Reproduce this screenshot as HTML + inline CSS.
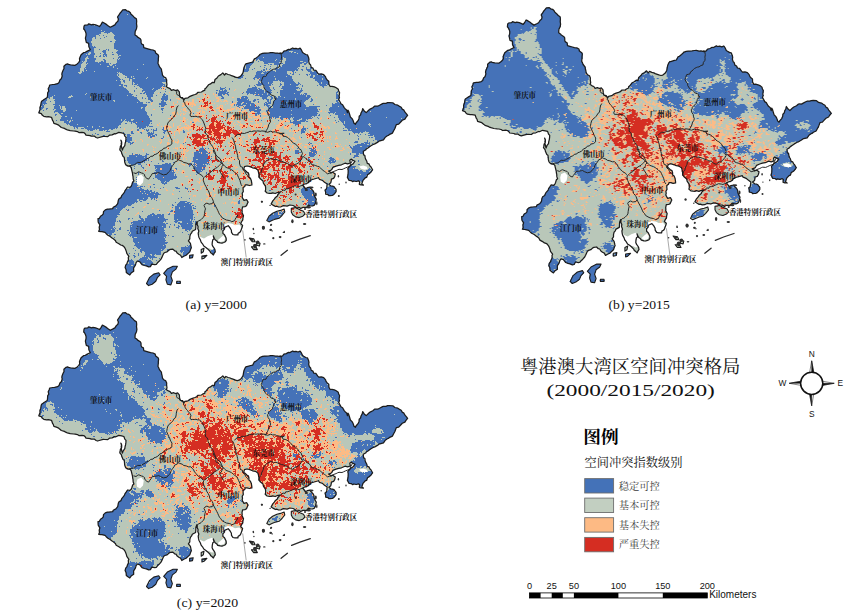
<!DOCTYPE html><html><head><meta charset="utf-8"><style>html,body{margin:0;padding:0;background:#fff}body{width:865px;height:612px;overflow:hidden;font-family:"Liberation Sans",sans-serif}svg{display:block}</style></head><body>
<svg width="865" height="612" viewBox="0 0 865 612">
<defs><filter id="soft" x="-2%" y="-2%" width="104%" height="104%"><feGaussianBlur stdDeviation="0.45"/></filter><path id="ol" d="M38.8,112.8 40.0,109.7 39.9,107.4 40.7,105.4 41.2,102.4 41.6,101.2 43.5,99.9 44.9,99.0 47.2,97.5 47.5,95.8 47.7,92.6 48.8,91.1 48.2,88.8 49.3,86.5 49.7,85.0 52.9,84.5 54.6,84.4 57.6,83.7 59.0,82.6 59.9,80.0 61.3,78.8 62.2,76.0 61.8,74.2 62.2,72.5 63.2,70.0 64.0,68.7 63.9,66.3 66.1,64.3 67.6,63.9 68.5,64.4 71.1,65.0 72.9,65.1 75.1,65.3 77.2,63.9 78.8,62.4 79.7,60.7 79.5,58.6 80.3,56.6 81.1,54.8 83.8,52.5 85.3,52.3 87.3,51.1 90.3,49.7 89.2,47.5 88.8,46.6 88.7,43.3 86.3,42.4 85.8,40.1 85.4,38.1 86.0,35.7 86.1,33.8 85.6,32.0 84.5,29.8 83.7,29.0 84.0,26.2 84.8,25.1 87.8,24.8 88.8,23.8 91.5,24.8 93.0,24.3 95.6,24.8 97.4,25.5 99.5,26.5 101.0,24.6 102.4,22.1 103.3,22.5 106.4,24.4 108.4,26.0 110.3,27.2 113.0,25.9 114.9,24.9 116.3,22.6 117.9,21.2 118.4,19.0 117.5,17.0 118.8,15.2 120.3,12.8 120.9,12.3 122.7,9.9 125.6,9.7 126.9,10.9 128.9,11.4 130.4,12.8 131.0,14.2 132.9,15.8 134.5,17.6 136.4,18.8 136.7,21.3 136.5,23.7 136.9,26.3 136.5,28.7 135.3,31.1 135.1,32.4 135.0,34.9 136.7,36.0 137.6,37.1 140.3,38.8 141.0,40.0 141.1,42.8 141.7,44.0 143.4,44.9 143.8,47.7 146.2,48.4 148.7,49.1 150.7,49.7 153.1,50.0 155.2,51.1 155.7,53.1 158.3,55.1 158.6,56.4 158.3,58.7 158.3,60.1 158.0,63.5 158.7,64.7 159.4,66.6 161.4,69.1 161.7,71.4 162.0,72.0 162.5,75.1 163.8,76.8 165.8,77.9 166.7,80.0 166.6,81.9 167.0,85.0 166.2,86.4 168.4,87.9 170.1,88.6 171.4,90.4 173.7,89.7 175.7,90.6 177.6,89.9 179.3,91.9 179.6,95.0 180.3,97.3 182.5,97.7 183.9,99.9 184.9,98.4 188.0,97.8 190.0,96.3 192.4,95.3 194.9,94.5 196.6,93.8 198.0,92.3 201.5,92.0 202.7,91.1 204.9,90.1 204.9,88.8 206.1,87.9 208.5,84.8 210.5,83.9 212.5,82.3 214.3,82.7 215.0,79.5 217.0,77.9 218.4,76.0 220.9,74.6 222.8,72.9 224.5,75.0 225.9,73.5 228.1,74.5 230.2,75.0 231.5,75.7 235.1,76.9 234.2,76.8 237.3,77.6 239.1,77.2 241.3,75.4 242.5,73.7 243.1,72.3 243.6,69.4 244.0,67.5 245.0,65.2 246.1,63.6 246.9,63.7 250.7,62.5 252.7,62.1 254.4,58.8 255.7,58.4 257.8,56.6 259.9,54.7 259.7,54.5 262.5,53.4 264.4,53.2 265.8,53.2 268.3,53.0 270.7,52.6 272.6,52.5 275.4,53.2 277.2,53.0 280.3,53.7 282.6,52.9 283.9,51.2 286.3,50.6 288.4,49.4 289.7,49.6 292.7,48.0 293.8,48.6 296.0,48.3 298.1,49.0 300.1,48.1 301.4,49.9 302.6,52.5 303.8,53.3 305.7,54.5 307.5,54.9 308.6,57.6 309.0,59.5 308.7,61.2 309.4,63.8 310.5,64.7 311.2,67.2 312.9,68.1 313.7,70.1 315.9,70.4 317.6,72.9 318.8,74.2 321.3,73.9 323.7,74.7 325.6,76.9 325.9,78.2 327.2,79.9 328.8,81.2 328.9,84.2 330.2,86.5 331.9,86.3 334.4,86.9 336.2,87.7 338.3,89.3 338.7,91.1 339.6,92.5 339.1,96.2 339.5,97.6 338.7,99.5 340.4,102.5 340.9,103.7 342.6,104.7 344.2,107.6 345.1,108.7 346.6,109.9 347.5,112.7 348.0,110.2 348.7,111.4 349.6,114.3 350.4,117.0 352.1,118.6 353.1,120.5 354.0,123.2 355.4,124.3 356.0,123.0 358.2,120.4 359.0,118.4 359.2,116.3 360.6,114.9 361.0,113.0 362.2,110.9 362.7,108.6 364.4,111.2 366.2,112.6 367.0,111.9 368.9,110.0 370.1,109.1 372.8,107.8 374.8,106.1 375.9,106.0 377.7,106.2 380.0,105.0 382.1,103.9 383.3,103.3 385.9,103.3 387.6,102.7 389.5,102.5 392.8,102.8 394.9,104.5 397.8,105.2 399.1,106.1 401.2,107.3 402.4,109.4 403.7,109.9 405.0,112.2 406.5,113.9 407.6,115.4 405.8,117.6 404.9,119.1 402.3,120.3 400.7,122.0 398.7,124.2 396.4,124.6 395.8,126.0 394.9,128.5 393.9,130.3 392.4,133.1 389.2,134.6 389.0,135.0 386.5,136.3 385.0,137.6 383.5,139.9 380.0,140.8 379.6,140.8 377.4,142.4 374.8,143.9 373.5,144.3 370.6,146.0 367.6,148.2 366.6,148.7 365.6,150.0 363.3,151.3 363.4,153.0 363.6,154.9 364.8,155.3 365.2,157.7 365.7,159.4 366.7,161.0 367.3,163.3 368.9,163.9 370.0,166.0 370.9,166.8 372.6,169.8 371.8,170.9 370.6,172.5 369.3,173.6 367.5,174.7 366.7,177.3 365.4,177.7 365.1,178.0 363.0,180.3 361.8,183.9 363.4,185.1 361.1,185.0 359.3,184.3 359.7,181.7 358.5,180.8 356.3,181.5 353.9,181.0 352.7,181.7 351.2,180.6 349.1,180.5 347.4,177.4 348.0,174.5 348.1,173.2 348.2,170.5 347.8,168.9 348.0,168.2 350.0,166.1 351.0,165.0 353.1,163.9 355.0,161.2 353.0,160.2 351.1,159.1 349.8,160.3 350.4,163.0 347.6,163.9 345.0,163.2 341.5,164.8 338.7,165.3 336.0,166.1 332.9,167.4 331.7,169.6 330.8,170.3 328.5,171.0 331.2,172.7 332.7,172.2 335.3,173.9 334.7,176.6 333.6,178.4 331.4,179.1 331.3,180.3 330.8,182.7 328.9,184.2 330.9,185.9 332.6,186.1 334.2,186.9 334.9,187.9 336.1,189.4 336.1,191.6 335.1,193.0 333.5,194.7 332.3,195.4 330.4,195.6 328.8,195.7 328.1,194.6 325.7,194.2 325.6,192.1 325.0,190.0 326.2,189.3 326.8,187.4 327.1,184.1 326.1,183.3 324.5,182.2 322.4,180.4 321.3,180.0 319.4,179.3 318.5,177.7 317.7,178.0 314.1,179.0 312.8,179.3 309.7,180.7 308.8,182.2 306.3,183.8 305.2,183.8 302.7,185.0 305.0,188.0 305.2,188.8 307.3,187.7 310.1,187.1 310.8,188.5 312.8,190.4 314.0,192.6 314.1,194.7 315.3,197.7 316.3,199.1 315.5,202.9 315.1,203.9 314.1,205.3 312.3,206.0 310.4,205.9 308.4,205.2 306.4,207.7 304.9,207.4 302.9,207.4 300.7,208.5 298.9,207.3 295.7,207.0 293.1,205.5 289.9,205.0 287.1,206.1 285.5,205.8 283.3,205.6 281.0,206.8 278.6,207.0 276.6,206.2 275.4,206.5 273.5,205.4 271.2,203.9 272.8,200.9 274.3,199.2 275.5,197.4 277.6,195.7 277.7,194.7 279.0,193.5 279.9,192.2 276.9,192.7 275.2,193.5 272.7,192.8 271.2,193.4 269.3,193.3 267.1,193.0 265.2,191.2 265.6,189.8 265.6,187.4 265.4,186.2 263.4,183.2 263.0,181.0 260.3,178.8 259.0,176.9 258.9,174.5 258.4,171.8 257.8,169.9 255.4,168.3 252.5,167.8 250.6,166.9 247.5,166.0 246.7,166.0 244.5,166.6 243.7,169.4 245.0,170.2 247.1,172.3 248.3,172.8 248.9,174.7 248.9,177.1 250.4,178.2 251.3,180.4 251.8,183.3 251.9,185.0 249.4,185.5 247.0,184.8 245.3,184.8 244.8,186.4 243.1,187.6 243.1,189.3 243.3,191.5 242.2,193.4 242.5,195.4 242.1,197.0 242.9,198.7 244.0,200.4 246.7,199.7 248.1,202.1 247.5,203.3 246.5,205.7 244.9,206.6 242.6,206.8 242.0,209.7 242.2,211.6 241.9,212.3 243.5,215.8 242.9,218.2 242.8,219.9 241.4,222.0 240.7,223.7 242.6,225.4 242.2,227.1 241.3,229.4 240.8,230.9 239.8,232.4 238.2,233.2 237.9,234.9 235.0,234.9 232.9,234.5 231.5,232.3 231.4,230.3 230.1,228.0 228.2,225.7 224.6,227.4 224.5,229.1 222.9,230.8 222.9,233.4 224.5,234.8 225.0,235.8 226.1,238.1 226.3,240.2 225.3,241.8 223.8,242.5 222.0,243.1 220.2,242.9 217.7,242.3 216.8,240.9 215.1,239.7 214.3,238.2 213.3,236.0 214.1,238.8 212.8,239.8 212.3,242.1 212.1,244.6 212.7,246.2 214.1,248.1 214.9,249.5 215.3,251.8 214.3,253.0 213.4,255.0 211.6,253.2 210.6,252.6 210.0,251.2 207.7,248.9 205.9,247.4 203.8,246.0 202.5,243.8 201.1,242.1 200.4,240.0 198.9,237.2 198.5,235.4 198.2,233.1 198.8,231.1 197.8,228.6 198.1,226.7 197.0,224.0 197.0,221.6 195.9,224.3 195.8,227.2 195.6,229.5 192.3,231.2 191.6,232.9 190.4,234.3 189.8,236.8 189.8,238.9 188.4,240.9 190.4,243.4 191.1,246.6 191.4,247.8 190.8,248.9 189.8,251.9 187.6,253.9 186.1,255.3 183.8,256.3 181.8,257.5 180.6,255.2 178.8,254.3 177.2,253.1 176.0,251.1 174.6,250.8 172.9,249.1 170.2,249.4 168.8,250.2 167.1,251.8 164.9,252.5 163.8,253.2 162.7,255.5 161.9,257.4 161.0,259.1 159.1,261.3 157.5,262.8 156.3,264.3 154.7,264.7 151.8,264.1 150.4,266.6 148.7,266.9 146.3,265.9 144.3,265.5 142.0,264.6 140.7,263.0 139.9,261.8 137.3,261.0 136.1,262.6 135.5,264.9 134.3,266.8 133.6,267.9 133.7,271.3 131.1,273.1 129.8,275.0 128.3,274.0 126.3,272.4 126.1,269.8 125.1,267.6 125.7,265.2 127.0,263.6 127.3,262.3 128.5,259.9 128.3,257.6 128.9,256.3 126.8,253.4 126.3,251.4 125.4,249.0 125.0,248.2 123.5,246.2 122.2,245.4 120.7,245.0 118.9,243.7 116.2,242.2 115.3,240.4 113.3,238.7 112.4,238.2 110.1,236.4 107.9,235.3 106.2,233.7 105.0,232.4 101.9,231.7 101.0,231.6 98.7,231.3 99.5,229.6 99.2,227.1 99.9,224.8 98.6,222.9 98.2,221.9 98.0,218.7 99.3,218.4 100.5,216.2 102.3,215.0 103.3,213.9 103.5,211.6 105.3,209.9 107.4,209.1 108.7,209.1 112.7,208.7 113.2,207.2 115.9,205.9 117.7,203.7 118.3,200.3 119.0,198.8 121.0,197.6 121.9,195.3 123.6,193.3 124.5,192.2 124.9,190.8 126.3,188.8 127.5,187.0 130.0,187.4 131.2,186.2 131.9,184.5 132.7,181.9 133.9,180.9 133.2,179.0 133.0,176.3 132.7,175.1 132.5,173.1 131.3,168.4 131.3,167.8 130.2,166.4 127.9,166.0 125.9,164.9 125.3,163.9 124.7,162.0 124.4,158.5 124.2,157.3 123.1,156.5 121.6,153.1 121.5,151.9 119.8,149.8 120.1,148.5 120.4,146.3 121.6,144.6 121.7,142.6 120.9,140.2 121.7,141.9 121.2,143.2 121.4,146.0 121.7,147.6 122.4,150.1 123.2,147.8 124.8,145.7 125.1,143.5 125.6,141.7 125.9,139.4 126.0,137.4 124.8,136.1 123.9,133.5 121.6,132.9 118.8,132.4 115.9,133.8 114.8,133.6 112.1,134.9 109.4,135.2 107.8,136.6 104.9,136.5 103.1,136.4 99.2,137.5 97.6,138.0 96.1,137.5 94.2,136.1 91.3,136.2 90.2,135.6 86.0,135.1 85.2,133.8 83.7,132.6 81.9,132.3 78.9,132.6 77.4,131.6 75.1,131.1 73.5,131.0 70.2,130.6 67.3,129.8 65.7,129.2 64.4,128.4 61.3,127.5 60.2,126.5 58.1,124.8 56.4,124.2 53.9,123.4 53.3,121.3 52.6,120.5 51.5,117.3 48.3,116.7 46.6,116.8 43.8,116.3 42.4,115.3 41.3,113.7Z"/><path id="isl" d="M291.3,208.3 295.6,207.6 299.9,209.7 303.5,211.2 305.0,214.0 302.8,216.2 299.2,217.6 295.6,216.9 292.7,214.7 291.3,211.9ZM266.8,220.5 269.0,216.2 272.6,213.3 276.9,211.2 280.5,210.4 284.1,209.0 284.8,211.9 282.0,215.5 279.1,218.3 275.5,219.1 271.9,220.5 269.0,221.9ZM146.5,283.5 149.4,277.7 153.7,274.1 158.7,272.7 160.1,274.8 157.3,277.7 155.8,281.3 152.2,284.2 148.6,285.6ZM163.7,273.4 167.3,269.1 173.1,266.2 177.4,266.2 176.0,269.1 172.4,271.9 170.9,276.3 172.4,280.6 170.9,284.9 167.3,284.2 165.9,279.9 166.6,276.3ZM176.7,281.3 180.3,281.3 180.3,283.5 176.7,283.5ZM189.6,255.4 193.2,254.7 192.5,257.6 189.6,258.3ZM201.2,249.6 204.0,248.2 203.3,251.8 201.2,253.2ZM201.9,256.1 206.9,255.4 204.0,258.3 201.9,259.0ZM249.4,238.1 253.7,238.8 255.1,241.7 252.2,241.7ZM256.5,242.4 260.1,243.2 259.4,246.0 256.8,245.3ZM251.5,246.8 255.8,246.8 257.3,249.6 253.7,249.6Z"/><path id="wat" d="M137.5,176.2 141.2,174.5 143.8,177.5 143.0,182.5 140.0,185.5 137.0,183.8 136.5,179.5ZM198.7,233.8 200.4,237.1 204.0,238.6 207.6,236.3 211.9,234.8 213.7,236.3 214.1,238.8 211.9,242.4 212.7,246.0 214.8,248.9 211.9,249.6 209.1,248.2 206.9,248.6 204.0,246.0 201.2,241.7 199.0,237.4ZM222.7,230.9 224.9,227.3 227.8,225.9 229.9,228.1 232.1,232.4 235.0,235.3 238.6,233.8 240.7,230.9 241.4,227.3 239.3,224.5 235.0,225.2 232.1,223.7 227.8,223.0 224.2,224.5 222.3,227.3ZM217.7,240.3 220.6,242.0 224.2,241.0 225.2,238.1 223.5,235.3 220.6,237.7ZM359.0,166.4 363.3,165.4 366.9,166.8 367.6,169.0 364.7,169.7 361.2,168.7Z"/><path id="inn" d="M279.8,52.1 281.1,53.7 281.3,55.1 281.6,56.8 281.2,59.3 281.4,60.8 281.2,62.5 279.7,64.5 279.3,67.0 277.3,67.6 275.3,69.0 273.8,69.2 273.1,69.4 270.6,70.7 269.9,71.3 268.3,73.1 267.0,73.8 266.0,76.2 264.6,76.4 262.9,76.8 262.0,79.5 261.3,81.6 262.4,83.9 264.0,85.9 264.0,87.6 265.6,90.2 267.0,91.7 268.6,92.0 270.0,93.5 270.8,94.8 274.0,96.0 275.0,96.6 274.5,98.3 276.3,98.9 274.6,100.1 273.6,101.6 273.2,103.8 272.5,105.5 271.3,106.9 269.8,108.2 268.3,109.6 268.5,110.9 267.5,111.7 268.1,114.5 269.5,116.5 269.9,119.0 270.6,120.9 270.0,122.8 268.9,124.2 268.1,127.1 267.4,128.8 266.4,130.4 265.1,132.1 266.5,131.7M183.8,99.6 183.4,101.8 184.7,102.3 185.0,104.2 186.2,106.2 187.6,107.6 187.7,108.0 189.8,110.3 191.0,112.8 190.0,115.0 191.0,116.7 192.2,116.4 194.2,116.5 196.0,116.2 197.3,116.8 199.6,116.9 200.8,118.2 202.2,119.7 203.1,121.1 203.9,123.0 204.7,125.2 205.2,126.8 205.9,128.1 205.2,129.8 205.6,131.4 205.3,133.4 206.9,134.5 207.8,136.2 208.1,138.9 209.3,140.6 210.2,143.3 211.0,144.4 212.6,146.5 213.2,147.6 213.9,149.3 214.4,150.9 215.5,153.3 215.6,155.3 216.1,157.8 216.1,159.0 217.6,159.6 219.6,161.4 220.6,161.9 222.2,163.9 223.4,164.8 221.8,166.7 221.8,167.5 221.2,169.3 219.5,170.6 220.7,172.8 221.5,174.1 223.1,176.8 224.5,178.1M234.6,137.3 235.7,135.8 238.0,134.3 240.3,134.6 241.9,133.2 244.4,133.5 246.7,132.6 249.0,132.0 249.8,131.2 251.6,131.6 254.1,130.9 256.3,131.2 257.7,130.9 260.9,131.3 261.8,130.9 265.1,131.3 266.7,132.0 267.6,132.3 270.7,131.2 272.7,132.0 275.2,131.8 276.6,132.6 279.4,133.1 280.9,133.4 283.2,133.2 284.2,133.3 282.3,133.8 279.7,133.7 282.1,133.7 283.1,136.3 285.1,136.4 287.6,137.4 288.6,138.5 290.3,139.7 292.1,142.0 293.7,143.2 295.1,143.9 296.8,145.2 298.3,147.0 299.2,148.8 301.4,150.1 301.3,150.7 302.5,153.7 301.2,155.9 302.4,157.6 301.2,159.7 300.1,161.0 298.8,162.7 296.6,164.0 295.9,164.1 294.1,165.1 292.5,166.4 290.3,165.6 289.2,164.7 287.6,163.4 285.1,162.9 283.1,161.8 281.3,161.5 279.1,160.5 277.2,159.8 275.2,159.2 273.6,159.7 271.7,158.5 270.0,158.8 267.7,160.1 266.2,161.0 264.9,162.6 263.7,164.2 263.2,166.7 262.7,167.7 261.5,170.1 261.2,172.3 259.8,173.8 259.2,175.8 258.8,177.5M232.0,137.5 232.6,138.2 233.6,140.1 234.5,143.2 235.0,144.8 235.5,146.2 235.8,149.0 236.2,150.0 236.8,151.8 237.2,153.8 237.6,155.3 237.8,157.3 238.2,159.1 239.5,160.5 239.5,163.9 239.6,163.7 240.5,166.6 242.5,167.2 242.8,169.1 243.3,170.2 245.0,171.6 245.7,173.5 247.5,175.4 247.8,176.3M184.0,99.4 181.5,98.2 180.2,97.1 178.9,95.5 177.2,94.8 176.6,93.8 176.7,91.4 176.1,90.0M178.5,105.7 177.1,106.8 176.3,110.2 176.2,111.9 175.5,114.7 174.0,115.7 173.4,117.1 172.0,118.9 171.1,119.8 169.1,121.3 167.9,123.0 167.2,125.5 166.9,127.3 166.6,128.6 167.8,131.3 168.6,133.3 169.6,135.1 170.3,137.1 171.1,138.7 172.0,140.1 171.8,142.0 171.9,143.9 169.9,145.6 167.5,146.1 165.7,148.0 163.6,148.3 162.3,150.0 159.6,151.1 159.2,151.9 157.8,153.2 155.8,154.3 154.0,154.8 153.0,156.1 150.6,156.4 149.0,158.1 146.7,158.7 145.6,159.9 143.0,161.2 141.6,162.1 140.0,162.5 137.5,162.4 136.2,163.4 134.2,164.9 132.0,165.3 131.1,165.3 128.6,165.9 126.6,165.8M133.5,172.8 136.0,173.5 137.8,172.2 138.8,171.8 141.6,173.0 143.2,173.4 144.7,174.9 144.6,176.2 146.0,177.3 146.6,178.4 148.7,179.1 149.6,177.6 151.2,175.5 152.3,173.5 155.1,173.3 157.8,172.8 158.8,172.6 160.6,173.7 163.6,174.9 166.9,174.2 167.7,173.1 168.6,172.0 170.3,170.4 171.1,167.8 172.4,165.8 173.0,165.1 174.4,163.1 174.6,162.2 177.6,160.8 178.4,159.7 179.7,160.4 182.2,161.2 183.8,162.5 186.2,162.9 188.7,163.9 190.9,163.8 192.6,165.7 193.6,166.8 194.5,168.9 195.7,170.2 196.6,171.6 198.5,173.0 199.3,174.0 201.8,175.3 202.9,176.9M204.2,177.5 206.2,175.4 207.7,174.4 208.9,174.0 210.2,172.0 211.8,171.4 212.8,170.1 215.5,168.3 217.3,167.4 219.1,165.6 220.4,164.3 222.0,162.7 221.4,161.2 220.1,158.7 218.0,157.1 216.8,156.0 215.5,154.3 213.8,152.2 213.3,150.0M203.7,177.4 203.2,180.1 204.1,182.8 204.7,184.3 205.9,186.5 207.0,188.8 208.2,190.5 209.3,193.0 209.8,195.5 211.6,197.5 212.3,198.6 213.5,201.7 212.2,203.7 210.1,203.9 209.2,204.2 206.9,203.1 205.0,204.0 204.0,205.5 204.8,207.3 205.5,208.9 205.0,210.2 204.5,213.4 204.2,216.0 202.9,217.8 201.3,219.4 200.0,220.4 198.8,220.5 197.3,222.3 197.2,223.5 196.0,224.8M213.2,201.8 214.3,203.9 215.5,206.1 216.7,208.3 217.7,210.3 218.5,212.2 219.5,214.3 220.9,215.8 221.8,217.5 224.3,219.0 226.4,220.0 229.8,220.6 230.6,220.8 231.6,221.9 234.7,220.6 235.2,219.3 236.0,217.5 236.9,217.0 237.8,214.7M222.2,163.1 222.9,164.3 224.8,166.3 226.1,167.4 228.2,168.2 229.9,168.8 231.5,169.7 233.0,170.8 234.4,171.9 235.3,172.9 236.8,173.7 237.8,175.8 238.5,177.3 239.9,180.3 240.6,182.9 241.1,184.5 242.1,186.0M302.4,156.3 304.4,157.1 306.2,158.9 307.6,160.0 309.3,160.8 310.8,163.0 311.0,164.0 312.6,164.7 314.4,165.2 315.7,165.6 317.4,166.3 319.2,166.8 320.7,168.1 322.3,169.9 324.6,171.5 325.6,172.2 327.4,173.8 329.6,173.3 331.1,173.1 332.8,172.1 333.2,171.6 336.1,170.6 337.6,169.8 339.0,169.3 342.0,169.5 343.6,168.8 345.5,167.9 347.4,167.1 349.9,166.2 350.5,163.8 351.7,161.9 352.5,160.0M280.0,192.1 281.5,191.7 282.9,190.0 285.1,190.4 285.6,188.9 287.9,188.7 290.1,187.8 291.4,187.3 293.1,186.6 294.8,185.8 297.6,186.2 299.2,186.6 300.8,185.8 302.8,185.3"/><g id="spk" fill="#303030"><ellipse cx="306.4" cy="189.9" rx="1.5" ry="1.2"/><ellipse cx="311.5" cy="187.4" rx="2.0" ry="1.0"/><ellipse cx="315.8" cy="194.6" rx="1.0" ry="2.0"/><ellipse cx="316.8" cy="203.2" rx="0.7" ry="2.0"/><ellipse cx="308.6" cy="207.2" rx="2.0" ry="1.2"/><ellipse cx="305.0" cy="209.0" rx="1.0" ry="1.0"/><ellipse cx="338.4" cy="176.3" rx="0.7" ry="1.2"/><ellipse cx="346.0" cy="182.4" rx="0.7" ry="1.0"/><ellipse cx="339.2" cy="184.2" rx="0.7" ry="0.7"/><ellipse cx="338.8" cy="196.0" rx="1.0" ry="1.0"/><ellipse cx="292.4" cy="221.2" rx="1.2" ry="2.0"/><ellipse cx="304.6" cy="224.1" rx="1.7" ry="1.0"/><ellipse cx="261.8" cy="201.4" rx="1.0" ry="0.7"/><ellipse cx="270.1" cy="205.4" rx="0.7" ry="0.7"/><ellipse cx="263.3" cy="227.7" rx="1.5" ry="2.0"/><ellipse cx="271.2" cy="224.8" rx="1.0" ry="1.0"/><ellipse cx="272.2" cy="230.9" rx="0.7" ry="0.7"/><ellipse cx="283.8" cy="232.4" rx="1.2" ry="0.7"/><ellipse cx="253.5" cy="229.5" rx="0.7" ry="0.7"/><ellipse cx="253.9" cy="233.5" rx="0.7" ry="0.7"/><ellipse cx="321.2" cy="187.8" rx="0.7" ry="0.7"/><ellipse cx="295.6" cy="194.6" rx="1.0" ry="1.0"/><ellipse cx="252.0" cy="239.7" rx="1.4" ry="1.4"/><ellipse cx="255.1" cy="245.5" rx="2.1" ry="1.8"/><ellipse cx="257.7" cy="242.3" rx="1.8" ry="1.8"/><ellipse cx="255.1" cy="247.5" rx="1.4" ry="1.1"/><ellipse cx="261.9" cy="201.8" rx="1.1" ry="1.1"/><ellipse cx="263.5" cy="227.8" rx="1.4" ry="1.8"/><ellipse cx="270.7" cy="229.9" rx="1.4" ry="1.1"/><ellipse cx="273.3" cy="238.2" rx="1.1" ry="1.1"/><ellipse cx="280.1" cy="237.1" rx="1.4" ry="1.1"/><ellipse cx="284.3" cy="231.9" rx="0.7" ry="1.1"/><ellipse cx="253.3" cy="228.8" rx="0.8" ry="1.1"/><ellipse cx="270.7" cy="225.2" rx="0.7" ry="0.7"/><ellipse cx="264.3" cy="243.9" rx="1.3" ry="0.7"/><ellipse cx="244.9" cy="239.9" rx="0.8" ry="0.8"/><path d="M291.6,242.4 299.9,239.1 310.3,235.6" fill="none" stroke="#2b2b2b" stroke-width="1.3" stroke-linecap="round"/><path d="M281.1,255.3 287.4,250.3" fill="none" stroke="#2b2b2b" stroke-width="1.3" stroke-linecap="round"/></g></defs>
<g transform="translate(0.0,0.0)">
<use href="#ol" fill="#b9c7b9"/><use href="#isl" fill="#b9c7b9"/><use href="#wat" fill="#fff"/>
<g transform="translate(0,0.5)" fill="none" stroke-width="1.02" filter="url(#soft)">
<path stroke="#4472b8" d="M122 10h5M121 11h8M121 12h9M120 13h11M119 14h8m1 0h3M118 15h15M118 16h16M118 17h16M118 18h18M118 19h19M118 20h19M117 21h20M102 22h1m13 0h21M102 23h3m11 0h21M88 24h3m1 0h2m7 0h6m8 0h22M84 25h10m1 0h3m2 0h8m6 0h23M84 26h25m3 0h25M84 27h53M84 28h53M84 29h52M85 30h16m1 0h34M85 31h19m1 0h30M86 32h15m3 0h6m2 0h23M86 33h15m6 0h1m5 0h22M86 34h13m15 0h21M86 35h10m3 0h1m3 0h1m11 0h21M86 36h10m10 0h1m7 0h23M85 37h8m2 0h1m8 0h1m9 0h24M85 38h7m3 0h1m4 0h1m13 0h26M86 39h6m23 0h26M86 40h6m24 0h25M86 41h5m19 0h2m3 0h26M87 42h4m24 0h26M88 43h4m22 0h28M88 44h4m22 0h29M89 45h3m22 0h30M89 46h4m1 0h1m19 0h30M89 47h7m18 0h30M90 48h4m20 0h33m147 0h3m2 0h2M90 49h4m5 0h1m6 0h1m1 0h1m7 0h34m140 0h11M88 50h6m9 0h3m2 0h1m9 0h36m132 0h16M87 51h7m8 0h4m11 0h38m128 0h6m4 0h9M85 52h4m2 0h3m9 0h3m6 0h1m3 0h40m115 0h2m10 0h8m1 0h2m2 0h7M83 53h5m3 0h4m5 0h1m3 0h2m11 0h39m106 0h35m1 0h6M81 54h5m1 0h1m2 0h5m8 0h4m5 0h2m4 0h40m102 0h46M81 55h13m6 0h1m2 0h1m1 0h2m11 0h1m2 0h38m100 0h49M80 56h7m1 0h6m2 0h1m2 0h2m2 0h2m1 0h1m12 0h40m99 0h50M80 57h6m2 0h6m24 0h41m98 0h6m1 0h19m1 0h25M79 58h6m4 0h7m17 0h1m4 0h1m1 0h39m96 0h28m3 0h23M79 59h6m2 0h9m7 0h2m12 0h1m1 0h40m95 0h1m1 0h2m1 0h17m1 0h6m3 0h23M79 60h6m2 0h8m9 0h2m11 0h42m94 0h1m2 0h1m3 0h15m1 0h4m6 0h23M79 61h3m1 0h1m3 0h8m6 0h2m1 0h2m11 0h41m95 0h1m4 0h1m4 0h18m4 0h15m3 0h5M79 62h4m3 0h12m1 0h7m11 0h41m92 0h4m10 0h15m6 0h19m2 0h2M77 63h5m4 0h1m1 0h21m1 0h1m5 0h42m88 0h7m11 0h4m6 0h6m1 0h2m2 0h17m2 0h3M66 64h3m7 0h5m6 0h13m1 0h8m4 0h30m1 0h15m86 0h7m16 0h1m1 0h2m2 0h6m3 0h17m4 0h2M65 65h16m5 0h24m2 0h3m1 0h43m87 0h5m13 0h2m11 0h1m4 0h18M64 66h17m5 0h21m2 0h4m1 0h46m84 0h1m1 0h4m10 0h1m9 0h1m6 0h1m2 0h1m1 0h18m2 0h2M64 67h17m4 0h28m1 0h46m84 0h1m1 0h4m14 0h1m11 0h1m3 0h18m8 0h1m3 0h2M64 68h16m4 0h1m1 0h31m1 0h43m83 0h1m1 0h3m5 0h1m11 0h1m3 0h1m4 0h3m1 0h18m1 0h1m7 0h1m3 0h2M63 69h17m4 0h53m1 0h24m81 0h6m3 0h1m10 0h2m1 0h1m2 0h1m5 0h23m3 0h2m3 0h5M63 70h17m4 0h2m1 0h75m81 0h6m12 0h1m1 0h2m6 0h2m3 0h19m1 0h2m4 0h1m4 0h4M62 71h18m2 0h1m1 0h10m1 0h67m81 0h5m9 0h6m2 0h1m1 0h8m1 0h11m5 0h2m14 0h4m2 0h2M62 72h16m4 0h35m1 0h1m1 0h42m94 0h6m1 0h24m6 0h1m1 0h1m14 0h7M62 73h17m2 0h37m4 0h40m80 0h1m13 0h5m3 0h23m3 0h1m2 0h1m16 0h8M62 74h55m1 0h1m4 0h40m79 0h1m13 0h32m4 0h2m5 0h1m6 0h2m1 0h1m1 0h6m1 0h5M62 75h55m1 0h1m6 0h38m78 0h3m11 0h10m1 0h24m17 0h1m3 0h2m2 0h7m1 0h2M62 76h56m9 0h4m1 0h1m1 0h29m77 0h3m12 0h19m1 0h11m1 0h5m18 0h3m2 0h10M62 77h57m6 0h1m1 0h4m1 0h15m1 0h17m70 0h8m11 0h38m18 0h3m1 0h12M61 78h59m9 0h4m2 0h11m1 0h17m74 0h3m4 0h1m7 0h2m2 0h2m1 0h15m1 0h16m21 0h9m1 0h3M60 79h61m1 0h1m6 0h1m2 0h34m88 0h1m4 0h16m1 0h17m22 0h7m1 0h4M60 80h56m1 0h3m3 0h2m4 0h1m2 0h34m93 0h19m1 0h14m22 0h13M59 81h62m2 0h2m7 0h34m66 0h1m25 0h1m2 0h12m7 0h1m1 0h12m23 0h12M59 82h62m3 0h1m7 0h1m1 0h28m96 0h2m1 0h7m1 0h4m11 0h11m3 0h1m19 0h3m1 0h7M58 83h63m11 0h1m2 0h28m95 0h10m1 0h3m8 0h1m3 0h12m2 0h2m19 0h2m1 0h7M52 84h71m9 0h1m1 0h3m1 0h27m91 0h15m1 0h1m7 0h2m2 0h6m1 0h8m1 0h1m18 0h7m1 0h2M49 85h70m2 0h2m1 0h3m10 0h26m1 0h1m84 0h1m4 0h1m2 0h4m3 0h7m9 0h1m3 0h14m4 0h1m14 0h1m2 0h7M49 86h74m3 0h1m7 0h1m4 0h23m1 0h2m84 0h1m5 0h1m9 0h4m10 0h1m2 0h14m6 0h1m19 0h2M49 87h75m16 0h21m59 0h1m4 0h1m26 0h5m7 0h6m3 0h1m8 0h17m24 0h1M49 88h77m10 0h1m5 0h11m1 0h6m1 0h1m1 0h1m56 0h5m4 0h1m18 0h9m1 0h2m5 0h5m3 0h1m7 0h17m1 0h1m1 0h1M49 89h78m16 0h9m1 0h5m7 0h1m54 0h3m2 0h1m3 0h1m17 0h11m1 0h3m3 0h6m3 0h1m8 0h13m5 0h1M49 90h79m6 0h1m7 0h14m60 0h2m1 0h1m2 0h1m1 0h3m20 0h17m2 0h6m8 0h17m3 0h3M48 91h81m5 0h1m7 0h1m2 0h10m10 0h1m53 0h8m19 0h18m1 0h6m9 0h22m35 0h1M48 92h81m15 0h10m6 0h1m55 0h1m2 0h7m1 0h2m14 0h1m2 0h9m1 0h8m1 0h7m5 0h1m2 0h21m35 0h2M47 93h39m1 0h44m9 0h2m1 0h2m1 0h8m10 0h1m51 0h1m1 0h10m14 0h1m4 0h2m1 0h17m1 0h3m9 0h14m1 0h5m4 0h3m29 0h1M48 94h37m1 0h47m13 0h7m10 0h3m52 0h4m1 0h2m2 0h2m18 0h1m5 0h1m2 0h2m1 0h3m1 0h4m1 0h2m10 0h20m1 0h1m1 0h1m1 0h2m29 0h2m1 0h1M48 95h6m1 0h16m1 0h55m1 0h4m4 0h1m10 0h6m3 0h1m6 0h2m1 0h2m50 0h4m6 0h1m26 0h15m10 0h26m1 0h3m26 0h3M47 96h5m1 0h16m4 0h17m1 0h43m13 0h6m9 0h6m53 0h2m19 0h5m13 0h8m2 0h2m3 0h1m2 0h2m1 0h25m1 0h4m25 0h3M47 97h3m3 0h15m3 0h19m1 0h46m5 0h1m5 0h3m11 0h6m54 0h2m17 0h3m1 0h3m14 0h5m4 0h2m2 0h2m1 0h6m1 0h25m26 0h4M45 98h2m2 0h1m3 0h84m5 0h1m2 0h1m2 0h3m10 0h7m53 0h3m13 0h3m1 0h7m14 0h5m4 0h2m2 0h20m1 0h13m2 0h1m24 0h3M44 99h3m8 0h83m10 0h4m9 0h7m2 0h1m66 0h10m1 0h1m5 0h2m1 0h2m4 0h1m2 0h3m1 0h2m3 0h20m1 0h12m3 0h2m25 0h1M42 100h5m7 0h59m2 0h24m11 0h3m9 0h2m1 0h2m3 0h1m66 0h12m4 0h3m11 0h2m1 0h1m3 0h32m5 0h2m23 0h3M41 101h5m4 0h1m4 0h59m1 0h25m11 0h2m8 0h3m68 0h1m5 0h13m2 0h2m3 0h1m8 0h2m1 0h1m2 0h9m1 0h22m5 0h2m24 0h2M41 102h5m9 0h82m1 0h5m3 0h1m1 0h2m11 0h5m66 0h1m4 0h5m2 0h7m7 0h1m6 0h2m1 0h3m2 0h13m1 0h17m33 0h2m49 0h1M41 103h6m8 0h88m16 0h7m71 0h4m2 0h3m1 0h7m10 0h1m1 0h5m2 0h31m28 0h1m2 0h6m42 0h11M41 104h2m1 0h1m8 0h94m12 0h8m67 0h1m1 0h5m1 0h8m1 0h4m9 0h4m5 0h32m8 0h1m18 0h10m39 0h14M40 105h4m11 0h4m1 0h87m14 0h4m69 0h1m1 0h1m1 0h5m3 0h4m1 0h4m9 0h1m1 0h4m2 0h34m20 0h1m5 0h11m36 0h19M40 106h1m1 0h2m10 0h6m1 0h1m3 0h81m13 0h1m1 0h3m73 0h2m4 0h1m1 0h10m1 0h1m1 0h1m8 0h2m1 0h1m2 0h33m3 0h11m12 0h6m1 0h5m30 0h26M40 107h4m10 0h6m1 0h1m3 0h76m2 0h2m94 0h1m4 0h16m8 0h3m2 0h44m13 0h14m29 0h28M40 108h3m3 0h2m6 0h6m1 0h1m4 0h75m1 0h3m16 0h3m78 0h1m1 0h15m9 0h49m12 0h16m26 0h31M40 109h2m4 0h1m6 0h1m2 0h5m5 0h79m16 0h2m86 0h6m2 0h4m8 0h36m1 0h12m1 0h1m9 0h17m16 0h1m6 0h34M39 110h1m3 0h1m11 0h8m3 0h10m1 0h68m17 0h1m78 0h1m7 0h12m5 0h25m1 0h26m11 0h18m15 0h2m4 0h36M39 111h1m14 0h9m2 0h81m104 0h1m3 0h6m6 0h1m2 0h50m11 0h19m13 0h3m2 0h3m1 0h34M39 112h1m14 0h1m3 0h89m15 0h1m94 0h3m10 0h47m11 0h7m1 0h13m12 0h44M59 113h2m2 0h84m46 0h1m61 0h6m9 0h48m11 0h1m3 0h1m1 0h14m12 0h45M55 114h2m3 0h87m4 0h1m90 0h1m12 0h2m1 0h1m10 0h22m1 0h25m2 0h1m15 0h9m1 0h5m11 0h46M55 115h1m5 0h87m3 0h1m18 0h1m71 0h1m12 0h2m3 0h1m9 0h47m1 0h2m10 0h1m7 0h12m10 0h48M62 116h3m2 0h82m111 0h1m9 0h9m2 0h31m2 0h1m23 0h12m9 0h48M61 117h10m1 0h77m74 0h1m46 0h2m1 0h1m1 0h4m1 0h11m1 0h1m1 0h17m1 0h1m4 0h1m16 0h1m3 0h13m8 0h27m1 0h19M61 118h10m1 0h78m121 0h1m3 0h1m4 0h3m5 0h2m3 0h8m1 0h10m6 0h1m20 0h13m7 0h42m1 0h3M60 119h61m1 0h3m1 0h5m3 0h16m131 0h2m6 0h1m3 0h6m3 0h4m1 0h1m31 0h14m5 0h46M56 120h1m3 0h7m1 0h2m1 0h1m1 0h48m1 0h2m1 0h6m2 0h19m109 0h1m16 0h1m11 0h1m3 0h3m3 0h6m29 0h1m4 0h13m5 0h44M64 121h5m2 0h52m4 0h1m1 0h13m1 0h9m138 0h1m2 0h12m1 0h2m30 0h1m2 0h3m1 0h9m3 0h44M64 122h5m1 0h52m9 0h1m1 0h3m1 0h13m42 0h2m96 0h11m35 0h1m5 0h2m1 0h9m2 0h44M66 123h55m4 0h2m4 0h1m3 0h15m1 0h1m141 0h8m42 0h1m1 0h9m2 0h13m1 0h29M67 124h1m1 0h8m1 0h43m15 0h13m146 0h3m45 0h25m3 0h26M70 125h49m18 0h12m136 0h1m9 0h1m48 0h25m1 0h26M73 126h14m1 0h4m1 0h6m1 0h18m19 0h9m1 0h1m1 0h4m150 0h1m41 0h25m1 0h25M74 127h1m1 0h2m6 0h8m1 0h9m2 0h14m2 0h1m16 0h1m1 0h7m17 0h1m139 0h1m41 0h50M74 128h1m2 0h1m3 0h3m1 0h30m1 0h1m22 0h2m1 0h2m12 0h1m6 0h1m127 0h1m10 0h4m1 0h1m35 0h1m3 0h9m1 0h38M87 129h8m1 0h1m2 0h10m2 0h2m24 0h2m5 0h1m1 0h1m1 0h1m2 0h1m1 0h1m2 0h1m5 0h2m137 0h5m42 0h2m1 0h44M88 130h1m1 0h3m6 0h4m1 0h1m2 0h1m29 0h2m7 0h3m4 0h4m6 0h4m16 0h1m117 0h3m1 0h1m37 0h4m1 0h46M106 131h4m21 0h2m14 0h1m5 0h1m10 0h2m17 0h2m116 0h4m47 0h13m1 0h27M79 132h1m43 0h1m7 0h2m7 0h2m6 0h2m1 0h1m1 0h1m9 0h2m18 0h2m110 0h1m5 0h4m48 0h7m1 0h2m6 0h24M95 133h1m35 0h3m7 0h1m5 0h7m10 0h1m136 0h1m47 0h1m4 0h1m3 0h1m9 0h24M92 134h1m4 0h2m25 0h2m1 0h3m18 0h5m2 0h2m192 0h1m10 0h1m4 0h1m4 0h20M103 135h2m22 0h4m17 0h3m1 0h3m1 0h1m200 0h1m10 0h5m1 0h15M103 136h2m22 0h3m18 0h1m1 0h5m8 0h1m194 0h1m15 0h13M126 137h6m18 0h2m11 0h1m137 0h1m67 0h1m1 0h2m2 0h10M127 138h5m29 0h2m195 0h1m16 0h10M126 139h6m226 0h1m16 0h9M126 140h6m235 0h1m5 0h1m3 0h4M125 141h5m225 0h3m9 0h1m9 0h2M121 142h1m6 0h3m1 0h2m51 0h1m123 0h1m44 0h4m6 0h4m1 0h1M121 143h1m8 0h3m50 0h1m124 0h1m1 0h2m49 0h3m1 0h5m2 0h1M130 144h1m226 0h10m2 0h1M312 145h1m36 0h1m5 0h15M202 146h1m109 0h1m37 0h1m2 0h7m2 0h8M202 147h1m47 0h1m99 0h2m1 0h14m1 0h1M200 148h4m1 0h1m2 0h1m88 0h1m11 0h3m2 0h1m36 0h15M199 149h5m107 0h3m1 0h1m36 0h14M199 150h7m89 0h4m11 0h6m36 0h13M196 151h11m88 0h4m12 0h6m35 0h12M194 152h5m1 0h1m1 0h6m87 0h6m8 0h3m1 0h4m35 0h12M132 153h1m13 0h1m47 0h7m1 0h4m2 0h2m85 0h3m11 0h6m1 0h1m33 0h1m5 0h3m1 0h4M132 154h1m2 0h3m1 0h1m6 0h3m45 0h14m101 0h7m34 0h1m5 0h3M129 155h13m3 0h2m47 0h14m1 0h1m99 0h6m39 0h4M129 156h7m1 0h10m47 0h14m3 0h1m98 0h4m40 0h5M127 157h17m1 0h2m46 0h15m60 0h1m61 0h2m21 0h2M127 158h21m45 0h14m4 0h1m96 0h1m20 0h5M124 159h1m2 0h20m1 0h1m44 0h3m2 0h11m1 0h1m97 0h2m8 0h1m11 0h5M124 160h2m1 0h20m1 0h1m13 0h1m30 0h16m2 0h1m97 0h1m19 0h5m1 0h1m22 0h1M128 161h17m6 0h1m10 0h2m28 0h17m90 0h2m27 0h3m1 0h4m22 0h1M128 162h15m1 0h1m28 0h1m20 0h13m13 0h1m84 0h1m23 0h6M129 163h12m17 0h1m6 0h3m1 0h2m20 0h1m2 0h1m1 0h13m121 0h1M131 164h5m2 0h3m5 0h1m15 0h9m18 0h2m2 0h3m1 0h6m1 0h1m2 0h1m1 0h1m148 0h2M130 165h2m9 0h1m12 0h18m17 0h2m3 0h1m1 0h10m144 0h2M134 166h1m6 0h1m13 0h17m17 0h1m4 0h2m1 0h9m103 0h1m17 0h1m5 0h2m14 0h7M131 167h1m10 0h2m11 0h17m22 0h8m1 0h1m144 0h7M131 168h1m2 0h1m8 0h1m11 0h1m1 0h3m2 0h10m3 0h2m16 0h9m1 0h2m143 0h5m1 0h1m14 0h1M156 169h4m2 0h10m4 0h1m17 0h1m1 0h9m143 0h10m10 0h3M155 170h19m21 0h6m1 0h1m145 0h11m1 0h2m4 0h4m1 0h1M156 171h16m1 0h1m22 0h6m146 0h15m3 0h3m1 0h2M138 172h1m15 0h21m21 0h4m6 0h1m141 0h23M135 173h1m2 0h1m15 0h3m1 0h16m23 0h2m7 0h1m20 0h1m120 0h22M138 174h1m16 0h1m1 0h17m1 0h1m20 0h1m151 0h12m1 0h7M155 175h19m1 0h1m172 0h18M155 176h22m51 0h1m118 0h20M136 177h1m18 0h8m1 0h13m50 0h1m119 0h19M153 178h1m3 0h19m172 0h17M136 179h1m21 0h15m175 0h16M160 180h10m179 0h2m1 0h11M136 181h1m24 0h4m1 0h3m183 0h1m2 0h2m4 0h2M132 182h2m27 0h3m1 0h2m192 0h1M132 183h5m25 0h5m160 0h1m31 0h1M132 184h5m16 0h2m9 0h1m162 0h1M131 185h7M131 186h6m3 0h3m1 0h1m5 0h1m178 0h5M129 187h12m9 0h1m3 0h1m8 0h1m11 0h3m7 0h1m117 0h2m3 0h3m16 0h8M129 188h10m1 0h2m18 0h1m15 0h4m5 0h3m111 0h1m2 0h3m1 0h5m15 0h9M126 189h18m3 0h1m39 0h1m113 0h9m16 0h8M125 190h24m1 0h2m117 0h2m30 0h12m12 0h11M125 191h15m1 0h3m1 0h7m2 0h1m24 0h1m8 0h1m112 0h13m12 0h10M124 192h26m1 0h4m1 0h2m143 0h13m11 0h11M123 193h19m1 0h2m1 0h13m143 0h12m11 0h1m1 0h8M123 194h24m1 0h6m1 0h6m141 0h10m1 0h1m13 0h7M122 195h36m145 0h9m1 0h2m14 0h3M121 196h37m146 0h11M121 197h27m2 0h8m23 0h1m108 0h1m9 0h1m3 0h12M119 198h24m1 0h4m3 0h2m1 0h1m1 0h1m21 0h1m10 0h1m115 0h11M119 199h18m2 0h8m4 0h1m2 0h1m151 0h1m1 0h8M118 200h19m2 0h1m3 0h3m10 0h1m82 0h1m68 0h8M118 201h20m2 0h2m38 0h7m51 0h2m62 0h2m4 0h4m2 0h2M118 202h17m1 0h1m38 0h1m3 0h6m2 0h3m48 0h2m67 0h9M117 203h17m13 0h2m29 0h11m1 0h2m46 0h2m66 0h1m1 0h7M117 204h15m40 0h1m4 0h14m23 0h1m91 0h1m1 0h7M116 205h11m1 0h3m41 0h2m3 0h14m1 0h2m20 0h2m93 0h1m1 0h2M114 206h12m49 0h9m1 0h7m3 0h1m18 0h1M113 207h12m7 0h2m38 0h1m2 0h4m1 0h12m1 0h1M112 208h4m1 0h6m52 0h4m1 0h12m1 0h3M106 209h16m4 0h1m1 0h1m46 0h17M105 210h16m6 0h2m30 0h1m11 0h2m2 0h18M103 211h17m22 0h1m27 0h3m2 0h18m83 0h1m4 0h1m1 0h1M103 212h17m54 0h19m81 0h4m1 0h2m1 0h1M103 213h16m33 0h2m15 0h1m5 0h18m81 0h4m1 0h4M103 214h17m30 0h5m2 0h4m1 0h2m4 0h2m4 0h20m77 0h2m1 0h4m3 0h2M101 215h16m22 0h1m8 0h4m1 0h11m10 0h19m77 0h11M100 216h18m21 0h2m6 0h17m10 0h19m77 0h9M100 217h17m22 0h2m6 0h11m1 0h5m10 0h19m1 0h1m73 0h12M98 218h18m12 0h2m2 0h1m7 0h3m2 0h20m9 0h19m75 0h11M98 219h18m12 0h1m12 0h3m1 0h23m6 0h3m1 0h12m1 0h2m1 0h1m73 0h5M98 220h18m3 0h1m18 0h6m1 0h21m9 0h15m1 0h1m76 0h4M98 221h18m1 0h1m1 0h2m12 0h31m1 0h1m8 0h4m4 0h10m1 0h1m1 0h1m73 0h1M98 222h17m5 0h1m10 0h11m1 0h20m12 0h2m1 0h2m2 0h10m3 0h1M99 223h16m16 0h1m1 0h32m1 0h2m10 0h9m1 0h5m2 0h1M99 224h16m17 0h34m4 0h1m3 0h1m5 0h12m3 0h1M100 225h15m15 0h36m8 0h1m3 0h1m2 0h12M99 226h14m17 0h1m1 0h30m1 0h3m3 0h1m8 0h2m1 0h12m18 0h1M99 227h14m1 0h1m5 0h1m9 0h36m3 0h1m6 0h3m3 0h10M99 228h15m1 0h1m3 0h2m9 0h34m14 0h1m3 0h10M99 229h12m1 0h3m4 0h2m9 0h34m21 0h6M99 230h16m2 0h1m9 0h2m1 0h35m20 0h2m2 0h1M99 231h16m15 0h34m23 0h1M105 232h9m15 0h1m1 0h15m1 0h18m17 0h1M106 233h6m17 0h1m1 0h34M109 234h3m2 0h2m12 0h1m1 0h36m22 0h1M109 235h2m18 0h38m1 0h1M130 236h1m1 0h34m6 0h2M114 237h1m17 0h2m3 0h27m1 0h1M133 238h32M133 239h32M133 240h33M133 241h32M134 242h4m1 0h29M135 243h32M135 244h30m25 0h1M134 245h29m1 0h2m21 0h1m1 0h2M136 246h30m19 0h1m2 0h3M137 247h29m15 0h10M133 248h1m4 0h2m1 0h24m16 0h10M140 249h21m1 0h2m3 0h2m12 0h9m23 0h2M135 250h1m4 0h23m4 0h2m11 0h10m21 0h4M140 251h2m2 0h17m19 0h3m1 0h6m11 0h1m9 0h4M141 252h1m3 0h16m20 0h1m1 0h6m12 0h1m10 0h3M129 253h1m4 0h1m3 0h1m6 0h16m22 0h5m24 0h2M138 254h1m6 0h5m2 0h3m1 0h5m22 0h4m26 0h1M133 255h2m3 0h1m5 0h7m1 0h2m29 0h3m4 0h3m12 0h1M134 256h2m8 0h1m1 0h9m27 0h2m5 0h4m9 0h4M134 257h1m7 0h6m1 0h8m32 0h4m11 0h1M140 258h8m2 0h1m1 0h1m6 0h1m43 0h1M131 259h1m7 0h8m1 0h1m3 0h1M128 260h5m5 0h13m5 0h1M128 261h6m5 0h13M129 262h5m6 0h13M129 263h5m7 0h2m2 0h8M126 264h10m6 0h10M125 265h6m2 0h2m9 0h7M125 266h10m13 0h3m21 0h5M125 267h9m37 0h6M125 268h9m34 0h8M126 269h8m33 0h9M126 270h8m32 0h8M126 271h8m31 0h8M126 272h6m32 0h8M128 273h3m25 0h3m5 0h8M129 274h1m23 0h7m5 0h7M152 275h8m6 0h5M151 276h8m7 0h5M149 277h9m8 0h5M149 278h8m9 0h6M148 279h9m9 0h6M148 280h8m10 0h6M147 281h9m10 0h6m5 0h1m1 0h1M147 282h8m12 0h5m4 0h5M146 283h7m14 0h4m6 0h1M147 284h4m18 0h2M148 285h1"/>
<path stroke="#fcbb86" d="M254 60h1M267 70h1M291 72h1M259 78h1M258 79h1M270 86h1M162 87h3m97 0h1M162 88h1m1 0h1M162 89h3m70 0h1M234 90h1M169 92h1m72 0h1M158 93h1m44 0h1m9 0h1M195 94h1m2 0h1m4 0h2m8 0h1m1 0h2m8 0h1m29 0h1m2 0h1M174 95h1m21 0h1m7 0h2m1 0h2m6 0h1M204 96h1m2 0h2m6 0h1M201 97h1m1 0h2m1 0h1m1 0h2m6 0h3m13 0h2m6 0h1m75 0h1M176 98h4m17 0h3m3 0h1m3 0h2m7 0h3m21 0h1M160 99h1m17 0h2m12 0h2m5 0h1m5 0h2m11 0h2M192 100h2m5 0h4m2 0h1m4 0h1m2 0h1m3 0h2m1 0h1m3 0h3M169 101h1m7 0h1m5 0h1m2 0h2m1 0h1m2 0h2m6 0h1m1 0h1m1 0h1m1 0h1m3 0h1m5 0h3m2 0h1m1 0h2m1 0h2M152 102h1m20 0h1m3 0h1m6 0h10m2 0h1m2 0h1m2 0h2m5 0h1m20 0h1m4 0h1m7 0h1M151 103h1m21 0h1m8 0h6m1 0h6m13 0h1m2 0h2m1 0h1m12 0h1m4 0h4m21 0h2m56 0h1M151 104h1m21 0h1m1 0h2m6 0h5m1 0h7m8 0h1m1 0h1m1 0h1m1 0h1m14 0h1m4 0h4m21 0h1M174 105h1m7 0h3m3 0h1m1 0h1m1 0h1m1 0h2m4 0h1m1 0h2m7 0h1m5 0h1m2 0h3m8 0h2M147 106h1m22 0h1m3 0h1m7 0h2m7 0h2m6 0h2m1 0h1m3 0h2m1 0h1m2 0h1m6 0h2m1 0h1m8 0h1m10 0h1m1 0h1m10 0h1M164 107h1m5 0h1m1 0h2m26 0h1m2 0h6m8 0h6m7 0h1m5 0h2m3 0h2m21 0h1M172 108h1m10 0h3m4 0h1m7 0h5m1 0h3m2 0h1m2 0h1m3 0h4m1 0h2m8 0h4m1 0h1m1 0h3m20 0h1M153 109h2m26 0h1m1 0h3m5 0h1m10 0h1m2 0h2m2 0h3m1 0h2m4 0h1m2 0h2m3 0h7m2 0h1m2 0h2m6 0h2m13 0h2m54 0h1M183 110h3m4 0h2m8 0h1m1 0h1m3 0h1m7 0h1m3 0h4m1 0h9m8 0h1m3 0h2m75 0h1M174 111h1m5 0h1m4 0h2m3 0h2m1 0h1m5 0h2m1 0h3m9 0h2m3 0h2m1 0h1m1 0h1m1 0h1m1 0h1m9 0h3m1 0h4m5 0h3m13 0h2m51 0h2m3 0h1M172 112h3m2 0h1m11 0h3m4 0h4m2 0h3m4 0h1m5 0h1m4 0h1m7 0h1m2 0h2m6 0h2m1 0h4m1 0h1m2 0h5m8 0h2m3 0h2M172 113h4m1 0h1m3 0h1m1 0h1m1 0h1m5 0h1m5 0h2m1 0h1m1 0h1m1 0h1m15 0h3m14 0h1m1 0h1m4 0h2m1 0h1m1 0h3m9 0h5m3 0h1M173 114h3m2 0h1m1 0h1m2 0h2m6 0h1m3 0h5m12 0h1m1 0h2m3 0h2m5 0h1m11 0h1m1 0h1m3 0h5m3 0h3m7 0h5m77 0h1M172 115h4m4 0h1m14 0h3m1 0h5m8 0h1m1 0h1m1 0h1m2 0h4m9 0h1m1 0h2m3 0h3m1 0h3m1 0h2m1 0h3m1 0h1m3 0h2m8 0h1M171 116h1m1 0h1m1 0h1m14 0h1m1 0h2m8 0h2m2 0h1m5 0h1m2 0h1m2 0h1m1 0h1m2 0h2m6 0h2m1 0h2m3 0h2m7 0h2m3 0h7m67 0h1M171 117h2m10 0h2m14 0h3m3 0h1m11 0h2m3 0h1m3 0h2m2 0h5m1 0h1m1 0h3m5 0h1m1 0h4m1 0h8m2 0h3m1 0h1m4 0h1m48 0h1m5 0h1M168 118h3m1 0h1m10 0h3m8 0h4m1 0h2m6 0h1m2 0h1m17 0h3m1 0h3m2 0h1m3 0h1m4 0h2m3 0h1m5 0h1m1 0h2m2 0h1m8 0h1m5 0h2m4 0h2m1 0h1m32 0h2m5 0h1m1 0h1M171 119h2m10 0h2m2 0h1m5 0h6m11 0h1m5 0h1m3 0h1m2 0h2m3 0h1m2 0h3m11 0h1m1 0h1m6 0h4m22 0h1m3 0h2m23 0h2m1 0h1m7 0h1M169 120h1m2 0h1m7 0h1m1 0h4m7 0h6m18 0h1m6 0h1m2 0h2m15 0h1m2 0h1m8 0h1m11 0h1m1 0h1m2 0h1m6 0h1m2 0h1m1 0h3m9 0h1m13 0h1M169 121h1m12 0h1m1 0h2m4 0h2m2 0h3m1 0h2m8 0h1m1 0h1m7 0h1m8 0h1m2 0h3m4 0h2m1 0h1m4 0h2m3 0h3m2 0h2m1 0h1m4 0h1m4 0h2m11 0h4m1 0h4m21 0h2M136 122h1m46 0h2m5 0h2m2 0h2m4 0h1m13 0h2m4 0h1m5 0h1m4 0h1m2 0h1m3 0h2m7 0h1m8 0h1m13 0h1m8 0h5m49 0h2M159 123h1m13 0h1m6 0h1m4 0h1m4 0h1m1 0h3m14 0h2m3 0h3m16 0h1m6 0h1m3 0h2m2 0h1m7 0h1m2 0h3m12 0h1m4 0h2m1 0h1m9 0h1m19 0h1m8 0h1m12 0h1M157 124h1m9 0h1m5 0h1m11 0h2m5 0h1m2 0h1m13 0h1m4 0h2m5 0h2m5 0h1m1 0h1m2 0h1m1 0h1m1 0h1m2 0h3m3 0h1m3 0h1m3 0h5m2 0h1m5 0h1m10 0h4m1 0h1m5 0h4m6 0h1m12 0h2m1 0h1m3 0h1m2 0h1M157 125h2m6 0h4m4 0h1m5 0h2m6 0h2m1 0h3m2 0h1m5 0h1m3 0h1m8 0h2m5 0h1m12 0h1m4 0h4m2 0h3m1 0h1m1 0h3m1 0h4m1 0h2m2 0h3m9 0h4m2 0h2m3 0h1m1 0h2m8 0h1m1 0h1m4 0h1m6 0h1m7 0h2M161 126h1m2 0h2m2 0h3m2 0h1m3 0h2m5 0h1m1 0h1m1 0h3m3 0h3m2 0h2m6 0h2m6 0h1m7 0h1m2 0h1m3 0h1m1 0h1m1 0h1m6 0h2m2 0h3m1 0h2m2 0h1m1 0h6m3 0h4m9 0h5m2 0h3m1 0h3m8 0h4m2 0h2m6 0h1m5 0h1m2 0h3m2 0h2M164 127h2m1 0h5m5 0h2m2 0h12m2 0h1m1 0h2m1 0h2m1 0h1m1 0h4m16 0h1m6 0h1m7 0h2m1 0h3m5 0h3m1 0h1m1 0h1m3 0h1m1 0h2m1 0h1m9 0h5m3 0h5m12 0h2m7 0h1m9 0h2m1 0h4m1 0h2M124 128h1m39 0h4m1 0h1m7 0h6m1 0h8m2 0h2m1 0h2m1 0h1m1 0h1m12 0h2m6 0h1m1 0h2m5 0h1m8 0h2m8 0h4m3 0h1m2 0h2m4 0h1m8 0h3m5 0h5m9 0h1m2 0h1m7 0h2m5 0h1m2 0h1m2 0h1m1 0h2m2 0h2m26 0h1M124 129h1m7 0h1m31 0h2m1 0h1m1 0h1m6 0h1m1 0h3m1 0h1m2 0h1m1 0h2m3 0h1m1 0h1m1 0h1m11 0h1m2 0h1m9 0h3m2 0h1m7 0h1m17 0h4m6 0h1m10 0h2m1 0h3m8 0h1m10 0h3m6 0h1m10 0h1m1 0h1m1 0h1M131 130h1m10 0h2m32 0h6m6 0h1m3 0h1m13 0h3m2 0h1m8 0h3m15 0h1m2 0h1m9 0h1m20 0h2m5 0h1m9 0h2m2 0h1m1 0h3m2 0h1m8 0h1m8 0h1m1 0h1m1 0h1m2 0h1M137 131h2m3 0h1m24 0h2m2 0h1m2 0h2m2 0h2m10 0h1m1 0h1m1 0h1m10 0h1m1 0h1m4 0h1m6 0h4m2 0h1m5 0h1m8 0h2m13 0h1m13 0h1m2 0h2m1 0h1m1 0h1m1 0h1m9 0h2m1 0h6m11 0h5m11 0h2M138 132h1m32 0h2m1 0h1m4 0h1m7 0h4m5 0h1m6 0h1m2 0h1m5 0h2m6 0h1m1 0h3m14 0h2m5 0h1m20 0h2m4 0h1m2 0h2m2 0h2m12 0h1m11 0h1m3 0h4m9 0h1m1 0h1m9 0h1M174 133h1m4 0h1m7 0h2m22 0h2m19 0h1m23 0h1m2 0h1m6 0h1m6 0h1m1 0h4m1 0h2m12 0h2m9 0h2m1 0h2m1 0h2m5 0h1m2 0h1m1 0h1m11 0h2m16 0h1M174 134h1m12 0h1m1 0h1m14 0h1m2 0h2m3 0h2m7 0h2m14 0h1m10 0h1m2 0h1m8 0h1m12 0h7m2 0h3m1 0h1m6 0h1m11 0h1m1 0h1m3 0h3m9 0h2M167 135h3m2 0h1m1 0h1m12 0h2m12 0h1m4 0h1m4 0h3m16 0h1m3 0h1m2 0h2m9 0h5m1 0h1m5 0h1m11 0h2m2 0h7m1 0h1m1 0h1m6 0h1m12 0h1m1 0h1m7 0h1m2 0h1m1 0h1m1 0h2M130 136h1m16 0h1m1 0h1m17 0h2m22 0h1m13 0h1m3 0h2m2 0h1m1 0h2m9 0h1m1 0h1m1 0h1m3 0h1m5 0h1m2 0h1m4 0h2m17 0h1m1 0h1m3 0h1m1 0h1m2 0h2m1 0h3m3 0h2m10 0h1m7 0h2m1 0h1m7 0h2m1 0h1m2 0h2m1 0h1m1 0h2m5 0h1M148 137h2m2 0h2m20 0h1m10 0h1m18 0h4m6 0h1m9 0h1m3 0h2m4 0h2m2 0h2m2 0h1m1 0h1m4 0h1m15 0h2m6 0h2m3 0h1m2 0h1m6 0h1m1 0h1m1 0h2m5 0h1m6 0h1m1 0h2m4 0h1m5 0h3m1 0h1m2 0h1m1 0h2m5 0h1M153 138h1m10 0h1m6 0h1m13 0h1m5 0h1m1 0h1m4 0h2m2 0h1m5 0h1m8 0h1m4 0h2m2 0h1m2 0h1m4 0h2m2 0h1m1 0h2m6 0h1m1 0h1m14 0h1m3 0h1m2 0h1m1 0h1m3 0h3m10 0h4m4 0h2m6 0h2m11 0h2m1 0h3m1 0h1m1 0h1m5 0h3M140 139h2m18 0h2m6 0h1m2 0h1m5 0h1m6 0h3m3 0h1m1 0h1m4 0h3m1 0h2m6 0h1m10 0h7m5 0h2m1 0h2m2 0h3m17 0h1m11 0h3m1 0h1m2 0h1m6 0h1m4 0h2m1 0h3m4 0h1m12 0h1m7 0h2m7 0h1m4 0h1m10 0h1m13 0h1M135 140h1m6 0h1m18 0h1m6 0h1m2 0h3m4 0h1m5 0h2m5 0h1m9 0h3m6 0h2m1 0h1m2 0h1m8 0h1m4 0h2m3 0h2m2 0h3m3 0h3m5 0h1m6 0h1m6 0h1m8 0h4m5 0h2m2 0h1m3 0h1m2 0h1m16 0h1m6 0h1m2 0h1m3 0h1M135 141h1m6 0h1m16 0h1m1 0h1m10 0h2m1 0h1m1 0h2m5 0h2m15 0h2m2 0h2m5 0h1m1 0h1m8 0h2m5 0h3m3 0h1m1 0h1m1 0h1m1 0h1m2 0h1m5 0h1m18 0h2m6 0h1m8 0h1m1 0h2m1 0h4m22 0h3m1 0h1m2 0h1m1 0h2M160 142h2m5 0h2m6 0h4m4 0h2m16 0h1m6 0h1m1 0h1m1 0h1m2 0h1m12 0h1m3 0h1m1 0h2m4 0h1m1 0h1m3 0h4m15 0h4m5 0h3m2 0h1m5 0h1m1 0h3m1 0h2m24 0h1m5 0h1m25 0h1M133 143h1m26 0h1m6 0h3m7 0h1m14 0h1m13 0h1m4 0h2m9 0h2m4 0h4m1 0h2m5 0h2m5 0h1m11 0h1m4 0h1m3 0h1m3 0h1m2 0h3m1 0h1m6 0h1m4 0h1m6 0h4m7 0h1m13 0h1m7 0h1m3 0h3M147 144h2m18 0h2m11 0h2m2 0h1m9 0h1m9 0h1m1 0h1m7 0h1m6 0h1m8 0h3m1 0h1m1 0h3m1 0h2m3 0h1m2 0h1m7 0h1m1 0h1m9 0h1m6 0h1m9 0h2m10 0h1m1 0h2m4 0h4m1 0h1m3 0h3m2 0h1m1 0h1m9 0h1m5 0h1m2 0h1M147 145h1m19 0h1m12 0h3m5 0h1m17 0h1m6 0h3m2 0h1m10 0h1m2 0h2m5 0h2m1 0h2m1 0h2m2 0h1m1 0h2m1 0h1m9 0h1m8 0h2m5 0h3m1 0h4m2 0h1m1 0h2m3 0h3m2 0h1m5 0h1m7 0h2m17 0h4m6 0h1M121 146h1m30 0h1m27 0h4m1 0h1m8 0h2m4 0h2m1 0h2m8 0h4m2 0h1m9 0h1m1 0h1m2 0h1m4 0h1m2 0h1m3 0h4m2 0h1m2 0h1m1 0h1m6 0h1m2 0h1m2 0h1m1 0h4m5 0h4m7 0h2m1 0h1m3 0h2m3 0h3m3 0h1m2 0h2m1 0h1m19 0h4m1 0h1M153 147h1m1 0h1m11 0h2m6 0h1m1 0h1m1 0h5m1 0h1m2 0h1m1 0h2m3 0h2m12 0h7m3 0h1m1 0h3m10 0h1m9 0h2m13 0h1m4 0h2m1 0h1m2 0h1m5 0h2m9 0h1m3 0h3m5 0h1m1 0h1m2 0h3m3 0h1m1 0h1m1 0h1m1 0h1m10 0h3m2 0h1m1 0h1m2 0h1m5 0h1m3 0h2M167 148h1m5 0h1m1 0h3m3 0h2m1 0h1m3 0h1m4 0h1m10 0h1m6 0h4m1 0h1m15 0h1m1 0h1m11 0h2m4 0h1m3 0h1m2 0h2m2 0h1m1 0h2m1 0h2m7 0h1m2 0h2m7 0h1m2 0h1m1 0h1m11 0h1m5 0h1m3 0h1m12 0h1m12 0h2m5 0h2M142 149h2m9 0h1m14 0h1m8 0h1m5 0h4m3 0h1m5 0h3m22 0h1m2 0h1m2 0h1m5 0h1m12 0h1m2 0h2m5 0h1m1 0h3m1 0h1m4 0h1m13 0h5m1 0h2m1 0h1m2 0h1m4 0h1m15 0h1m1 0h1m1 0h1m10 0h2m12 0h2M143 150h1m39 0h3m1 0h2m9 0h1m9 0h1m1 0h3m18 0h2m13 0h1m5 0h1m1 0h3m1 0h2m2 0h1m7 0h2m4 0h1m7 0h1m5 0h1m2 0h1m12 0h1m9 0h3m21 0h3M143 151h1m9 0h2m3 0h1m15 0h1m6 0h1m1 0h2m1 0h2m20 0h1m2 0h1m11 0h1m14 0h2m6 0h1m1 0h1m3 0h1m7 0h1m2 0h1m12 0h1m2 0h1m2 0h2m3 0h1m22 0h1m13 0h1m25 0h1M125 152h1m28 0h1m4 0h1m15 0h2m4 0h1m1 0h2m7 0h1m8 0h1m6 0h1m2 0h2m15 0h2m3 0h1m1 0h1m2 0h1m1 0h1m9 0h3m1 0h1m4 0h1m8 0h1m1 0h1m41 0h1m4 0h1m6 0h1m23 0h1M136 153h1m22 0h1m16 0h1m3 0h2m1 0h3m15 0h1m8 0h2m17 0h1m5 0h2m1 0h3m19 0h1m10 0h1m1 0h1m29 0h1m11 0h1M133 154h1m41 0h3m4 0h1m1 0h1m23 0h1m19 0h1m1 0h1m5 0h2m1 0h1m15 0h1m12 0h1m8 0h1m7 0h1m1 0h1m16 0h1m2 0h1m16 0h1m5 0h1M175 155h1m1 0h5m1 0h2m23 0h1m1 0h1m26 0h1m12 0h1m2 0h1m1 0h1m10 0h1m1 0h1m16 0h1m3 0h1m28 0h1m1 0h1M176 156h1m1 0h2m1 0h1m1 0h2m29 0h1m10 0h1m14 0h1m4 0h1m1 0h1m11 0h1m12 0h1m15 0h1m2 0h1m26 0h1m3 0h1M173 157h1m3 0h4m2 0h1m1 0h2m23 0h1m1 0h1m1 0h1m9 0h2m3 0h1m2 0h3m1 0h1m1 0h3m14 0h1m5 0h1m4 0h2m4 0h1m9 0h1m16 0h1m18 0h1m17 0h2m19 0h1M124 158h1m48 0h1m3 0h2m4 0h1m40 0h1m1 0h3m1 0h4m5 0h2m3 0h3m2 0h2m3 0h1m10 0h1m8 0h1m7 0h1m3 0h1m6 0h1m28 0h1m1 0h1m11 0h3M154 159h1m5 0h1m16 0h1m1 0h2m2 0h1m2 0h1m24 0h1m5 0h1m2 0h3m1 0h7m1 0h2m3 0h1m2 0h1m3 0h4m3 0h2m11 0h2m4 0h1m5 0h1m7 0h1m8 0h1m13 0h1m4 0h1m11 0h1m11 0h3m4 0h1m8 0h1M151 160h1m27 0h2m9 0h1m19 0h1m11 0h5m1 0h4m4 0h1m6 0h1m28 0h1m3 0h1m7 0h1m1 0h1m2 0h1m18 0h1m2 0h2m30 0h1M177 161h1m3 0h1m8 0h1m28 0h1m4 0h1m3 0h1m2 0h1m33 0h3m1 0h3m4 0h1m4 0h1m11 0h1m3 0h1m4 0h1m1 0h2m19 0h2M185 162h1m21 0h1m5 0h1m27 0h1m1 0h1m5 0h2m8 0h1m1 0h2m14 0h1m8 0h1m11 0h2m1 0h1m14 0h2M181 163h1m13 0h1m31 0h2m10 0h1m10 0h1m3 0h1m5 0h1m7 0h1m3 0h1m3 0h2m6 0h1m2 0h1m6 0h1m8 0h1m3 0h1m2 0h1m12 0h1m20 0h1M147 164h2m30 0h1m2 0h3m6 0h1m4 0h1m15 0h2m9 0h1m6 0h1m8 0h1m8 0h4m8 0h2m4 0h1m19 0h1m8 0h1m1 0h1m9 0h2m8 0h1m5 0h1M148 165h1m35 0h1m10 0h1m19 0h1m8 0h1m4 0h1m4 0h1m8 0h1m2 0h1m10 0h2m1 0h2m2 0h3m3 0h1m4 0h1m11 0h1m5 0h1m3 0h1m1 0h2m9 0h2m5 0h1m15 0h2m1 0h1M149 166h1m58 0h1m1 0h2m7 0h2m6 0h1m5 0h2m1 0h1m12 0h1m11 0h2m8 0h1m2 0h1m6 0h1m3 0h1m12 0h2m1 0h1m3 0h1m15 0h1M146 167h1m27 0h1m27 0h1m20 0h1m3 0h1m3 0h1m3 0h3m14 0h1m8 0h3m2 0h2m2 0h2m3 0h1m1 0h2m2 0h1m1 0h1m12 0h1m1 0h1m1 0h1m14 0h2m1 0h2m7 0h1m4 0h1M160 168h2m40 0h1m3 0h1m2 0h1m4 0h1m7 0h1m4 0h2m6 0h1m21 0h2m12 0h2m2 0h1m3 0h2m16 0h1m2 0h1m4 0h1m5 0h1m5 0h1m1 0h1m7 0h2m24 0h1M145 169h1m14 0h2m12 0h2m16 0h1m16 0h1m10 0h1m21 0h1m14 0h1m10 0h1m8 0h1m4 0h1m5 0h1m5 0h1m6 0h3m1 0h1m12 0h1M146 170h1m27 0h2m2 0h1m3 0h2m38 0h1m4 0h1m5 0h3m1 0h1m5 0h1m15 0h1m4 0h3m5 0h1m15 0h1m13 0h1m4 0h1m4 0h1m12 0h3M145 171h1m28 0h1m7 0h3m8 0h2m19 0h2m3 0h1m6 0h1m1 0h1m4 0h2m1 0h2m2 0h1m2 0h1m15 0h1m7 0h1m23 0h2m15 0h1m16 0h3M177 172h1m3 0h2m26 0h1m5 0h1m3 0h1m1 0h1m12 0h3m4 0h1m1 0h1m22 0h1m4 0h2m2 0h1m9 0h1m11 0h2m3 0h2m13 0h2m6 0h3M157 173h1m24 0h1m1 0h1m49 0h1m1 0h2m3 0h2m15 0h1m1 0h1m5 0h2m2 0h2m5 0h1m5 0h4m5 0h1m4 0h1m5 0h1m3 0h1m8 0h1m1 0h1m14 0h1M156 174h1m61 0h1m6 0h8m1 0h1m1 0h1m4 0h3m2 0h1m16 0h1m7 0h1m1 0h1m3 0h1m3 0h1m2 0h2m9 0h1m3 0h1m2 0h1m7 0h1m7 0h1m14 0h1M190 175h1m4 0h1m11 0h1m7 0h1m5 0h1m7 0h4m3 0h1m3 0h2m3 0h4m15 0h2m21 0h1m1 0h1m3 0h1m19 0h2m2 0h2M185 176h3m24 0h1m1 0h1m14 0h3m2 0h1m1 0h1m3 0h3m2 0h1m14 0h1m6 0h1m1 0h1m9 0h1m2 0h1m25 0h2m7 0h3M163 177h1m43 0h1m6 0h1m11 0h1m2 0h2m8 0h1m2 0h1m4 0h1m16 0h1m1 0h1m7 0h1m5 0h2m30 0h2m4 0h3m1 0h2M191 178h1m7 0h1m4 0h1m28 0h1m1 0h1m12 0h1m16 0h1m3 0h1m15 0h1m8 0h1m17 0h1m6 0h2M188 179h1m10 0h1m2 0h3m10 0h1m4 0h1m10 0h1m1 0h1m6 0h2m2 0h1m3 0h2m14 0h1m1 0h1m14 0h1m1 0h5m6 0h1m35 0h1M189 180h3m8 0h1m1 0h1m7 0h1m1 0h1m14 0h1m3 0h1m1 0h1m14 0h1m32 0h1m6 0h1m12 0h2m5 0h1m15 0h1m5 0h1M188 181h1m1 0h1m6 0h1m1 0h2m12 0h1m12 0h1m7 0h1m36 0h1m3 0h1m4 0h2m5 0h1m9 0h1m4 0h1m21 0h1m4 0h1M188 182h2m8 0h2m18 0h1m60 0h1m7 0h1M181 183h2m5 0h1m10 0h1m26 0h1m17 0h1m5 0h1m13 0h1m10 0h1m2 0h1m4 0h1m3 0h1m16 0h1M148 184h3m30 0h1m1 0h1m33 0h1m8 0h1m5 0h1m11 0h1m1 0h1m2 0h1m14 0h2m2 0h2m8 0h1m4 0h4M203 185h1m8 0h1m13 0h1m1 0h2m12 0h2m5 0h1m32 0h1M137 186h1m10 0h1m40 0h2m9 0h4m11 0h2m2 0h1m4 0h1m10 0h1m6 0h2m35 0h2m4 0h1m8 0h1m1 0h1m1 0h1M201 187h1m3 0h1m7 0h1m6 0h2m14 0h1m5 0h2m27 0h1m8 0h2m10 0h1m1 0h1M165 188h1m26 0h3m5 0h2m12 0h2m5 0h1m4 0h1m1 0h1m3 0h1m41 0h2m6 0h1M157 189h1m2 0h1m5 0h1m21 0h1m11 0h1m6 0h2m15 0h1m4 0h1m2 0h1m3 0h1m5 0h1m36 0h1m4 0h1m7 0h1m17 0h1M166 190h2m5 0h1m22 0h1m9 0h1m6 0h2m14 0h1m1 0h2m2 0h2M140 191h1m46 0h1m26 0h1m4 0h1m1 0h1m7 0h1m1 0h1m45 0h1m1 0h1m1 0h2m5 0h1m5 0h1M210 192h2m6 0h1m8 0h1m2 0h2m6 0h1m38 0h1M172 193h1m33 0h1m2 0h2m73 0h1m3 0h1m10 0h1M147 194h1m24 0h2m15 0h2m15 0h4m1 0h1m2 0h2m12 0h1m7 0h1m3 0h1m49 0h1m4 0h3m14 0h1M193 195h3m11 0h3m1 0h1m2 0h1m24 0h3m37 0h1m6 0h1m12 0h2m11 0h1M193 196h1m1 0h1m12 0h1m2 0h1m1 0h2m6 0h1m19 0h1m34 0h2m12 0h1m5 0h1m1 0h1m1 0h1M208 197h1m30 0h2m43 0h1m1 0h1m4 0h1m5 0h2M155 198h1m34 0h1m15 0h3m3 0h2m19 0h2m3 0h1m1 0h1m37 0h2m1 0h1m1 0h1m6 0h1m6 0h2m5 0h1M157 199h1m43 0h1m4 0h2m4 0h1m16 0h1m3 0h2m43 0h1m2 0h1m6 0h2m11 0h5m1 0h1M160 200h1m40 0h1m71 0h4m1 0h2m1 0h1m2 0h2m1 0h3m1 0h1m4 0h1m8 0h2M160 201h1m31 0h2m10 0h1m27 0h1m42 0h3m4 0h1m2 0h2m9 0h2m7 0h3M195 202h1m10 0h1m18 0h1m5 0h6m5 0h1m33 0h2m4 0h4m18 0h3M211 203h3m9 0h1m1 0h1m5 0h1m2 0h3m6 0h1m27 0h1m4 0h3m3 0h2m1 0h1m17 0h1M146 204h1m2 0h1m18 0h1m23 0h1m19 0h2m20 0h1m2 0h1m34 0h2m2 0h2m2 0h1m23 0h1M274 205h4m2 0h3m1 0h2M144 206h2m133 0h2m14 0h1m1 0h1m1 0h1m2 0h1m1 0h1M143 207h2m25 0h1m42 0h1m19 0h1m69 0h1M152 208h2m16 0h1m2 0h1m121 0h1m1 0h1M157 209h2m124 0h1m14 0h1M126 210h1m69 0h1m33 0h1m1 0h1m2 0h1m46 0h2m8 0h1m1 0h1m2 0h1M128 211h1m44 0h1m21 0h2m20 0h1m13 0h1m1 0h1m1 0h1m3 0h1m42 0h1m17 0h1m2 0h1M138 212h1m20 0h1m7 0h2m3 0h1m33 0h1m11 0h1m1 0h1m11 0h1m8 0h1m36 0h1m16 0h1m5 0h1M137 213h2m32 0h1m1 0h2m22 0h1m6 0h1m1 0h1m13 0h1m4 0h2m7 0h1m43 0h1m16 0h1m2 0h1M136 214h1m60 0h1m7 0h2m15 0h1m3 0h1m51 0h1M135 215h1m61 0h1m5 0h1m2 0h1m15 0h1m3 0h1m3 0h1m2 0h2m61 0h1M205 216h4m2 0h1m9 0h1m10 0h1M231 217h1m10 0h1M220 218h1m10 0h1m6 0h2M220 219h1m10 0h1m4 0h1M221 220h1m2 0h1m1 0h1m1 0h2m6 0h1m4 0h1M131 221h1m72 0h1m1 0h1m18 0h1m1 0h1M201 222h5m17 0h2m1 0h1m5 0h1m1 0h1m1 0h1M202 223h1m21 0h1m9 0h1m1 0h1M234 224h3M217 225h1M172 226h1m44 0h2M184 229h1M202 230h1M167 235h1m32 0h1M225 241h1M177 246h1"/>
<path stroke="#d52d22" d="M205 94h1M207 97h1M204 98h1M202 99h3M203 100h2M199 101h1m3 0h1m3 0h1m74 0h1M204 102h4m2 0h1M188 103h1m15 0h4m1 0h2M188 104h1m16 0h1m1 0h1M201 105h1m2 0h4m47 0h1M171 106h3m27 0h1m1 0h3m4 0h2M171 107h1m37 0h4M210 108h2m8 0h1M212 109h1m7 0h2M211 110h3M209 111h1m13 0h1M246 112h1m20 0h1M199 113h1m46 0h1m5 0h3m13 0h1M239 114h1m28 0h1M206 115h1m6 0h1m4 0h1m14 0h1M174 116h1m24 0h3m12 0h1m1 0h1m4 0h2m10 0h1M206 117h1m5 0h5M171 118h1m34 0h1m4 0h5m15 0h1m54 0h1m41 0h1M209 119h1m1 0h5m30 0h1m11 0h1M208 120h1m2 0h4m1 0h1m3 0h1m4 0h1m19 0h2m8 0h1m1 0h2m8 0h1m1 0h1M142 121h1m40 0h1m22 0h2m3 0h7m1 0h2m1 0h1m5 0h1m38 0h1m2 0h1m14 0h1M212 122h2m2 0h4m7 0h4m82 0h1M211 123h3m3 0h5m1 0h1m3 0h4m15 0h2m33 0h1m31 0h2m5 0h1M193 124h2m15 0h4m2 0h5m2 0h1m5 0h1m17 0h1m34 0h1m15 0h1m15 0h1M193 125h2m14 0h5m2 0h5m1 0h3m18 0h2m5 0h1m29 0h2m6 0h1m9 0h1m15 0h3M166 126h2m23 0h3m3 0h1m11 0h6m1 0h7m2 0h1m1 0h2m14 0h2m6 0h2m34 0h1m10 0h1m15 0h5M166 127h1m26 0h2m4 0h1m2 0h1m6 0h16m2 0h4m2 0h1m8 0h1m3 0h1m9 0h1m1 0h3m1 0h1m51 0h5M193 128h1m5 0h1m1 0h1m4 0h9m2 0h6m1 0h1m2 0h3m1 0h1m85 0h2m2 0h1M177 129h1m15 0h1m3 0h6m6 0h2m1 0h9m3 0h2m1 0h2m1 0h2m1 0h1m41 0h1m41 0h1m3 0h1M196 130h2m1 0h1m2 0h1m2 0h1m3 0h2m1 0h8m5 0h12m2 0h1m35 0h4m15 0h1m3 0h1M169 131h2m33 0h1m1 0h1m1 0h4m1 0h6m7 0h5m1 0h6m38 0h1m43 0h4M204 132h1m2 0h5m2 0h6m1 0h1m4 0h13m2 0h1m13 0h2m15 0h1m43 0h2m2 0h3M171 133h1m24 0h2m10 0h3m2 0h9m1 0h8m2 0h8m13 0h2m23 0h1m27 0h1m2 0h1m2 0h5m4 0h1M188 134h1m3 0h8m2 0h2m5 0h3m2 0h7m2 0h7m4 0h3m1 0h3m12 0h2m4 0h1m46 0h1m1 0h3m3 0h3m2 0h4M192 135h9m1 0h4m1 0h2m5 0h16m5 0h2m3 0h1m12 0h1m8 0h2m10 0h2m7 0h1m23 0h1m1 0h4m7 0h1m1 0h1M187 136h1m4 0h13m2 0h2m2 0h1m2 0h1m2 0h4m2 0h3m3 0h1m5 0h1m73 0h1m2 0h2m6 0h1M187 137h1m1 0h2m2 0h1m1 0h9m4 0h4m1 0h1m2 0h5m2 0h1m1 0h1m31 0h1m9 0h3m37 0h1m4 0h2m3 0h1m1 0h1m3 0h1M190 138h1m3 0h4m2 0h2m1 0h4m3 0h5m1 0h1m1 0h3m3 0h2m13 0h1m17 0h2m4 0h2m1 0h3m4 0h1m38 0h4m6 0h1M191 139h1m1 0h4m3 0h1m9 0h6m1 0h1m1 0h1m30 0h1m3 0h5m3 0h8m9 0h1m34 0h4M193 140h8m3 0h4m1 0h1m2 0h1m1 0h1m2 0h8m29 0h6m1 0h4m1 0h1m1 0h8m38 0h3m4 0h2M192 141h9m2 0h2m3 0h3m4 0h8m11 0h2m10 0h2m6 0h6m4 0h6m2 0h6m7 0h2m34 0h1m1 0h1M192 142h9m2 0h3m1 0h1m1 0h1m6 0h7m7 0h2m21 0h7m9 0h5M193 143h13m1 0h1m2 0h1m3 0h1m2 0h1m1 0h3m10 0h1m21 0h3m8 0h1m3 0h3m1 0h2M187 144h3m2 0h2m2 0h8m3 0h1m12 0h1m12 0h1m5 0h1m6 0h2m3 0h2m1 0h2m9 0h1m3 0h3m1 0h2m23 0h1m10 0h1M189 145h2m4 0h10m15 0h2m9 0h1m9 0h1m5 0h2m6 0h2m2 0h2m8 0h2M197 146h2m19 0h1m1 0h2m3 0h1m4 0h1m2 0h1m9 0h3m7 0h1m2 0h1m2 0h2m4 0h2m1 0h2m1 0h1m15 0h2m26 0h1m19 0h1M194 147h1m25 0h1m12 0h1m17 0h8m9 0h2m18 0h1m24 0h1m1 0h1M168 148h1m11 0h1m2 0h1m1 0h1m8 0h2m19 0h1m1 0h1m15 0h1m17 0h1m1 0h3m1 0h2m2 0h1m2 0h1m2 0h1m14 0h1m30 0h1M204 149h1m12 0h1m5 0h1m23 0h1m3 0h5m1 0h1m5 0h2m6 0h1m17 0h1M196 150h2m19 0h1m4 0h2m5 0h1m17 0h3m1 0h1m5 0h1m8 0h2m15 0h1m3 0h1M228 151h1m5 0h2m13 0h2m2 0h1m3 0h1m3 0h2m1 0h3m4 0h4M158 152h1m50 0h1m17 0h1m6 0h1m4 0h1m13 0h1m1 0h4m1 0h5m6 0h6m3 0h3M175 153h1m50 0h3m5 0h1m20 0h5m1 0h4m2 0h4m1 0h1m1 0h3m3 0h1m17 0h1M181 154h1m1 0h1m43 0h1m28 0h3m1 0h5m1 0h2m1 0h8m3 0h1m24 0h1M256 155h3m1 0h6m3 0h8m2 0h2m5 0h1m17 0h1m14 0h1M177 156h1m2 0h1m27 0h2m5 0h1m40 0h3m1 0h6m8 0h7m4 0h3m1 0h2m9 0h2M208 157h2m5 0h1m15 0h1m13 0h2m9 0h4m2 0h3m8 0h8m2 0h6m11 0h2m6 0h2M207 158h3m5 0h1m9 0h1m3 0h1m25 0h1m3 0h2m1 0h3m1 0h3m2 0h3m1 0h1m2 0h3m2 0h3m1 0h2m8 0h5m4 0h1M178 159h1m36 0h2m6 0h1m10 0h1m13 0h3m2 0h4m1 0h6m4 0h1m2 0h5m3 0h3m3 0h5m8 0h4m4 0h1m6 0h2M209 160h1m2 0h7m1 0h2m27 0h2m1 0h10m1 0h2m1 0h3m4 0h3m3 0h3m3 0h1m1 0h1m10 0h2m10 0h1M212 161h3m2 0h2m4 0h1m25 0h2m7 0h3m2 0h2m7 0h4m1 0h4m1 0h1m3 0h2m4 0h1m3 0h1m11 0h5M208 162h1m3 0h1m47 0h1m2 0h2m3 0h3m2 0h4m1 0h8m2 0h1m2 0h2m7 0h1m1 0h1m4 0h1m3 0h2M249 163h1m11 0h3m5 0h2m2 0h3m2 0h2m5 0h2m3 0h4m5 0h2m1 0h1m6 0h1M149 164h1m38 0h1m42 0h1m20 0h1m9 0h2m3 0h13m2 0h4m2 0h7m4 0h7m3 0h1M149 165h1m80 0h2m19 0h4m7 0h2m3 0h3m1 0h4m1 0h3m3 0h3m3 0h5m1 0h3m4 0h5m6 0h2M215 166h1m12 0h5m17 0h2m3 0h1m1 0h4m2 0h6m1 0h1m1 0h2m2 0h3m3 0h3m1 0h6m2 0h4m4 0h3m5 0h2m1 0h1M204 167h1m4 0h1m18 0h3m23 0h6m4 0h2m2 0h2m2 0h3m7 0h1m3 0h7m2 0h1m1 0h1m1 0h1m3 0h2M255 168h2m2 0h10m4 0h2m3 0h1m2 0h4m1 0h5m5 0h1m1 0h2m10 0h1m7 0h1M213 169h2m6 0h1m36 0h10m5 0h2m3 0h1m4 0h2m1 0h2m1 0h2m7 0h3m9 0h1m1 0h1M145 170h1m46 0h3m14 0h2m2 0h5m1 0h3m8 0h1m27 0h1m1 0h4m9 0h7m7 0h1m1 0h2m7 0h4m2 0h1M209 171h2m2 0h1m3 0h1m2 0h3m1 0h2m1 0h1m30 0h1m1 0h7m10 0h1m6 0h1m4 0h2m8 0h4m4 0h1M183 172h1m26 0h1m6 0h1m4 0h5m10 0h1m20 0h8m8 0h1m2 0h2m3 0h1m1 0h1m4 0h4m6 0h3m2 0h1m2 0h1M208 173h1m13 0h2m1 0h2m8 0h1m7 0h1m15 0h1m1 0h1m2 0h2m2 0h2m4 0h1m1 0h1m1 0h1m3 0h1m6 0h1m3 0h1m4 0h1m5 0h1m12 0h1M208 174h2m12 0h3m10 0h1m12 0h1m10 0h4m1 0h2m1 0h4m3 0h3m1 0h1m3 0h2m2 0h1m1 0h2m1 0h1m11 0h1m13 0h1M206 175h1m1 0h3m2 0h2m7 0h6m31 0h1m1 0h3m4 0h11m3 0h2m4 0h1m2 0h2m4 0h2M205 176h7m1 0h1m7 0h7m15 0h2m2 0h2m10 0h1m1 0h6m1 0h1m1 0h4m1 0h4m9 0h6m2 0h3m14 0h1M206 177h1m1 0h6m7 0h5m5 0h1m11 0h3m2 0h2m13 0h1m1 0h1m2 0h6m1 0h5m8 0h5m2 0h5M208 178h6m6 0h6m5 0h2m7 0h6m3 0h2m12 0h2m3 0h1m1 0h3m2 0h1m1 0h2m1 0h5m3 0h6m1 0h5m5 0h1M191 179h2m15 0h5m8 0h5m6 0h1m10 0h1m23 0h2m1 0h2m2 0h2m1 0h4m1 0h1m5 0h6m1 0h5m3 0h1m1 0h1M192 180h1m26 0h8m37 0h2m1 0h1m2 0h1m6 0h4m1 0h6m1 0h11M189 181h1m27 0h9m38 0h1m4 0h2m6 0h3m2 0h5m1 0h9m1 0h4m6 0h1M217 182h1m2 0h6m42 0h4m4 0h3m2 0h6m1 0h13m7 0h1M220 183h5m2 0h1m40 0h4m4 0h1m7 0h3m1 0h13m2 0h1M182 184h1m8 0h2m30 0h2m2 0h1m39 0h1m2 0h2m3 0h1m1 0h1m4 0h1m4 0h12m4 0h1M182 185h1m8 0h1m15 0h1m14 0h3m2 0h1m4 0h1m32 0h1m9 0h2m6 0h13m1 0h2m3 0h1M222 186h2m3 0h4m42 0h4m5 0h2m2 0h8m3 0h1m5 0h1M219 187h1m2 0h1m6 0h3m40 0h5m5 0h1m3 0h6m1 0h1m2 0h3M213 188h1m8 0h3m2 0h1m1 0h3m39 0h1m12 0h1m1 0h6M192 189h2m12 0h1m6 0h1m6 0h4m6 0h2m39 0h2m8 0h2m6 0h3m1 0h1M197 190h1m22 0h3m7 0h1m51 0h1m6 0h5M190 191h1m29 0h1m9 0h1m47 0h1m1 0h1m5 0h1m2 0h3m1 0h1M282 192h1m3 0h1m2 0h4M290 193h1M286 194h1m1 0h1M210 195h1m69 0h5M209 196h2m29 0h1m42 0h4m4 0h1m5 0h1M279 197h1m3 0h1m1 0h1M239 198h1m40 0h1m8 0h1M283 199h2m5 0h2M283 200h1m23 0h1M283 201h2M304 203h2M296 204h1m6 0h1m1 0h1M296 205h2M281 206h1M232 207h1m66 0h1M238 208h2m51 0h3m2 0h1M238 209h3m50 0h3m5 0h1M238 210h4m58 0h1M174 211h1m57 0h1m7 0h1m52 0h1M197 212h1m36 0h2m1 0h4m55 0h2m1 0h2M205 213h1m29 0h8m53 0h2M235 214h8m53 0h1M204 215h2m31 0h3m1 0h2M236 216h7M237 217h5M240 218h1M221 219h1M205 221h1m29 0h2M235 222h1m3 0h1M235 223h1"/>
</g>
<use href="#inn" fill="none" stroke="#262626" stroke-width="1.0" stroke-linejoin="round"/><use href="#ol" fill="none" stroke="#1c1c1c" stroke-width="1.25" stroke-linejoin="round"/><use href="#isl" fill="none" stroke="#1c1c1c" stroke-width="1.1" stroke-linejoin="round"/>
<use href="#spk"/>
<path d="M242.7 230.4L246.2 257.4" stroke="#555" stroke-width="0.5" fill="none"/><g font-family="'Liberation Serif','Noto Serif CJK SC',serif" font-size="7.45" font-weight="bold" fill="#111"><text x="90" y="100.2">肇庆市</text><text x="280" y="106.8">惠州市</text><text x="226" y="118.8">广州市</text><text x="252.5" y="152.8">东莞市</text><text x="159" y="159.3">佛山市</text><text x="290" y="181.5">深圳市</text><text x="217.5" y="195.3">中山市</text><text x="136" y="232.8">江门市</text><text x="202.8" y="228.8">珠海市</text><text x="305.2" y="217">香港特别行政区</text><text x="220.8" y="264.6">澳门特别行政区</text></g>
</g>
<g transform="translate(423.7,-2.1)">
<use href="#ol" fill="#b9c7b9"/><use href="#isl" fill="#b9c7b9"/><use href="#wat" fill="#fff"/>
<g transform="translate(0,0.5)" fill="none" stroke-width="1.02" filter="url(#soft)">
<path stroke="#4472b8" d="M122 10h5M121 11h8M121 12h9M120 13h11M119 14h12M118 15h15M118 16h16M118 17h17M118 18h18M118 19h19M118 20h19M117 21h20M102 22h1m13 0h21M102 23h3m11 0h21M88 24h3m1 0h2m7 0h6m8 0h22M84 25h14m2 0h8m6 0h23M84 26h25m3 0h25M84 27h53M84 28h53M84 29h23m1 0h2m3 0h23M85 30h22m1 0h2m2 0h24M85 31h12m1 0h10m4 0h23M86 32h21m6 0h22M86 33h16m2 0h1m8 0h22M86 34h15m11 0h23M86 35h12m1 0h1m7 0h1m5 0h23M86 36h8m17 0h1m1 0h24M85 37h9m19 0h25M85 38h8m20 0h27M86 39h5m22 0h28M86 40h5m4 0h2m16 0h28M87 41h5m3 0h3m14 0h29M87 42h5m4 0h1m2 0h2m11 0h29M88 43h3m20 0h2m1 0h28M89 44h2m4 0h1m19 0h28M89 45h2m24 0h29M89 46h3m24 0h28M89 47h3m24 0h28M90 48h2m24 0h31m145 0h5m2 0h2M90 49h3m19 0h1m3 0h34m138 0h13M90 50h3m25 0h36m132 0h16M87 51h6m1 0h1m20 0h1m2 0h37m128 0h19M84 52h4m1 0h4m1 0h1m23 0h38m115 0h2m10 0h20M83 53h2m2 0h1m2 0h1m2 0h4m21 0h38m106 0h42M81 54h6m2 0h8m5 0h1m15 0h40m102 0h46M81 55h6m2 0h8m5 0h1m11 0h1m3 0h41m100 0h48M80 56h7m2 0h11m15 0h44m99 0h48m1 0h1M80 57h7m2 0h12m15 0h43m98 0h52M79 58h8m2 0h12m11 0h1m5 0h41m96 0h54M79 59h3m1 0h2m2 0h14m3 0h1m4 0h2m1 0h1m5 0h41m95 0h47m1 0h7M79 60h26m9 0h1m4 0h20m1 0h19m94 0h56M79 61h6m1 0h18m3 0h1m11 0h39m95 0h43m1 0h8m1 0h3M79 62h6m1 0h23m4 0h3m4 0h38m92 0h46m2 0h2m1 0h8M77 63h37m7 0h37m88 0h50m1 0h1m3 0h8M66 64h3m7 0h42m3 0h11m1 0h6m1 0h19m86 0h51m5 0h9M65 65h52m1 0h1m3 0h17m1 0h19m86 0h52m5 0h9M64 66h53m7 0h14m2 0h20m84 0h54m3 0h10M64 67h17m1 0h20m1 0h10m1 0h3m7 0h8m1 0h27m84 0h49m1 0h5m2 0h11M64 68h17m1 0h30m2 0h2m9 0h17m2 0h5m1 0h11m83 0h52m4 0h1m1 0h11M63 69h50m2 0h3m8 0h16m2 0h18m81 0h54m4 0h13M63 70h51m1 0h3m8 0h2m1 0h33m81 0h54m5 0h2m1 0h11M62 71h58m8 0h11m2 0h4m3 0h14m81 0h53m1 0h2m2 0h16M62 72h58m8 0h13m3 0h2m1 0h15m81 0h53m1 0h2m2 0h17M62 73h59m7 0h4m1 0h6m4 0h19m80 0h54m1 0h2m2 0h17M62 74h61m5 0h4m1 0h7m3 0h2m1 0h17m58 0h2m20 0h55m4 0h21M62 75h61m5 0h5m1 0h7m2 0h19m57 0h2m2 0h3m17 0h52m4 0h1m2 0h23M62 76h60m2 0h1m4 0h13m1 0h19m1 0h1m55 0h1m1 0h5m17 0h50m1 0h1m7 0h23M62 77h59m1 0h1m3 0h1m3 0h9m1 0h25m52 0h10m1 0h1m14 0h49m3 0h1m2 0h1m5 0h22M61 78h62m3 0h1m4 0h10m1 0h23m52 0h13m13 0h48m14 0h21M60 79h64m9 0h21m1 0h10m50 0h4m1 0h10m14 0h3m1 0h14m2 0h20m1 0h4m18 0h20M60 80h65m9 0h31m50 0h4m1 0h2m1 0h8m2 0h2m9 0h18m1 0h15m2 0h2m3 0h1m2 0h1m7 0h1m10 0h21M59 81h67m3 0h1m4 0h31m49 0h1m1 0h6m1 0h8m7 0h1m3 0h8m1 0h6m1 0h16m14 0h2m9 0h2m6 0h9m1 0h12M59 82h67m10 0h28m48 0h1m1 0h7m1 0h9m7 0h1m1 0h9m2 0h3m1 0h7m1 0h10m14 0h3m8 0h3m5 0h23M58 83h69m9 0h24m2 0h2m47 0h20m8 0h8m2 0h1m1 0h12m1 0h10m3 0h1m14 0h1m3 0h2m2 0h1m5 0h1m1 0h13m1 0h7M52 84h70m2 0h3m9 0h22m1 0h2m1 0h2m45 0h1m2 0h19m4 0h1m3 0h6m1 0h1m1 0h3m2 0h10m2 0h8m11 0h1m8 0h1m1 0h3m1 0h3m4 0h6m1 0h5m4 0h7M49 85h74m1 0h3m8 0h20m1 0h5m1 0h3m43 0h22m3 0h1m1 0h1m3 0h10m2 0h22m7 0h2m9 0h9m2 0h10m1 0h1m8 0h6m1 0h1M49 86h79m10 0h25m44 0h5m1 0h18m1 0h1m6 0h1m1 0h1m2 0h3m1 0h1m3 0h20m16 0h26m7 0h1m1 0h10M49 87h16m1 0h63m1 0h1m8 0h20m2 0h2m44 0h21m1 0h2m7 0h11m5 0h18m16 0h26m7 0h1m2 0h12M48 88h17m1 0h65m7 0h15m1 0h3m48 0h1m1 0h21m1 0h5m5 0h4m1 0h3m8 0h13m1 0h3m13 0h17m2 0h9m11 0h13M48 89h1m1 0h15m1 0h40m2 0h24m8 0h14m2 0h1m6 0h1m42 0h1m1 0h19m1 0h3m6 0h1m1 0h5m2 0h1m7 0h17m1 0h1m5 0h4m3 0h16m1 0h11m12 0h1m1 0h11M49 90h83m4 0h1m3 0h14m52 0h24m11 0h3m7 0h1m2 0h2m1 0h11m1 0h4m6 0h3m2 0h3m2 0h25m10 0h15M48 91h82m1 0h1m4 0h1m4 0h12m8 0h1m45 0h3m4 0h16m26 0h1m2 0h4m1 0h4m1 0h4m10 0h32m9 0h1m1 0h3m2 0h8M48 92h80m1 0h5m5 0h1m1 0h12m56 0h1m3 0h5m1 0h3m1 0h6m26 0h2m3 0h8m2 0h2m10 0h28m1 0h3m13 0h13M47 93h21m2 0h64m10 0h5m2 0h4m8 0h2m49 0h16m8 0h1m4 0h1m4 0h2m11 0h6m4 0h3m5 0h6m1 0h28m12 0h14M47 94h78m1 0h7m10 0h6m1 0h4m52 0h1m10 0h1m1 0h9m2 0h1m10 0h9m3 0h1m4 0h1m2 0h1m1 0h3m6 0h1m1 0h3m4 0h33m15 0h11M47 95h2m1 0h77m1 0h6m1 0h2m7 0h4m2 0h4m65 0h8m13 0h15m1 0h1m6 0h1m10 0h40m18 0h7M47 96h3m5 0h71m2 0h6m1 0h2m1 0h1m6 0h3m1 0h3m10 0h3m56 0h4m9 0h1m3 0h19m1 0h1m9 0h2m5 0h32m5 0h2m9 0h1m10 0h5M47 97h4m5 0h1m2 0h67m2 0h6m2 0h1m8 0h6m71 0h1m1 0h1m13 0h3m3 0h14m11 0h1m5 0h32m1 0h1m2 0h4m9 0h1m9 0h6M45 98h4m8 0h69m1 0h11m8 0h5m84 0h1m2 0h4m1 0h16m17 0h38m20 0h5M44 99h4m9 0h82m8 0h2m86 0h1m2 0h18m1 0h2m7 0h1m7 0h1m1 0h20m1 0h16m17 0h1m3 0h1m1 0h3M43 100h5m10 0h82m7 0h3m85 0h4m1 0h19m11 0h1m3 0h35m1 0h2m6 0h1m11 0h2m2 0h1m1 0h3M41 101h5m9 0h1m2 0h83m94 0h25m15 0h1m3 0h10m1 0h18m9 0h3m11 0h1m2 0h1M41 102h7m6 0h1m2 0h86m91 0h10m1 0h13m2 0h1m1 0h2m10 0h33m1 0h1m9 0h1m15 0h7m47 0h1M41 103h1m2 0h3m7 0h1m3 0h80m2 0h3m91 0h1m1 0h22m1 0h3m10 0h1m3 0h35m16 0h1m6 0h7m42 0h11M41 104h6m9 0h53m1 0h29m1 0h3m91 0h1m2 0h8m2 0h14m10 0h2m2 0h30m1 0h5m21 0h10m39 0h14M40 105h5m13 0h88m15 0h2m76 0h6m1 0h1m2 0h13m6 0h1m4 0h1m1 0h37m18 0h13m36 0h19M40 106h4m13 0h89m2 0h1m92 0h6m3 0h6m2 0h3m1 0h2m9 0h40m3 0h5m8 0h15m30 0h26M40 107h3m3 0h1m9 0h87m1 0h1m93 0h2m3 0h8m1 0h5m1 0h4m10 0h4m1 0h45m7 0h15m29 0h28M40 108h3m3 0h2m7 0h89m100 0h1m1 0h2m1 0h8m1 0h2m10 0h11m1 0h21m1 0h7m1 0h11m7 0h15m26 0h31M40 109h3m12 0h7m2 0h80m106 0h9m12 0h31m2 0h8m1 0h11m3 0h2m1 0h16m16 0h1m6 0h34M39 110h2m4 0h1m10 0h77m1 0h10m109 0h6m11 0h53m8 0h2m1 0h13m15 0h2m4 0h36M39 111h2m14 0h1m1 0h88m105 0h2m2 0h1m1 0h4m9 0h55m9 0h16m13 0h3m2 0h38M39 112h1m15 0h3m1 0h87m105 0h1m1 0h3m14 0h24m1 0h26m1 0h2m4 0h1m5 0h1m1 0h13m12 0h44M60 113h87m17 0h1m89 0h2m13 0h1m1 0h17m2 0h4m1 0h6m1 0h1m1 0h17m15 0h13m12 0h45M61 114h86m2 0h2m118 0h14m1 0h4m1 0h9m2 0h6m1 0h14m3 0h1m12 0h13m11 0h46M59 115h75m1 0h7m1 0h5m122 0h4m1 0h16m1 0h6m3 0h17m20 0h12m10 0h48M59 116h75m1 0h5m2 0h7m104 0h1m21 0h15m1 0h2m2 0h1m5 0h16m16 0h2m5 0h10m9 0h48M60 117h69m1 0h5m1 0h5m1 0h10m5 0h1m120 0h1m3 0h5m6 0h2m10 0h12m23 0h11m8 0h47M58 118h2m2 0h1m2 0h2m3 0h1m6 0h58m1 0h18m138 0h3m10 0h11m24 0h12m7 0h46M65 119h1m10 0h1m2 0h46m1 0h8m1 0h7m1 0h10m1 0h1m1 0h1m136 0h2m12 0h6m1 0h1m1 0h2m20 0h15m5 0h46M73 120h1m2 0h1m4 0h42m2 0h1m1 0h1m1 0h25m1 0h2m116 0h2m18 0h1m6 0h1m5 0h1m1 0h4m29 0h12m5 0h44M83 121h6m1 0h33m4 0h1m1 0h5m1 0h23m153 0h2m4 0h1m23 0h13m3 0h44M87 122h34m9 0h1m4 0h5m2 0h13m1 0h2m180 0h16m2 0h16m2 0h8m3 0h15M87 123h34m13 0h5m1 0h15m2 0h3m105 0h1m70 0h18m2 0h23m1 0h4m1 0h14M80 124h2m5 0h33m3 0h1m8 0h1m2 0h3m1 0h2m1 0h1m2 0h9m1 0h7m103 0h1m71 0h39m4 0h17M86 125h35m10 0h1m8 0h17m1 0h5m173 0h6m2 0h29m1 0h2m8 0h12M82 126h2m2 0h6m2 0h26m10 0h2m9 0h1m1 0h20m173 0h7m1 0h28m4 0h1m3 0h1m5 0h10M86 127h2m1 0h30m22 0h1m1 0h21m171 0h2m1 0h17m1 0h15m5 0h2m9 0h8M87 128h1m4 0h21m1 0h4m23 0h20m1 0h3m170 0h1m2 0h7m1 0h8m1 0h18m13 0h9M87 129h7m1 0h1m3 0h15m27 0h23m4 0h1m166 0h10m1 0h5m1 0h21m12 0h10M89 130h4m7 0h5m2 0h6m29 0h23m3 0h1m166 0h1m8 0h7m1 0h24m2 0h1m2 0h1m3 0h9M97 131h1m11 0h4m25 0h1m3 0h2m1 0h21m1 0h1m176 0h4m1 0h27m1 0h4m1 0h1m1 0h3m1 0h5M84 132h2m25 0h1m23 0h1m7 0h2m1 0h21m176 0h1m3 0h4m2 0h19m1 0h12m1 0h7M96 133h2m45 0h21m167 0h1m17 0h1m1 0h4m4 0h2m1 0h22m2 0h6M93 134h1m2 0h2m29 0h1m17 0h19m167 0h2m20 0h1m7 0h29M102 135h1m5 0h1m37 0h2m1 0h16m165 0h1m30 0h28M149 136h13m1 0h1m199 0h24M144 137h2m3 0h2m1 0h13m160 0h2m28 0h1m4 0h25M149 138h4m3 0h6m1 0h1m191 0h2m2 0h26M156 139h3m197 0h5m1 0h22M354 140h1m2 0h24M354 141h1m1 0h23M330 142h1m23 0h23M132 143h1m35 0h2m182 0h9m3 0h7m1 0h4M330 144h1m20 0h11m2 0h3M167 145h1m69 0h1m81 0h1m32 0h10M354 146h4M297 147h1m22 0h3m1 0h3m27 0h1m12 0h1M298 148h7m8 0h3m1 0h1m1 0h2m1 0h1m1 0h3m32 0h1M296 149h8m10 0h3m1 0h8m33 0h1m2 0h1M297 150h7m10 0h9m1 0h2M294 151h3m1 0h7m9 0h11M134 152h2m9 0h1m39 0h1m105 0h2m1 0h10m8 0h8m1 0h4m30 0h1m7 0h1M131 153h2m1 0h4m1 0h2m3 0h1m149 0h8m11 0h9m1 0h3m14 0h2m19 0h3M131 154h7m1 0h3m153 0h3m1 0h5m9 0h10m1 0h4m7 0h1m23 0h1m1 0h3M130 155h16m38 0h1m110 0h2m3 0h1m1 0h1m10 0h1m1 0h1m1 0h1m2 0h1m4 0h1m2 0h1m2 0h3m1 0h5m19 0h6M130 156h10m1 0h5m166 0h2m2 0h1m8 0h1m5 0h12m13 0h4m1 0h4M129 157h1m1 0h9m1 0h5m182 0h1m1 0h13m9 0h2m2 0h9M128 158h17m156 0h1m25 0h12m2 0h2m10 0h1m1 0h11M124 159h1m3 0h13m1 0h5m181 0h11m1 0h1m1 0h1m10 0h13M127 160h20m181 0h2m1 0h8m2 0h2m10 0h12M128 161h18m23 0h1m160 0h2m1 0h5m16 0h12M128 162h17m184 0h8m17 0h13M127 163h18m13 0h2m4 0h1m4 0h1m1 0h2m157 0h1m22 0h15M128 164h1m2 0h9m18 0h1m8 0h4m131 0h1m49 0h1m1 0h8m1 0h1m2 0h2M127 165h1m4 0h3m17 0h1m10 0h2m1 0h7m157 0h1m19 0h9m7 0h1M134 166h1m21 0h1m5 0h2m1 0h1m1 0h6m178 0h6m1 0h1m11 0h1M156 167h2m2 0h6m1 0h6m175 0h10m11 0h2M149 168h5m1 0h11m1 0h6m175 0h12m8 0h4M151 169h13m1 0h4m1 0h5m128 0h1m44 0h7m1 0h8m1 0h8M151 170h5m1 0h7m1 0h10m43 0h1m83 0h2m4 0h1m39 0h7m1 0h16M151 171h4m1 0h17m1 0h1m133 0h1m39 0h24M151 172h4m1 0h17m1 0h1m2 0h1m126 0h1m43 0h23M150 173h1m1 0h20m1 0h1m134 0h1m39 0h22M152 174h22m174 0h20M151 175h1m1 0h15m1 0h5m3 0h1m170 0h19M151 176h2m1 0h20m3 0h1m122 0h1m46 0h20M154 177h19m125 0h1m48 0h3m1 0h15M156 178h16m158 0h1m17 0h17M156 179h16m158 0h1m17 0h16M157 180h12m180 0h14M157 181h12m183 0h1m2 0h2m2 0h4M157 182h12m190 0h3M161 183h5m5 0h2m187 0h1M161 184h4M162 185h2m137 0h1M328 186h6M128 187h3m35 0h1m104 0h1m36 0h1m19 0h7M127 188h7m30 0h2m132 0h1m1 0h1m6 0h3m16 0h1m1 0h8M126 189h9m40 0h1m122 0h1m1 0h2m1 0h6m1 0h2m14 0h10M125 190h4m1 0h5m165 0h2m1 0h10m12 0h11M125 191h11m35 0h2m128 0h1m1 0h11m11 0h11M124 192h9m40 0h1m127 0h13m11 0h11M123 193h10m168 0h13m11 0h10M123 194h10m168 0h13m13 0h7M122 195h12m167 0h1m2 0h11m14 0h3M121 196h13m88 0h1m82 0h10M121 197h9m94 0h2m2 0h1m76 0h11M119 198h12m12 0h1m21 0h1m138 0h1m1 0h4m1 0h5M119 199h13m92 0h1m3 0h2m77 0h9M118 200h14m96 0h1m76 0h1m2 0h5m1 0h2M118 201h13m94 0h1m2 0h1m2 0h1m74 0h6m1 0h1m1 0h1M118 202h13m2 0h1m1 0h1m4 0h1m36 0h1m8 0h1m37 0h4m3 0h1m72 0h2m4 0h2m1 0h1m1 0h1M117 203h11m5 0h2m50 0h2m37 0h3m84 0h4M117 204h11m54 0h3m1 0h2m36 0h1m21 0h1m36 0h1m25 0h3M116 205h10m51 0h1m2 0h5m3 0h1m31 0h2m87 0h4M114 206h11m51 0h13m1 0h1M113 207h9m1 0h1m4 0h1m45 0h1m1 0h14M112 208h10m53 0h17m100 0h1M106 209h14m56 0h16m2 0h1M105 210h16m54 0h17M103 211h11m1 0h5m55 0h16M103 212h16m56 0h16m85 0h5M103 213h15m58 0h14m85 0h5M103 214h13m59 0h16m81 0h8M101 215h15m1 0h2m33 0h2m20 0h1m1 0h13m81 0h1m1 0h8M100 216h17m35 0h1m21 0h19m77 0h1m1 0h9M100 217h16m42 0h2m16 0h16m76 0h11M98 218h18m30 0h1m5 0h3m4 0h1m15 0h6m1 0h5m1 0h3m77 0h5m2 0h1M98 219h18m28 0h4m3 0h7m2 0h2m13 0h11m1 0h1m1 0h2m77 0h4M98 220h18m27 0h5m1 0h10m1 0h2m1 0h1m13 0h14m79 0h1M98 221h17m27 0h20m1 0h1m1 0h1m12 0h4m2 0h4m1 0h2M98 222h18m25 0h21m2 0h1m13 0h9m1 0h1M99 223h7m1 0h9m20 0h3m1 0h22m2 0h1m14 0h10m11 0h1M99 224h7m1 0h10m18 0h5m2 0h19m16 0h12M100 225h16m16 0h7m4 0h18m16 0h2m1 0h8M99 226h17m14 0h33m13 0h3m2 0h7m2 0h1M99 227h17m14 0h1m3 0h28m20 0h9M99 228h19m12 0h33m18 0h6M99 229h17m12 0h7m1 0h27m1 0h2m12 0h1m3 0h1m2 0h2m3 0h1M99 230h16m11 0h1m1 0h5m1 0h24m2 0h3m2 0h1m23 0h1M99 231h16m14 0h29m1 0h4m2 0h2M105 232h4m1 0h5m13 0h3m1 0h31M107 233h6m15 0h34m22 0h1M107 234h5m14 0h1m2 0h1m1 0h25m1 0h3m5 0h1M114 235h1m14 0h27m1 0h4m4 0h1M114 236h2m15 0h26m1 0h3M114 237h1m16 0h26m2 0h1M133 238h25M130 239h1m2 0h25M134 240h2m2 0h19m6 0h1M134 241h2m1 0h20m1 0h5M138 242h25m24 0h2M138 243h17m2 0h8m20 0h1m1 0h2M135 244h1m3 0h17m1 0h7m17 0h1M135 245h1m3 0h24m16 0h1m1 0h6M140 246h22m1 0h1m17 0h1m1 0h4M140 247h21m19 0h10M141 248h20m16 0h1m1 0h9m1 0h2M137 249h1m3 0h21m18 0h11M141 250h20m17 0h1m1 0h10M143 251h16m24 0h7M145 252h10m1 0h1m2 0h1m2 0h1m19 0h7M151 253h1m2 0h1m2 0h2m23 0h6M150 254h1m6 0h3m24 0h3M150 255h1m4 0h1m28 0h2m5 0h2M142 256h2m45 0h1m1 0h2m9 0h4M137 257h1m4 0h2m3 0h3m39 0h2m1 0h1m9 0h3M137 258h1m1 0h2m2 0h3m2 0h4m50 0h2M128 259h1m11 0h12m2 0h2M128 260h2m3 0h1m6 0h14M128 261h5m1 0h1m6 0h12M127 262h6m7 0h2m1 0h9m5 0h1M127 263h7m7 0h12M126 264h9m7 0h10M125 265h10m9 0h7M125 266h5m1 0h4m13 0h3m21 0h5M125 267h9m36 0h7M125 268h9m34 0h8M126 269h8m33 0h9M126 270h8m32 0h8M126 271h4m2 0h2m31 0h8M126 272h1m1 0h4m32 0h8M128 273h3m25 0h3m5 0h8M129 274h1m23 0h7m5 0h7M152 275h8m6 0h5M151 276h8m7 0h5M149 277h9m8 0h5M149 278h8m9 0h6M148 279h9m9 0h6M148 280h8m10 0h6M147 281h9m10 0h6m5 0h3M147 282h8m12 0h5m4 0h5M146 283h7m14 0h4m6 0h3M147 284h4m18 0h2M148 285h1"/>
<path stroke="#fcbb86" d="M162 75h1M162 76h1M287 83h1M286 84h1M165 85h1m162 0h1M242 86h2m3 0h1m32 0h1m4 0h2M236 87h2m42 0h1M243 88h1M157 89h1m12 0h1m36 0h1m19 0h1m6 0h1m9 0h1m73 0h1m7 0h1M165 90h1m3 0h1m64 0h2m3 0h1m4 0h2m32 0h1m39 0h1M169 91h1m5 0h3m35 0h1m20 0h5m34 0h1m2 0h1m1 0h1m40 0h1M161 92h1m4 0h1m1 0h2m5 0h1m1 0h1m24 0h1m15 0h1m3 0h1m9 0h3m1 0h1m1 0h2m36 0h1m33 0h1m11 0h1M159 93h1m16 0h1m1 0h1m18 0h1m3 0h2m3 0h1m1 0h1m2 0h1m19 0h1m1 0h2m1 0h2m1 0h1M159 94h1m45 0h1m2 0h3m3 0h3m1 0h1m16 0h1m1 0h1m29 0h1m2 0h1m46 0h1M161 95h1m9 0h2m19 0h1m6 0h3m4 0h1m3 0h1m4 0h3m15 0h1m2 0h3m28 0h1M161 96h1m10 0h2m2 0h1m14 0h2m5 0h2m2 0h2m2 0h6m2 0h7m4 0h1m5 0h1m3 0h3M170 97h1m20 0h4m3 0h1m2 0h3m4 0h2m2 0h1m1 0h1m1 0h4m1 0h1m3 0h2m9 0h2m78 0h1M141 98h1m28 0h1m8 0h1m1 0h2m6 0h4m5 0h2m3 0h1m1 0h1m3 0h1m2 0h3m1 0h6m4 0h2m4 0h1m3 0h1m36 0h1m42 0h1m9 0h1m1 0h2M141 99h2m27 0h1m6 0h7m4 0h5m1 0h1m4 0h1m3 0h5m1 0h9m1 0h3m7 0h5m2 0h2m58 0h1m17 0h1m12 0h1m1 0h1M142 100h1m19 0h1m2 0h1m6 0h1m3 0h3m1 0h1m1 0h2m4 0h1m1 0h1m1 0h3m3 0h1m1 0h1m1 0h2m1 0h2m1 0h2m7 0h3m1 0h2m4 0h1m1 0h3m1 0h2m24 0h1m6 0h2m59 0h2M165 101h1m3 0h1m6 0h1m3 0h3m2 0h1m6 0h2m4 0h1m2 0h1m2 0h1m2 0h2m3 0h1m6 0h2m1 0h1m7 0h4m33 0h1M172 102h1m2 0h2m3 0h3m1 0h3m3 0h2m2 0h1m1 0h1m2 0h1m1 0h1m1 0h1m1 0h2m2 0h1m10 0h3m3 0h1m17 0h1m13 0h1m48 0h1m20 0h1M162 103h1m9 0h2m2 0h1m2 0h1m2 0h1m2 0h1m2 0h7m3 0h1m2 0h2m2 0h3m1 0h1m1 0h1m5 0h1m3 0h3m1 0h2m2 0h1m5 0h1m22 0h1m6 0h4M109 104h1m42 0h1m24 0h3m1 0h2m1 0h2m2 0h4m1 0h2m1 0h1m3 0h1m5 0h6m5 0h1m4 0h4m3 0h2m4 0h2m8 0h2m17 0h2m1 0h1m43 0h1m12 0h1M154 105h1m20 0h1m1 0h2m2 0h8m2 0h2m2 0h2m6 0h2m1 0h2m2 0h1m1 0h3m1 0h1m2 0h2m2 0h1m1 0h2m1 0h3m1 0h7m6 0h1m16 0h4m58 0h2M171 106h1m2 0h3m5 0h6m3 0h4m4 0h2m2 0h6m2 0h4m4 0h2m1 0h2m2 0h1m1 0h5m2 0h3m18 0h2m3 0h1m2 0h2m1 0h1m1 0h1M157 107h1m3 0h1m9 0h2m8 0h1m1 0h1m1 0h3m1 0h4m1 0h1m4 0h1m2 0h1m1 0h3m2 0h1m4 0h1m4 0h2m1 0h3m5 0h2m2 0h4m19 0h1m6 0h2m2 0h1M155 108h1m1 0h2m12 0h2m5 0h2m1 0h9m2 0h1m2 0h1m3 0h3m4 0h1m12 0h5m1 0h2m7 0h5m9 0h1m8 0h1m9 0h2m34 0h1M164 109h2m4 0h1m6 0h1m3 0h8m1 0h2m2 0h1m4 0h3m7 0h1m11 0h1m3 0h4m2 0h1m4 0h4m3 0h1m1 0h1m3 0h1m9 0h1m2 0h1m5 0h1m33 0h2M161 110h1m2 0h2m4 0h1m6 0h3m3 0h2m1 0h5m3 0h1m3 0h2m1 0h1m3 0h3m1 0h2m3 0h1m3 0h8m1 0h2m7 0h3m1 0h1m5 0h2m2 0h1m10 0h2m65 0h1M161 111h6m17 0h2m1 0h7m6 0h3m4 0h1m2 0h3m5 0h7m2 0h2m9 0h3m4 0h1m2 0h2m11 0h2m2 0h2M162 112h4m1 0h2m8 0h1m4 0h2m1 0h8m2 0h1m2 0h1m3 0h1m1 0h1m7 0h2m2 0h2m2 0h3m2 0h5m11 0h1m6 0h1m1 0h1m5 0h3M153 113h1m7 0h1m3 0h1m2 0h3m7 0h1m3 0h1m1 0h1m1 0h2m3 0h4m2 0h2m3 0h3m2 0h1m5 0h1m1 0h3m4 0h2m3 0h1m4 0h3m1 0h5m1 0h2m3 0h2m1 0h1m1 0h1m4 0h1m30 0h2M161 114h1m6 0h2m10 0h8m4 0h1m1 0h4m1 0h1m2 0h1m1 0h1m7 0h1m2 0h1m4 0h6m1 0h1m4 0h3m3 0h1m1 0h4m2 0h4m1 0h1m5 0h1m1 0h1m28 0h1M142 115h1m20 0h1m5 0h1m10 0h8m5 0h1m10 0h1m9 0h3m2 0h7m1 0h1m4 0h3m5 0h5m1 0h5m3 0h2m1 0h2m15 0h1M140 116h2m19 0h4m13 0h3m3 0h3m6 0h2m4 0h2m3 0h2m8 0h2m1 0h1m2 0h1m1 0h4m1 0h2m2 0h5m2 0h5m1 0h2m1 0h5m2 0h4m4 0h2m10 0h1m19 0h1M141 117h1m20 0h4m1 0h1m5 0h1m4 0h4m4 0h3m1 0h1m2 0h1m2 0h1m2 0h2m10 0h1m3 0h1m2 0h1m2 0h1m1 0h6m1 0h1m1 0h2m1 0h1m1 0h4m1 0h1m1 0h3m1 0h3m3 0h3m5 0h2m2 0h1m7 0h1m13 0h2m14 0h1m21 0h1m4 0h2M158 118h2m2 0h3m1 0h1m1 0h1m2 0h1m1 0h2m3 0h1m1 0h1m4 0h6m2 0h1m1 0h3m3 0h2m10 0h1m1 0h1m1 0h1m6 0h2m3 0h4m2 0h1m2 0h1m1 0h10m1 0h1m1 0h4m6 0h2m1 0h2m6 0h1m13 0h2m14 0h1m20 0h3M142 119h1m18 0h4m1 0h1m1 0h1m6 0h1m3 0h4m2 0h1m1 0h4m3 0h1m2 0h1m1 0h1m2 0h1m6 0h1m3 0h1m3 0h1m5 0h4m2 0h4m3 0h12m1 0h3m1 0h2m2 0h3m1 0h3m1 0h3m20 0h2m7 0h2m1 0h3m10 0h1m4 0h1m1 0h1m4 0h2m4 0h2M160 120h6m1 0h4m3 0h11m2 0h1m3 0h6m21 0h2m3 0h1m2 0h1m3 0h1m6 0h4m1 0h7m1 0h1m1 0h10m1 0h7m24 0h2m1 0h3m1 0h1m5 0h1m6 0h1m1 0h5m5 0h3m2 0h2m1 0h1M158 121h5m4 0h2m1 0h1m4 0h2m2 0h7m1 0h2m1 0h1m1 0h7m1 0h2m25 0h4m1 0h3m1 0h1m3 0h1m2 0h2m1 0h2m4 0h3m3 0h2m1 0h1m1 0h5m1 0h2m3 0h1m3 0h3m2 0h2m9 0h6m7 0h1m6 0h2m11 0h4M158 122h2m15 0h7m1 0h6m1 0h2m3 0h1m14 0h1m17 0h2m1 0h3m4 0h1m5 0h4m1 0h1m2 0h1m1 0h1m4 0h3m2 0h4m1 0h7m3 0h7m2 0h2m5 0h2m1 0h2m15 0h1M169 123h1m6 0h4m1 0h3m2 0h1m2 0h2m3 0h3m4 0h1m27 0h1m1 0h4m1 0h1m2 0h1m4 0h1m2 0h4m3 0h3m1 0h2m1 0h1m2 0h1m5 0h1m4 0h2m3 0h1m1 0h2m2 0h1m1 0h4m4 0h3m6 0h1m5 0h1m4 0h1M172 124h2m1 0h3m1 0h4m1 0h1m4 0h4m4 0h1m3 0h1m1 0h4m16 0h1m6 0h1m3 0h2m1 0h1m5 0h1m2 0h1m2 0h2m1 0h3m3 0h1m2 0h1m8 0h1m4 0h2m3 0h1m1 0h2m2 0h1m1 0h4m4 0h2m10 0h2m4 0h1m3 0h2m8 0h2M164 125h3m2 0h1m1 0h1m5 0h5m10 0h3m1 0h1m4 0h2m6 0h1m17 0h1m7 0h2m2 0h2m2 0h1m4 0h4m1 0h1m3 0h3m8 0h4m3 0h1m3 0h2m1 0h2m2 0h1m1 0h4m2 0h5m6 0h5m5 0h1m1 0h2m4 0h2m2 0h3m1 0h1M163 126h3m3 0h2m1 0h2m6 0h2m7 0h1m2 0h1m2 0h1m1 0h1m6 0h1m2 0h1m19 0h1m1 0h1m4 0h5m6 0h5m8 0h3m10 0h2m6 0h1m2 0h9m4 0h2m5 0h1m3 0h1m1 0h5m1 0h1m9 0h2m1 0h2m2 0h2M167 127h1m1 0h1m2 0h1m3 0h1m4 0h1m1 0h1m8 0h1m2 0h3m1 0h2m2 0h1m2 0h3m13 0h1m2 0h3m10 0h1m2 0h1m2 0h2m4 0h2m2 0h2m2 0h3m5 0h3m2 0h3m10 0h1m1 0h5m1 0h1m1 0h3m5 0h3m4 0h4m10 0h4m2 0h4m4 0h1m17 0h1M161 128h1m4 0h3m3 0h2m2 0h1m2 0h6m4 0h1m2 0h1m6 0h2m1 0h2m17 0h5m6 0h1m5 0h3m2 0h2m8 0h3m2 0h1m1 0h1m4 0h1m5 0h1m1 0h3m1 0h4m2 0h1m2 0h1m1 0h4m10 0h5m3 0h2m2 0h1m1 0h1m6 0h1m1 0h3m1 0h3m4 0h2m16 0h1M164 129h1m1 0h2m4 0h5m2 0h2m3 0h1m5 0h3m12 0h2m14 0h3m8 0h1m3 0h1m6 0h2m1 0h3m4 0h3m1 0h4m4 0h6m4 0h2m3 0h1m5 0h1m1 0h4m2 0h1m2 0h2m3 0h3m4 0h1m3 0h4m6 0h1m1 0h1m3 0h1m1 0h2M167 130h1m5 0h1m2 0h1m2 0h3m3 0h2m3 0h1m5 0h2m1 0h1m22 0h2m3 0h1m15 0h1m2 0h1m3 0h2m5 0h1m1 0h2m3 0h1m7 0h1m1 0h4m5 0h1m5 0h2m3 0h2m4 0h2m1 0h3m3 0h2m1 0h1m9 0h3m6 0h3m3 0h1m1 0h2M132 131h1m33 0h1m2 0h1m3 0h9m4 0h1m10 0h2m1 0h1m19 0h4m2 0h3m3 0h1m12 0h2m1 0h2m12 0h1m2 0h1m2 0h3m4 0h1m1 0h2m4 0h1m14 0h1m3 0h4m3 0h1m1 0h3m2 0h1m3 0h3m9 0h1m1 0h3m2 0h1m3 0h1M167 132h3m5 0h3m15 0h1m26 0h3m1 0h1m1 0h1m6 0h1m13 0h1m11 0h1m2 0h2m3 0h1m2 0h1m1 0h2m1 0h4m4 0h1m11 0h4m11 0h2m2 0h2m3 0h1m4 0h1m9 0h3m2 0h2M109 133h1m54 0h1m2 0h3m5 0h2m11 0h1m3 0h2m7 0h1m19 0h1m2 0h2m1 0h2m2 0h2m7 0h2m5 0h1m9 0h4m4 0h1m10 0h9m9 0h5m3 0h1m7 0h1m1 0h2m4 0h1m2 0h1m7 0h2m3 0h3m2 0h2M164 134h1m3 0h2m5 0h2m10 0h2m6 0h1m5 0h1m22 0h5m2 0h1m12 0h1m6 0h1m6 0h2m2 0h1m1 0h3m1 0h1m4 0h2m1 0h2m1 0h3m1 0h1m3 0h1m8 0h1m1 0h1m3 0h1m2 0h1m4 0h1m1 0h2m3 0h2m2 0h2m12 0h1m6 0h1M138 135h1m9 0h1m19 0h2m4 0h1m1 0h2m1 0h2m6 0h1m3 0h2m15 0h2m14 0h1m6 0h1m9 0h2m6 0h1m1 0h1m7 0h1m3 0h1m3 0h4m2 0h5m1 0h4m1 0h1m2 0h3m1 0h1m2 0h6m2 0h1m2 0h2m4 0h2m5 0h3m8 0h1m7 0h2m3 0h2M138 136h2m1 0h1m4 0h1m1 0h1m13 0h1m2 0h3m2 0h2m1 0h2m1 0h1m4 0h2m8 0h3m6 0h1m1 0h2m1 0h1m2 0h2m14 0h1m5 0h1m7 0h1m1 0h1m7 0h1m2 0h1m9 0h1m2 0h1m4 0h1m1 0h1m2 0h5m1 0h1m1 0h6m3 0h3m1 0h7m3 0h1m1 0h1m2 0h2m4 0h2m1 0h1m5 0h1m7 0h5m4 0h4M140 137h2m4 0h1m4 0h1m13 0h6m3 0h2m11 0h1m4 0h4m3 0h3m6 0h2m5 0h4m6 0h1m1 0h2m2 0h1m7 0h1m8 0h2m11 0h2m1 0h1m5 0h1m3 0h2m2 0h4m5 0h5m3 0h6m1 0h2m1 0h4m2 0h2m21 0h3M137 138h1m1 0h3m22 0h5m6 0h2m11 0h2m1 0h4m3 0h4m6 0h2m6 0h2m6 0h2m2 0h1m1 0h2m1 0h1m4 0h1m7 0h1m17 0h1m2 0h1m2 0h3m3 0h1m1 0h3m2 0h1m2 0h1m2 0h3m3 0h3m4 0h10m4 0h1m3 0h3m3 0h1m6 0h4M137 139h1m1 0h2m6 0h1m12 0h3m2 0h3m6 0h2m1 0h2m10 0h3m4 0h5m9 0h2m11 0h1m2 0h1m1 0h1m2 0h2m5 0h3m3 0h2m3 0h1m10 0h2m3 0h1m4 0h2m5 0h6m4 0h3m1 0h7m3 0h6m1 0h1m3 0h1m3 0h2m1 0h2m2 0h1m3 0h2m2 0h3m1 0h3M138 140h1m21 0h2m1 0h2m1 0h1m8 0h1m1 0h3m9 0h1m8 0h2m1 0h1m16 0h1m10 0h2m1 0h1m2 0h5m2 0h2m1 0h1m4 0h1m10 0h1m9 0h1m7 0h2m6 0h4m3 0h4m2 0h2m1 0h1m2 0h1m5 0h1m4 0h1m2 0h1m2 0h1m6 0h1m4 0h1m11 0h1M161 141h1m13 0h2m1 0h1m2 0h1m2 0h2m12 0h1m10 0h1m9 0h2m6 0h1m3 0h1m4 0h2m1 0h1m2 0h2m2 0h2m2 0h2m2 0h1m6 0h1m2 0h2m9 0h1m2 0h1m2 0h1m1 0h2m3 0h2m3 0h1m1 0h2m3 0h6m1 0h1m2 0h4m3 0h2m1 0h3m5 0h4M139 142h1m9 0h1m11 0h1m11 0h1m1 0h4m20 0h1m1 0h1m7 0h1m3 0h1m2 0h1m5 0h1m4 0h1m2 0h8m1 0h1m2 0h1m8 0h2m7 0h1m1 0h2m7 0h2m2 0h1m1 0h2m2 0h7m3 0h4m5 0h9m6 0h4m7 0h1m1 0h2m1 0h1m9 0h1m2 0h2M144 143h1m10 0h1m4 0h2m5 0h1m8 0h2m6 0h1m1 0h1m8 0h2m2 0h4m18 0h1m5 0h1m5 0h1m1 0h2m6 0h1m8 0h1m10 0h2m7 0h2m6 0h1m1 0h8m1 0h4m6 0h2m1 0h1m11 0h2m4 0h8m3 0h3m3 0h1m4 0h1M135 144h1m4 0h2m19 0h1m5 0h2m5 0h1m5 0h1m2 0h1m1 0h1m3 0h1m4 0h1m4 0h2m8 0h3m10 0h6m2 0h2m6 0h1m6 0h1m7 0h2m1 0h2m5 0h1m7 0h1m6 0h1m8 0h9m1 0h3m2 0h6m1 0h1m3 0h3m1 0h2m5 0h3m2 0h1m3 0h5m1 0h2m7 0h1m1 0h1M140 145h1m4 0h1m17 0h2m3 0h1m6 0h2m3 0h1m2 0h1m16 0h1m1 0h1m24 0h2m1 0h1m2 0h2m1 0h1m1 0h1m3 0h1m13 0h3m4 0h1m2 0h1m2 0h1m2 0h2m6 0h1m7 0h8m1 0h2m1 0h4m5 0h1m2 0h1m1 0h2m8 0h4m1 0h2m8 0h2m5 0h1m1 0h4M161 146h1m15 0h1m2 0h1m19 0h2m10 0h1m10 0h1m1 0h1m3 0h1m3 0h6m4 0h5m8 0h1m2 0h1m2 0h1m6 0h1m12 0h2m4 0h8m1 0h9m3 0h1m1 0h1m7 0h1m5 0h7m8 0h1m4 0h2m3 0h1M143 147h1m4 0h1m11 0h1m19 0h2m29 0h1m16 0h1m2 0h1m1 0h1m1 0h2m3 0h1m3 0h1m1 0h1m14 0h1m7 0h1m6 0h3m1 0h1m1 0h2m3 0h2m3 0h2m1 0h2m2 0h1m2 0h3m2 0h2m3 0h2m15 0h4m8 0h1m3 0h1m4 0h2M137 148h1m16 0h1m18 0h3m5 0h4m3 0h2m3 0h2m1 0h1m7 0h1m1 0h1m8 0h1m13 0h1m4 0h3m1 0h1m1 0h3m4 0h1m1 0h1m7 0h1m3 0h3m6 0h1m8 0h2m1 0h1m1 0h1m1 0h1m1 0h1m3 0h1m12 0h1m1 0h3m1 0h2m8 0h1m6 0h4m4 0h1m3 0h3m2 0h1m16 0h1M138 149h1m9 0h1m5 0h1m18 0h4m13 0h1m3 0h1m11 0h1m1 0h1m1 0h1m15 0h1m1 0h1m6 0h1m1 0h1m2 0h5m3 0h1m6 0h2m2 0h1m1 0h1m13 0h1m2 0h1m1 0h1m1 0h1m3 0h3m2 0h2m1 0h1m9 0h2m1 0h2m19 0h2m6 0h2m2 0h3m1 0h1m5 0h1M138 150h1m7 0h3m24 0h1m1 0h2m13 0h1m3 0h1m4 0h2m2 0h2m3 0h1m4 0h1m2 0h1m7 0h1m4 0h3m8 0h6m1 0h2m3 0h1m7 0h4m12 0h2m13 0h1m2 0h1m9 0h1m2 0h1m2 0h2m11 0h1m5 0h3m3 0h3m2 0h5m1 0h1m3 0h3m1 0h1M167 151h1m3 0h3m2 0h1m13 0h1m5 0h3m4 0h1m3 0h1m8 0h1m10 0h1m6 0h3m2 0h3m2 0h1m1 0h1m4 0h1m2 0h1m7 0h3m13 0h1m10 0h1m2 0h1m12 0h3m1 0h4m12 0h2m1 0h3m3 0h6m1 0h1m3 0h2m3 0h1m1 0h3M167 152h5m1 0h1m13 0h2m7 0h2m2 0h3m10 0h2m3 0h1m1 0h1m6 0h1m4 0h2m1 0h1m2 0h1m6 0h2m4 0h1m2 0h1m5 0h3m2 0h1m14 0h1m1 0h2m3 0h1m16 0h2m1 0h1m12 0h1m15 0h5m1 0h3m6 0h3M130 153h1m18 0h2m15 0h1m1 0h4m1 0h2m1 0h1m10 0h5m3 0h1m2 0h1m2 0h1m5 0h2m1 0h1m3 0h1m3 0h1m1 0h1m1 0h1m2 0h4m1 0h4m1 0h2m1 0h1m3 0h1m1 0h2m5 0h4m6 0h1m4 0h2m8 0h1m8 0h2m15 0h2m2 0h1m3 0h1m11 0h1m3 0h1m2 0h1m1 0h1m2 0h4m13 0h2m2 0h1M147 154h1m2 0h1m12 0h1m4 0h1m3 0h1m1 0h4m11 0h2m1 0h1m3 0h2m4 0h2m1 0h3m5 0h2m2 0h1m4 0h2m5 0h3m2 0h2m3 0h2m2 0h1m1 0h1m1 0h1m4 0h1m1 0h1m3 0h1m1 0h2m5 0h1m2 0h1m11 0h1m4 0h1m2 0h2m1 0h2m9 0h1m2 0h2m1 0h1m19 0h1m2 0h2m4 0h4m1 0h3m5 0h1M147 155h1m2 0h1m12 0h1m8 0h3m14 0h2m4 0h1m2 0h1m3 0h1m1 0h2m6 0h1m1 0h2m1 0h1m7 0h1m3 0h2m1 0h1m2 0h2m3 0h2m10 0h1m6 0h1m1 0h1m7 0h2m3 0h2m2 0h6m6 0h1m13 0h2m3 0h1m24 0h1m5 0h3m4 0h2M147 156h2m17 0h1m6 0h3m1 0h1m12 0h1m2 0h1m8 0h1m2 0h2m6 0h1m3 0h1m2 0h2m1 0h1m1 0h2m2 0h1m1 0h6m2 0h3m8 0h1m1 0h1m9 0h1m4 0h2m1 0h1m7 0h1m4 0h2m1 0h2m1 0h1m9 0h1m8 0h2m11 0h1m21 0h1m3 0h2M148 157h1m23 0h1m1 0h4m4 0h2m4 0h1m1 0h4m7 0h1m5 0h1m8 0h1m3 0h2m6 0h1m1 0h7m4 0h4m1 0h1m1 0h1m1 0h1m17 0h3m8 0h1m5 0h1m4 0h1m3 0h1m6 0h1m5 0h1m1 0h1m1 0h1m10 0h1m20 0h7M169 158h1m2 0h4m1 0h1m10 0h4m9 0h1m3 0h1m4 0h1m10 0h2m3 0h4m1 0h1m2 0h7m1 0h1m2 0h3m1 0h2m3 0h2m6 0h3m1 0h1m9 0h4m4 0h3m2 0h1m9 0h1m8 0h2m2 0h2m2 0h1m3 0h2m1 0h1m21 0h2m1 0h1m5 0h1M152 159h1m4 0h1m17 0h4m6 0h1m3 0h4m8 0h1m2 0h1m4 0h2m1 0h1m5 0h2m5 0h2m2 0h3m3 0h5m1 0h1m2 0h4m1 0h3m1 0h1m2 0h1m8 0h1m3 0h1m4 0h1m2 0h3m8 0h1m9 0h2m2 0h1m4 0h1m5 0h1m5 0h2m2 0h1m15 0h1m5 0h4M152 160h1m1 0h1m2 0h2m4 0h1m9 0h1m2 0h2m11 0h3m6 0h1m17 0h1m3 0h3m2 0h6m4 0h1m1 0h1m3 0h2m1 0h9m2 0h2m4 0h1m3 0h1m1 0h1m1 0h1m10 0h1m2 0h2m2 0h1m11 0h1m9 0h1m1 0h1m5 0h1m3 0h1m1 0h1m3 0h1m2 0h1m8 0h1m3 0h6M154 161h3m1 0h1m18 0h2m10 0h4m1 0h4m11 0h1m3 0h1m1 0h3m3 0h7m2 0h5m1 0h2m1 0h2m1 0h5m1 0h4m2 0h3m1 0h1m1 0h1m5 0h2m10 0h1m3 0h6m5 0h3m4 0h1m1 0h1m1 0h1m1 0h2m1 0h1m4 0h2m1 0h2m7 0h1m2 0h1m2 0h1m8 0h1m1 0h3m1 0h1M150 162h1m5 0h1m2 0h2m16 0h1m1 0h2m4 0h3m2 0h1m3 0h1m1 0h3m4 0h2m11 0h2m3 0h3m2 0h2m1 0h2m1 0h4m2 0h8m1 0h1m2 0h2m8 0h1m9 0h1m7 0h1m4 0h1m2 0h1m1 0h1m4 0h1m6 0h1m10 0h1m3 0h1m8 0h4m12 0h1m1 0h3m1 0h2M145 163h1m11 0h1m21 0h2m9 0h2m3 0h1m1 0h2m2 0h2m2 0h1m8 0h2m4 0h1m1 0h3m1 0h1m1 0h2m1 0h5m1 0h1m2 0h3m3 0h1m1 0h3m2 0h3m8 0h1m1 0h1m12 0h1m6 0h1m13 0h1m3 0h1m2 0h1m2 0h1m11 0h2m1 0h1m14 0h5m1 0h1M148 164h1m2 0h1m14 0h1m13 0h1m9 0h2m3 0h1m6 0h1m1 0h2m4 0h1m3 0h1m3 0h1m2 0h1m1 0h1m3 0h10m1 0h9m2 0h2m1 0h1m13 0h1m20 0h1m7 0h1m3 0h1m1 0h1m13 0h1m1 0h2m3 0h1m2 0h2m14 0h2M165 165h1m13 0h1m2 0h1m2 0h2m3 0h1m1 0h1m1 0h2m16 0h1m8 0h4m1 0h5m1 0h1m2 0h2m1 0h5m1 0h2m1 0h1m1 0h2m1 0h3m21 0h1m8 0h1m10 0h2m5 0h1m13 0h1m1 0h1m3 0h2m1 0h1M164 166h1m1 0h1m12 0h1m1 0h3m7 0h1m1 0h1m5 0h2m5 0h2m10 0h2m2 0h6m2 0h4m1 0h2m1 0h3m2 0h1m8 0h2m32 0h1m11 0h2m1 0h1m9 0h1m2 0h2m1 0h3m1 0h1m3 0h2m6 0h1M166 167h1m13 0h1m1 0h2m2 0h4m1 0h3m1 0h1m1 0h1m2 0h1m3 0h1m11 0h1m4 0h2m2 0h2m4 0h6m2 0h5m8 0h2m12 0h1m2 0h1m10 0h1m2 0h1m17 0h1m2 0h1m5 0h1m1 0h1m1 0h2m1 0h2m4 0h1M140 168h1m37 0h4m2 0h2m1 0h2m2 0h3m2 0h1m5 0h1m1 0h1m5 0h1m6 0h1m2 0h6m6 0h2m1 0h3m1 0h5m12 0h1m12 0h1m7 0h1m4 0h2m7 0h1m2 0h1m8 0h1m3 0h1m6 0h1m3 0h9m1 0h1M169 169h1m8 0h1m1 0h2m2 0h1m1 0h4m10 0h2m11 0h1m5 0h1m2 0h1m1 0h4m3 0h6m2 0h1m2 0h2m17 0h1m8 0h1m5 0h1m1 0h1m5 0h1m5 0h2m2 0h1m10 0h1m2 0h2m1 0h1m3 0h1m2 0h1m1 0h1m2 0h1m2 0h4M175 170h1m2 0h1m1 0h1m3 0h1m3 0h1m20 0h1m3 0h2m4 0h2m4 0h3m1 0h4m1 0h3m1 0h2m3 0h2m25 0h2m5 0h2m1 0h4m8 0h1m2 0h1m21 0h3m1 0h2m5 0h1M173 171h1m1 0h2m1 0h4m2 0h5m4 0h1m5 0h1m17 0h2m5 0h2m2 0h4m1 0h7m3 0h3m26 0h2m2 0h5m1 0h1m1 0h1m5 0h2m9 0h1m13 0h2m5 0h3M173 172h1m5 0h3m3 0h1m1 0h2m3 0h1m5 0h1m12 0h1m4 0h2m5 0h1m2 0h4m1 0h1m1 0h3m1 0h3m2 0h6m26 0h7m1 0h1m5 0h1m7 0h1m12 0h1m5 0h1m3 0h3M137 173h1m41 0h1m3 0h2m1 0h1m5 0h1m5 0h1m1 0h2m8 0h1m4 0h2m5 0h3m1 0h2m1 0h4m1 0h3m2 0h1m2 0h6m23 0h5m3 0h6m3 0h1m13 0h1m7 0h1m8 0h5M183 174h3m10 0h1m3 0h2m13 0h1m4 0h1m2 0h3m1 0h3m1 0h2m2 0h3m1 0h6m3 0h1m19 0h1m2 0h6m2 0h5m2 0h3m2 0h1m6 0h1m8 0h3m9 0h2m1 0h4M181 175h3m1 0h1m8 0h1m3 0h1m2 0h1m2 0h3m8 0h1m5 0h2m2 0h3m2 0h4m1 0h4m2 0h4m3 0h1m15 0h2m4 0h6m1 0h5m4 0h1m16 0h1m4 0h1m14 0h1M181 176h1m3 0h2m4 0h2m4 0h1m1 0h3m3 0h1m2 0h1m13 0h1m1 0h4m2 0h1m2 0h2m1 0h3m2 0h8m21 0h9m1 0h2m1 0h2m1 0h1m17 0h1m9 0h2m4 0h1m1 0h2M177 177h5m3 0h1m9 0h4m1 0h1m5 0h1m9 0h1m7 0h1m2 0h1m1 0h2m1 0h3m1 0h3m3 0h3m2 0h3m11 0h2m4 0h1m2 0h2m1 0h11m1 0h2m3 0h1m6 0h1m2 0h1m6 0h1m1 0h1m5 0h1m4 0h1m2 0h1M151 178h2m25 0h1m1 0h1m1 0h4m4 0h1m4 0h1m2 0h4m28 0h2m2 0h1m4 0h7m1 0h1m1 0h2m10 0h1m10 0h3m2 0h1m1 0h2m16 0h1m16 0h2M145 179h1m6 0h1m21 0h2m4 0h1m1 0h2m6 0h1m1 0h3m3 0h3m1 0h1m12 0h1m7 0h2m2 0h1m1 0h1m1 0h1m1 0h2m5 0h11m20 0h1m2 0h4m1 0h3m14 0h2m3 0h1m4 0h1m3 0h1M152 180h2m21 0h1m14 0h1m3 0h1m2 0h5m2 0h1m1 0h2m5 0h1m16 0h1m1 0h7m1 0h5m1 0h2m2 0h2m14 0h1m3 0h2m6 0h1m8 0h2m6 0h1m5 0h1m4 0h1M174 181h2m1 0h4m4 0h2m4 0h1m4 0h1m4 0h1m1 0h1m3 0h1m8 0h1m5 0h1m5 0h2m1 0h1m1 0h2m1 0h1m5 0h1m1 0h1m1 0h2m1 0h3m22 0h3m1 0h1m16 0h1M174 182h2m1 0h6m7 0h1m1 0h3m5 0h6m1 0h1m2 0h2m3 0h2m3 0h1m7 0h1m1 0h2m1 0h3m4 0h2m2 0h8m21 0h1m5 0h2m25 0h1M144 183h2m30 0h4m4 0h1m6 0h1m1 0h1m4 0h2m1 0h3m1 0h2m1 0h2m8 0h1m3 0h1m7 0h2m2 0h2m1 0h4m1 0h10m17 0h1m2 0h2m1 0h2m1 0h1m2 0h1m21 0h1m2 0h1M176 184h2m3 0h2m1 0h3m1 0h2m3 0h2m4 0h1m1 0h2m1 0h3m3 0h1m1 0h2m3 0h1m4 0h2m1 0h1m1 0h3m1 0h1m3 0h4m1 0h2m1 0h4m2 0h2m21 0h1m13 0h1m2 0h1m2 0h1m1 0h2m7 0h1M141 185h1m33 0h3m1 0h1m1 0h5m1 0h1m3 0h3m2 0h2m2 0h4m2 0h1m4 0h1m1 0h1m3 0h1m2 0h2m3 0h3m4 0h1m5 0h4m1 0h2m4 0h1m16 0h2m4 0h2m2 0h1m4 0h1m4 0h1m3 0h1M142 186h1m33 0h3m2 0h1m5 0h2m1 0h1m1 0h1m1 0h1m5 0h2m4 0h1m17 0h2m4 0h1m6 0h7m25 0h1m3 0h1m2 0h2m1 0h1m3 0h1m1 0h1M150 187h4m25 0h1m1 0h2m3 0h2m3 0h1m4 0h5m5 0h1m4 0h1m5 0h1m8 0h5m3 0h5m1 0h2m1 0h1m23 0h1m5 0h3m1 0h2m2 0h1m1 0h1m3 0h1m6 0h1m8 0h1M152 188h1m2 0h1m26 0h4m3 0h1m7 0h1m6 0h6m1 0h1m1 0h1m6 0h2m4 0h1m1 0h5m1 0h1m1 0h2m1 0h3m23 0h1m1 0h3m7 0h1m1 0h2m6 0h1m6 0h2m5 0h1M136 189h1m9 0h1m6 0h1m1 0h1m20 0h1m1 0h1m3 0h3m2 0h1m8 0h1m7 0h1m1 0h1m2 0h1m5 0h1m8 0h1m1 0h6m1 0h1m4 0h3m27 0h5m4 0h3m1 0h1m5 0h1m7 0h1M154 190h2m20 0h1m12 0h1m4 0h1m1 0h4m1 0h4m4 0h3m1 0h1m2 0h1m3 0h1m3 0h4m1 0h1m1 0h4m2 0h1m1 0h3m25 0h3m1 0h2m3 0h2m2 0h2m6 0h2m3 0h2m7 0h1M154 191h1m4 0h3m23 0h2m3 0h1m2 0h3m2 0h2m1 0h3m5 0h2m1 0h4m2 0h1m1 0h1m2 0h5m3 0h2m2 0h7m23 0h2m1 0h1m1 0h2m1 0h5m2 0h1m4 0h1m1 0h2m2 0h1m2 0h3m5 0h1M149 192h2m1 0h2m6 0h2m9 0h2m9 0h1m3 0h1m2 0h1m1 0h1m4 0h1m2 0h1m2 0h1m1 0h3m1 0h1m6 0h1m3 0h1m2 0h2m2 0h1m3 0h2m3 0h3m2 0h3m27 0h1m1 0h2m1 0h2m19 0h4M148 193h4m20 0h1m13 0h1m7 0h2m2 0h2m2 0h8m5 0h1m4 0h1m2 0h2m1 0h1m2 0h4m4 0h1m1 0h2m34 0h1m3 0h1m1 0h1m2 0h1m4 0h3m3 0h1m2 0h1M166 194h1m18 0h1m8 0h1m11 0h3m1 0h1m3 0h4m4 0h2m2 0h7m3 0h1m1 0h1m2 0h1m36 0h1m3 0h1m9 0h1m3 0h4M157 195h1m12 0h1m16 0h1m1 0h1m9 0h1m3 0h3m1 0h6m2 0h1m8 0h1m3 0h1m7 0h3m41 0h1m11 0h1M136 196h1m20 0h1m17 0h1m12 0h2m2 0h1m5 0h3m1 0h2m2 0h1m1 0h4m2 0h3m8 0h1m1 0h2m7 0h3m37 0h1M142 197h1m14 0h1m5 0h1m8 0h1m6 0h1m22 0h3m1 0h1m1 0h1m3 0h5m1 0h1m7 0h2m1 0h1m7 0h1m1 0h1m43 0h1m11 0h2M141 198h2m20 0h1m4 0h2m9 0h2m10 0h1m5 0h7m10 0h1m1 0h1m10 0h3m4 0h1m2 0h2m36 0h1m1 0h4m2 0h1m3 0h2m6 0h4m11 0h1M135 199h1m5 0h1m14 0h9m14 0h2m8 0h1m5 0h2m2 0h1m2 0h1m1 0h1m18 0h1m1 0h3m6 0h2m1 0h1m1 0h4m33 0h1m2 0h1m3 0h1m3 0h2m5 0h5M137 200h1m4 0h1m13 0h8m14 0h4m8 0h2m11 0h2m17 0h1m1 0h3m2 0h2m1 0h4m1 0h2m1 0h7m27 0h1m2 0h2m3 0h2m8 0h3m2 0h1m6 0h1M140 201h3m8 0h1m5 0h3m20 0h2m8 0h2m16 0h2m5 0h2m4 0h2m3 0h2m1 0h2m2 0h5m4 0h5m26 0h1m3 0h1m1 0h2m2 0h1m7 0h1m1 0h6m1 0h2m2 0h2m6 0h1M139 202h1m1 0h1m8 0h1m29 0h2m3 0h1m2 0h1m7 0h1m1 0h3m8 0h3m7 0h2m1 0h2m5 0h2m1 0h2m2 0h3m1 0h1m2 0h1m1 0h1m28 0h4m1 0h2m1 0h2m5 0h2m1 0h1m3 0h1m1 0h4m1 0h1m8 0h1M149 203h2m11 0h1m17 0h1m11 0h3m1 0h5m7 0h7m3 0h3m2 0h1m3 0h7m2 0h2m4 0h4m28 0h1m2 0h6m7 0h2m3 0h6m1 0h2M140 204h1m6 0h1m3 0h1m10 0h2m28 0h2m2 0h4m8 0h1m3 0h2m4 0h3m5 0h1m1 0h3m9 0h1m32 0h1m18 0h1m2 0h2m2 0h1m4 0h1M141 205h1m5 0h2m5 0h1m41 0h3m7 0h3m3 0h4m2 0h1m9 0h2m1 0h1m54 0h1m6 0h1m5 0h2m4 0h3M140 206h1m7 0h2m9 0h1m2 0h1m33 0h4m6 0h1m1 0h6m5 0h2m1 0h1m2 0h1m1 0h2m2 0h2m11 0h1m53 0h1m6 0h1M140 207h1m16 0h3m15 0h1m16 0h1m4 0h1m2 0h1m4 0h3m7 0h2m2 0h2m6 0h1m1 0h2m75 0h1M150 208h1m9 0h1m33 0h1m10 0h1m1 0h1m5 0h1m5 0h4m5 0h5m2 0h1m61 0h1M160 209h1m37 0h1m7 0h1m1 0h1m10 0h3m1 0h1m2 0h1m1 0h1m1 0h2m2 0h1M161 210h1m9 0h1m36 0h1m10 0h1m2 0h2M132 211h1m26 0h1m12 0h1m33 0h2m11 0h1m1 0h2m3 0h1m72 0h1M138 212h2m15 0h1m5 0h2m1 0h1m42 0h1m5 0h1m5 0h2m1 0h1m8 0h1m4 0h1m4 0h1M137 213h1m1 0h1m11 0h1m2 0h2m4 0h2m59 0h2m4 0h1m7 0h1m4 0h1m42 0h1M138 214h1m1 0h1m20 0h1m6 0h1m50 0h1m1 0h1m11 0h2m1 0h2m1 0h2M138 215h2m7 0h1m13 0h2m49 0h1m6 0h1m12 0h3M138 216h2m73 0h1m6 0h1m11 0h3m3 0h3m30 0h1M124 217h1m4 0h5m1 0h1m7 0h3m46 0h2m18 0h2m16 0h4m5 0h2M128 218h2m61 0h1m12 0h1m23 0h1m1 0h1m1 0h3m7 0h1M130 219h1m57 0h1m9 0h1m1 0h1m3 0h1m23 0h2m2 0h5M129 220h2m42 0h1m53 0h1m2 0h3m1 0h2m5 0h1M129 221h2m97 0h1m1 0h2m1 0h1m2 0h3M134 222h1m54 0h1m36 0h1m2 0h4m3 0h2M130 223h1m66 0h1m27 0h2m9 0h2M236 224h2M131 225h1m33 0h3m23 0h1m1 0h1M165 226h3m5 0h1m17 0h1m27 0h1M131 227h2m34 0h1m23 0h1m24 0h2m1 0h1M187 228h2m1 0h1m28 0h1M188 229h1M240 231h1M217 235h1M224 236h1M165 241h1"/>
<path stroke="#d52d22" d="M275 83h1M287 84h1M277 91h1M176 92h1m24 0h1m35 0h1M233 94h2M209 95h1m2 0h3m3 0h1M171 96h1m28 0h2m10 0h2M190 97h1m8 0h2m12 0h1M193 98h1m6 0h1m3 0h1m2 0h2M193 99h1m4 0h1m1 0h1m7 0h1m119 0h1M179 100h1m9 0h1m14 0h1m2 0h1m2 0h3M177 101h3m22 0h1m6 0h3M177 102h3m15 0h1m2 0h1m3 0h1m1 0h1m5 0h2M177 103h2m16 0h1m7 0h2m5 0h1M192 104h1m2 0h1m5 0h5m60 0h1M193 105h1m5 0h4m2 0h1m5 0h1M201 106h2m63 0h1M200 107h2m5 0h2m12 0h1m44 0h2M190 108h2m10 0h1m21 0h1M189 109h1m34 0h1M200 110h1M198 111h2m3 0h4m1 0h2m36 0h1M193 112h2m4 0h1m3 0h1m1 0h7m6 0h1m4 0h1M183 113h1m1 0h1m19 0h2m1 0h4m44 0h1M193 114h1m4 0h1m4 0h1m4 0h4m1 0h1m2 0h2m32 0h1M195 115h6m7 0h6m3 0h2m26 0h1M195 116h4m7 0h8m4 0h2m1 0h1m21 0h1M185 117h1m8 0h2m1 0h2m4 0h8m1 0h2m17 0h1m2 0h1m1 0h1m6 0h1m3 0h1m3 0h2M165 118h1m13 0h1m14 0h1m8 0h10m20 0h2m1 0h2m1 0h1m10 0h1m1 0h1m4 0h1M165 119h1m29 0h2m6 0h6m1 0h3m1 0h2m17 0h3m12 0h1m3 0h1M188 120h3m6 0h1m3 0h16m7 0h2m5 0h6m76 0h1m1 0h1M89 121h1m87 0h2m10 0h1m1 0h1m10 0h15m1 0h9m4 0h1m3 0h1m12 0h1m6 0h3m2 0h1M189 122h1m6 0h5m1 0h8m1 0h17m2 0h1m3 0h2m12 0h1m6 0h4m38 0h1m18 0h1m1 0h1M197 123h4m1 0h27m1 0h1m4 0h1m21 0h1m23 0h1m36 0h2M183 124h1m9 0h2m1 0h1m1 0h3m6 0h16m1 0h6m6 0h1m20 0h1m1 0h2m20 0h1m38 0h4M195 125h1m3 0h2m3 0h5m1 0h17m1 0h2m22 0h1m61 0h1m1 0h1m2 0h4M190 126h2m4 0h1m4 0h2m2 0h2m1 0h19m1 0h1m10 0h2m9 0h4m59 0h1m1 0h9M189 127h3m9 0h2m1 0h2m3 0h13m1 0h2m8 0h5m1 0h2m5 0h4m2 0h2m59 0h10M185 128h1m4 0h2m9 0h1m2 0h17m5 0h2m5 0h5m3 0h1m4 0h7m6 0h1m6 0h1m48 0h1m1 0h6m1 0h1M181 129h3m1 0h1m3 0h1m7 0h8m2 0h14m3 0h5m2 0h1m1 0h3m1 0h6m6 0h4m3 0h1m14 0h4m2 0h2m31 0h1m6 0h6m1 0h1M174 130h2m6 0h3m2 0h1m1 0h1m8 0h1m1 0h21m3 0h3m6 0h10m6 0h1m2 0h5m1 0h1m12 0h1m1 0h1m4 0h1m34 0h7m1 0h1M187 131h3m3 0h2m1 0h1m4 0h19m4 0h2m3 0h2m2 0h10m4 0h1m2 0h8m2 0h2m9 0h4m39 0h2m2 0h2M187 132h2m5 0h6m1 0h19m3 0h1m1 0h1m1 0h1m2 0h2m2 0h9m2 0h1m2 0h1m1 0h9m1 0h2m9 0h1m2 0h1M186 133h2m6 0h7m1 0h19m1 0h2m6 0h1m2 0h7m2 0h1m2 0h1m2 0h9m4 0h4m4 0h6m44 0h2M185 134h2m6 0h2m1 0h5m1 0h22m8 0h10m5 0h4m1 0h6m5 0h1m5 0h4m2 0h1m6 0h1m11 0h2m15 0h1m3 0h1m3 0h2M186 135h1m1 0h3m2 0h15m2 0h14m2 0h1m5 0h9m4 0h3m2 0h1m1 0h7m1 0h3m8 0h2m10 0h1M168 136h2m15 0h3m1 0h2m3 0h6m1 0h1m2 0h1m1 0h2m2 0h14m7 0h7m1 0h1m2 0h6m1 0h2m1 0h9m1 0h2m4 0h1m1 0h1m1 0h2m20 0h1m17 0h1M186 137h1m1 0h4m4 0h3m3 0h6m2 0h5m4 0h6m7 0h6m2 0h8m2 0h11m2 0h1m4 0h2m1 0h3m9 0h1m8 0h3M186 138h2m7 0h3m4 0h6m2 0h6m2 0h6m2 0h2m1 0h1m2 0h1m1 0h4m2 0h6m1 0h1m2 0h11m7 0h2m3 0h3m11 0h1m4 0h3m22 0h3M176 139h1m9 0h3m3 0h4m5 0h9m2 0h5m1 0h5m4 0h1m1 0h2m2 0h5m3 0h3m2 0h2m2 0h10m6 0h4m2 0h4m33 0h3m2 0h2M176 140h1m9 0h3m1 0h8m2 0h1m1 0h16m3 0h2m3 0h3m4 0h2m5 0h2m2 0h1m1 0h2m3 0h10m3 0h7m1 0h4m28 0h2m3 0h3M177 141h1m8 0h1m1 0h10m1 0h10m2 0h8m9 0h3m2 0h3m4 0h2m2 0h1m4 0h1m2 0h2m1 0h6m5 0h5m1 0h3m15 0h1m15 0h1m9 0h1M184 142h2m2 0h11m1 0h1m1 0h7m1 0h3m1 0h2m1 0h4m7 0h2m13 0h8m2 0h7m1 0h1m2 0h7m2 0h2m13 0h3M189 143h6m2 0h2m4 0h18m7 0h5m1 0h1m7 0h1m1 0h8m1 0h10m2 0h7m31 0h1m1 0h2m2 0h1m5 0h1m2 0h1M175 144h1m8 0h1m5 0h4m1 0h4m4 0h6m3 0h10m6 0h2m2 0h3m7 0h2m2 0h7m2 0h1m2 0h5m1 0h7m1 0h2m42 0h1m10 0h2M181 145h2m1 0h1m5 0h10m3 0h6m1 0h13m1 0h1m4 0h1m13 0h13m3 0h4m1 0h2m1 0h2m1 0h2m2 0h5m31 0h2m1 0h1m14 0h1M181 146h2m8 0h9m2 0h10m1 0h10m1 0h1m23 0h8m4 0h2m1 0h6m1 0h10m30 0h1m1 0h3M182 147h2m7 0h20m2 0h14m10 0h3m5 0h1m2 0h8m3 0h2m2 0h6m1 0h6m3 0h1m9 0h3m13 0h2m3 0h2M138 148h1m41 0h1m14 0h1m1 0h7m3 0h6m3 0h10m13 0h1m4 0h3m3 0h7m7 0h6m1 0h7m5 0h1m3 0h1m1 0h3m1 0h1m12 0h1m3 0h1M189 149h1m5 0h8m6 0h1m1 0h3m4 0h7m4 0h1m6 0h1m8 0h3m1 0h6m2 0h2m3 0h11m1 0h1m1 0h2m1 0h1m10 0h1m2 0h1m12 0h1m2 0h4M188 150h2m7 0h2m10 0h4m4 0h7m3 0h2m6 0h3m8 0h1m2 0h3m1 0h7m4 0h12m2 0h3m1 0h1m7 0h1m2 0h1m11 0h2m1 0h2M188 151h2m12 0h1m5 0h8m1 0h1m1 0h7m2 0h1m8 0h1m4 0h2m3 0h4m4 0h5m5 0h13m1 0h1m10 0h1m51 0h3M172 152h1m16 0h3m17 0h4m4 0h1m1 0h1m1 0h6m7 0h1m1 0h2m5 0h1m3 0h4m4 0h5m3 0h2m1 0h14M127 153h2m38 0h1m4 0h1m2 0h1m20 0h2m11 0h1m1 0h3m7 0h1m1 0h2m4 0h1m13 0h1m2 0h5m4 0h6m1 0h4m2 0h8m1 0h3m2 0h3m19 0h2m24 0h1m7 0h2M166 154h2m23 0h1m1 0h3m2 0h1m9 0h4m6 0h1m2 0h1m3 0h4m3 0h2m8 0h1m1 0h1m1 0h1m1 0h4m3 0h3m1 0h1m2 0h5m1 0h2m1 0h9m3 0h4m18 0h2m31 0h1M191 155h4m12 0h5m1 0h1m2 0h1m1 0h2m1 0h4m1 0h3m4 0h2m7 0h10m2 0h5m3 0h7m2 0h3m2 0h2m6 0h4m18 0h3M191 156h2m10 0h2m2 0h6m1 0h2m2 0h2m2 0h1m1 0h1m2 0h2m1 0h1m6 0h2m3 0h8m1 0h1m2 0h2m1 0h5m1 0h4m4 0h7m1 0h4m2 0h1m9 0h1m8 0h4M173 157h1m28 0h5m1 0h7m2 0h3m2 0h6m9 0h4m4 0h1m1 0h1m1 0h1m1 0h17m3 0h3m1 0h3m2 0h2m7 0h1m5 0h1m9 0h2m14 0h1M202 158h3m3 0h1m2 0h8m1 0h1m2 0h3m6 0h2m7 0h1m1 0h2m3 0h1m2 0h3m2 0h6m3 0h1m1 0h7m6 0h4m10 0h5m6 0h3m11 0h1M173 159h2m27 0h2m4 0h1m2 0h1m1 0h5m2 0h5m2 0h1m4 0h3m5 0h1m1 0h2m4 0h1m3 0h1m4 0h5m4 0h3m1 0h3m2 0h2m4 0h4m2 0h1m1 0h3m4 0h2m10 0h1m5 0h3M199 160h1m1 0h2m6 0h7m1 0h3m3 0h2m6 0h4m3 0h3m2 0h1m13 0h4m5 0h1m1 0h1m1 0h6m5 0h2m5 0h4m4 0h2m5 0h1m4 0h1m5 0h3M157 161h1m40 0h5m7 0h3m15 0h2m8 0h1m8 0h1m9 0h1m1 0h1m8 0h10m10 0h5m3 0h2m3 0h1m1 0h1m4 0h1m2 0h2m3 0h1m10 0h2m17 0h1M178 162h1m16 0h1m3 0h4m7 0h6m12 0h1m28 0h3m1 0h3m3 0h3m1 0h7m2 0h3m4 0h1m1 0h4m3 0h2m3 0h6m2 0h1m6 0h3m1 0h2m19 0h1M199 163h2m2 0h2m1 0h1m3 0h4m7 0h1m5 0h1m2 0h1m7 0h2m16 0h8m3 0h12m1 0h6m3 0h4m1 0h4m8 0h1m1 0h2m5 0h7m2 0h1M198 164h4m1 0h1m4 0h2m2 0h2m23 0h1m15 0h13m1 0h19m2 0h7m1 0h2m2 0h1m7 0h1m7 0h1m2 0h2m2 0h2M180 165h1m10 0h1m7 0h3m6 0h2m21 0h1m1 0h2m2 0h1m5 0h1m2 0h1m4 0h1m3 0h21m1 0h8m2 0h7m1 0h1m3 0h3m2 0h1m4 0h1m8 0h1m1 0h1M180 166h1m11 0h1m15 0h3m23 0h1m2 0h1m6 0h1m5 0h2m2 0h22m1 0h9m1 0h9m4 0h1m3 0h3m9 0h1m3 0h1M181 167h1m19 0h1m6 0h2m13 0h2m12 0h2m15 0h12m1 0h2m1 0h2m1 0h1m1 0h5m1 0h2m2 0h9m1 0h1m3 0h2m1 0h1m2 0h1m5 0h1M166 168h1m33 0h2m3 0h1m10 0h1m21 0h1m16 0h1m1 0h12m2 0h1m1 0h1m2 0h1m1 0h4m2 0h7m1 0h2m1 0h8m3 0h1m4 0h1M179 169h1m30 0h3m7 0h2m16 0h1m18 0h4m1 0h8m7 0h1m1 0h4m2 0h5m2 0h2m1 0h8m4 0h1m2 0h1m8 0h1M179 170h1m6 0h2m6 0h1m15 0h3m20 0h1m24 0h12m9 0h1m5 0h7m1 0h2m1 0h6m3 0h2M210 171h6m43 0h13m9 0h1m3 0h3m1 0h1m2 0h9m4 0h1M186 172h1m20 0h4m1 0h4m2 0h2m4 0h2m4 0h1m27 0h16m7 0h1m2 0h4m1 0h1m1 0h5m1 0h3m5 0h1m4 0h1m11 0h1M185 173h1m21 0h1m3 0h4m10 0h1m2 0h1m4 0h1m24 0h12m6 0h3m6 0h3m1 0h11m9 0h1m5 0h1M207 174h1m3 0h4m11 0h1m6 0h1m11 0h3m11 0h9m9 0h2m5 0h2m3 0h2m1 0h6m1 0h1m1 0h1m19 0h1M210 175h5m13 0h2m15 0h3m11 0h5m2 0h2m8 0h1m5 0h4m3 0h10m8 0h1m1 0h1m12 0h1M194 176h2m2 0h1m8 0h1m2 0h5m6 0h1m6 0h2m29 0h9m11 0h1m2 0h1m2 0h1m7 0h4m9 0h5M205 177h1m1 0h9m1 0h6m2 0h2m1 0h1m30 0h2m2 0h4m24 0h6m2 0h1m1 0h1m4 0h1m1 0h1m1 0h2m2 0h1m35 0h1M208 178h22m2 0h2m14 0h1m11 0h1m1 0h5m9 0h1m5 0h1m7 0h6m2 0h4m6 0h1m2 0h1M153 179h1m47 0h1m7 0h3m4 0h7m2 0h2m1 0h1m3 0h1m28 0h6m15 0h14m2 0h3M192 180h2m8 0h2m4 0h5m2 0h8m39 0h4m9 0h3m2 0h7m2 0h6m1 0h5m8 0h1M176 181h1m15 0h2m3 0h4m1 0h1m5 0h4m2 0h2m2 0h4m8 0h1m32 0h1m1 0h2m2 0h2m6 0h1m1 0h16m1 0h6m4 0h1M176 182h1m18 0h5m6 0h1m1 0h2m2 0h3m4 0h1m1 0h3m18 0h1m22 0h1m1 0h4m6 0h2m2 0h21m1 0h1M190 183h1m1 0h1m1 0h4m13 0h5m1 0h1m1 0h3m44 0h2m9 0h1m1 0h2m1 0h20M143 184h3m44 0h3m2 0h1m1 0h2m12 0h1m2 0h3m3 0h2m2 0h1m5 0h1m3 0h1m4 0h1m7 0h1m19 0h1m5 0h1m1 0h11m1 0h2m1 0h2m6 0h1m1 0h1M186 185h1m1 0h3m3 0h2m2 0h2m4 0h2m8 0h3m6 0h2m3 0h4m42 0h2m1 0h1m2 0h1m2 0h3m1 0h3m1 0h1M141 186h1m37 0h2m2 0h4m6 0h1m1 0h5m2 0h4m9 0h5m3 0h1m2 0h4m14 0h1m20 0h1m8 0h2m8 0h1m1 0h2m1 0h2m10 0h3M185 187h1m4 0h1m1 0h4m5 0h5m6 0h2m1 0h2m1 0h2m3 0h1m41 0h2m12 0h2m7 0h1m12 0h2M190 188h3m1 0h3m1 0h6m8 0h1m2 0h5m3 0h2m2 0h1m7 0h1m2 0h1m27 0h1m11 0h1m2 0h1m6 0h2m7 0h1m4 0h1M190 189h1m6 0h7m1 0h1m1 0h2m7 0h4m1 0h3m8 0h1m1 0h4m42 0h1m13 0h1m7 0h1M190 190h2m3 0h1m4 0h1m4 0h4m5 0h2m1 0h3m1 0h3m4 0h1m1 0h1m4 0h2m41 0h2M191 191h1m8 0h1m3 0h5m2 0h1m4 0h2m1 0h1m1 0h2m5 0h3m36 0h1m10 0h2m1 0h2m6 0h1M192 192h4m4 0h2m5 0h1m8 0h3m1 0h2m2 0h2m1 0h3m8 0h2m31 0h1m5 0h1m1 0h3m2 0h2m3 0h1m5 0h1M152 193h1m38 0h1m8 0h2m12 0h1m1 0h3m6 0h1m1 0h2m56 0h1m10 0h2m1 0h1M200 194h4m5 0h1m8 0h1m6 0h1M188 195h1m11 0h3m10 0h1m2 0h3m6 0h1m55 0h3M201 196h1m2 0h2m6 0h2m66 0h4M201 197h1m3 0h1m74 0h3M215 198h1m10 0h1m12 0h1m41 0h2M238 199h1m38 0h2m1 0h3M223 200h1m3 0h1m51 0h3M224 201h1m56 0h2M228 202h1m15 0h1m28 0h1m4 0h1m14 0h1m8 0h1M273 203h1m27 0h1M232 204h1m58 0h1M199 205h1m32 0h1m54 0h1m6 0h3M207 206h1m21 0h1m65 0h1m5 0h1m4 0h1M299 207h2M206 208h1m86 0h1M207 209h1m14 0h1m74 0h2M220 210h2m75 0h5M220 211h1m17 0h1m56 0h1M238 212h1M238 213h1m2 0h1M235 214h1m2 0h1m2 0h1m60 0h1M235 215h1m1 0h1M235 216h3M128 217h1m105 0h5M130 218h1m61 0h2m43 0h5M242 219h1M233 220h1m8 0h1M232 221h1M133 227h1M187 229h1"/>
</g>
<use href="#inn" fill="none" stroke="#262626" stroke-width="1.0" stroke-linejoin="round"/><use href="#ol" fill="none" stroke="#1c1c1c" stroke-width="1.25" stroke-linejoin="round"/><use href="#isl" fill="none" stroke="#1c1c1c" stroke-width="1.1" stroke-linejoin="round"/>
<use href="#spk"/>
<path d="M242.7 230.4L246.2 257.4" stroke="#555" stroke-width="0.5" fill="none"/><g font-family="'Liberation Serif','Noto Serif CJK SC',serif" font-size="7.45" font-weight="bold" fill="#111"><text x="90" y="100.2">肇庆市</text><text x="280" y="106.8">惠州市</text><text x="226" y="118.8">广州市</text><text x="252.5" y="152.8">东莞市</text><text x="159" y="159.3">佛山市</text><text x="290" y="181.5">深圳市</text><text x="217.5" y="195.3">中山市</text><text x="136" y="232.8">江门市</text><text x="202.8" y="228.8">珠海市</text><text x="305.2" y="217">香港特别行政区</text><text x="220.8" y="264.6">澳门特别行政区</text></g>
</g>
<g transform="translate(0.0,303.0)">
<use href="#ol" fill="#b9c7b9"/><use href="#isl" fill="#b9c7b9"/><use href="#wat" fill="#fff"/>
<g transform="translate(0,0.5)" fill="none" stroke-width="1.02" filter="url(#soft)">
<path stroke="#4472b8" d="M122 10h5M121 11h8M121 12h9M120 13h11M119 14h12M118 15h15M118 16h16M118 17h17M118 18h18M118 19h19M118 20h19M117 21h20M102 22h1m13 0h21M102 23h3m11 0h21M88 24h3m1 0h2m7 0h6m8 0h22M84 25h14m2 0h8m6 0h23M84 26h25m3 0h25M84 27h53M84 28h53M84 29h29m1 0h22M85 30h10m1 0h40M85 31h11m1 0h4m1 0h2m1 0h4m2 0h24M86 32h11m2 0h2m10 0h24M86 33h10m3 0h2m11 0h23M86 34h10m7 0h1m9 0h3m1 0h18M86 35h8m3 0h1m5 0h3m8 0h22M86 36h8m3 0h1m7 0h1m8 0h23M85 37h8m5 0h1m15 0h24M85 38h7m1 0h1m4 0h1m14 0h27M86 39h8m3 0h2m14 0h28M86 40h8m19 0h1m1 0h26M86 41h6m1 0h1m19 0h1m2 0h25M87 42h6m20 0h1m2 0h1m1 0h23M88 43h5m20 0h5m1 0h23M88 44h5m22 0h28M89 45h4m22 0h29M89 46h4m22 0h29M89 47h4m23 0h28M90 48h4m22 0h31m145 0h5m2 0h2M90 49h4m17 0h1m4 0h34m138 0h13M90 50h5m16 0h1m4 0h38m132 0h16M87 51h1m1 0h8m17 0h1m2 0h38m128 0h19M85 52h14m18 0h2m1 0h36m115 0h2m10 0h17m1 0h1M83 53h15m17 0h41m106 0h38m2 0h2M81 54h17m19 0h41m102 0h41m2 0h3M81 55h18m14 0h1m2 0h43m100 0h16m2 0h31M80 56h12m1 0h4m2 0h1m13 0h46m99 0h50M80 57h5m3 0h13m14 0h44m98 0h41m1 0h1m2 0h7M79 58h6m3 0h14m11 0h7m1 0h38m96 0h14m1 0h39M79 59h5m3 0h16m9 0h47m95 0h21m2 0h21m1 0h10M79 60h4m3 0h17m3 0h1m3 0h49m94 0h7m1 0h14m1 0h24m2 0h7M79 61h4m3 0h18m1 0h38m1 0h14m95 0h15m1 0h28m3 0h9M79 62h2m1 0h1m1 0h36m1 0h37m92 0h13m3 0h1m2 0h4m1 0h6m4 0h8m1 0h4m4 0h8M77 63h1m1 0h27m1 0h6m2 0h16m1 0h26m88 0h16m4 0h1m3 0h1m1 0h2m1 0h5m2 0h14m4 0h9M66 64h3m7 0h5m2 0h31m1 0h3m1 0h40m86 0h16m15 0h2m4 0h4m4 0h6m5 0h4m1 0h4M65 65h17m1 0h32m9 0h5m1 0h29m86 0h15m2 0h2m12 0h1m3 0h1m2 0h4m3 0h4m4 0h1m1 0h1m3 0h7M64 66h50m1 0h1m1 0h1m7 0h35m84 0h13m1 0h1m20 0h1m2 0h3m1 0h8m6 0h1m3 0h7M64 67h16m1 0h33m3 0h1m1 0h1m5 0h6m1 0h28m84 0h13m21 0h3m3 0h10m1 0h1m8 0h8M64 68h50m1 0h3m6 0h11m1 0h25m83 0h10m3 0h2m11 0h1m5 0h3m1 0h1m3 0h1m2 0h6m11 0h9M63 69h54m7 0h3m1 0h34m81 0h4m2 0h4m5 0h4m2 0h1m1 0h1m3 0h1m3 0h8m5 0h7m12 0h8M63 70h55m6 0h38m81 0h10m2 0h2m1 0h4m2 0h1m7 0h1m1 0h4m1 0h3m24 0h10M62 71h51m1 0h3m10 0h35m81 0h8m4 0h8m8 0h1m1 0h5m2 0h3m23 0h11M62 72h57m10 0h2m1 0h1m1 0h14m1 0h13m81 0h20m1 0h2m4 0h13m7 0h1m15 0h12M62 73h51m1 0h5m4 0h1m8 0h30m80 0h10m2 0h13m1 0h15m25 0h10M62 74h57m1 0h1m12 0h30m81 0h9m1 0h12m1 0h17m24 0h15M62 75h58m6 0h2m4 0h31m59 0h1m19 0h1m2 0h4m3 0h10m1 0h19m5 0h1m23 0h14M62 76h55m9 0h2m4 0h32m54 0h1m1 0h5m2 0h1m14 0h1m3 0h2m5 0h29m4 0h1m20 0h1m2 0h15M62 77h56m1 0h1m11 0h3m1 0h30m52 0h11m13 0h1m3 0h1m7 0h1m1 0h24m27 0h2m2 0h16M61 78h2m1 0h57m13 0h5m1 0h26m51 0h12m15 0h2m3 0h1m3 0h21m12 0h2m22 0h1m1 0h2m1 0h11M60 79h63m8 0h1m2 0h32m49 0h4m2 0h8m27 0h4m2 0h13m4 0h2m4 0h4m23 0h15M60 80h65m10 0h4m1 0h15m1 0h10m49 0h4m2 0h8m26 0h1m6 0h14m4 0h1m6 0h1m24 0h16M59 81h65m11 0h1m4 0h27m47 0h14m25 0h1m2 0h1m5 0h12m12 0h2m21 0h1m2 0h1m1 0h13m1 0h1M59 82h65m13 0h18m1 0h11m46 0h16m26 0h1m1 0h1m5 0h10m13 0h3m6 0h2m12 0h1m5 0h4m1 0h9M58 83h66m14 0h26m49 0h16m32 0h11m20 0h1m2 0h2m17 0h5m1 0h1m1 0h7M52 84h9m1 0h62m13 0h1m1 0h25m49 0h14m34 0h10m7 0h3m6 0h1m1 0h6m1 0h1m5 0h1m13 0h3m1 0h4m1 0h4M49 85h12m1 0h60m1 0h1m9 0h1m8 0h16m1 0h6m49 0h15m2 0h1m29 0h5m2 0h4m6 0h2m2 0h15m5 0h1m11 0h1m2 0h2m1 0h10M49 86h11m1 0h63m9 0h1m8 0h22m1 0h1m48 0h2m1 0h8m2 0h1m2 0h1m32 0h2m1 0h6m6 0h1m3 0h11m1 0h3m8 0h1m13 0h14M49 87h78m7 0h1m8 0h19m2 0h1m49 0h2m1 0h12m1 0h1m12 0h1m19 0h9m5 0h2m1 0h17m8 0h4m10 0h1m2 0h1m2 0h11M48 88h79m5 0h3m8 0h3m1 0h6m1 0h6m3 0h2m52 0h6m1 0h5m1 0h1m34 0h5m7 0h26m23 0h11M48 89h75m1 0h3m7 0h1m8 0h14m6 0h3m52 0h9m40 0h8m3 0h6m1 0h16m2 0h1m2 0h1m19 0h12M49 90h79m11 0h1m4 0h13m4 0h1m1 0h2m51 0h1m1 0h9m40 0h5m1 0h1m4 0h5m2 0h11m1 0h5m1 0h3m1 0h1m18 0h13M48 91h51m1 0h28m18 0h11m4 0h2m52 0h1m2 0h5m1 0h2m43 0h3m6 0h5m1 0h17m2 0h4m1 0h1m2 0h2m13 0h13M48 92h81m2 0h1m15 0h1m2 0h9m2 0h2m51 0h1m3 0h8m44 0h2m5 0h33m16 0h14M48 93h80m1 0h2m2 0h1m13 0h1m1 0h6m1 0h2m6 0h1m52 0h6m47 0h1m7 0h29m1 0h2m15 0h1m1 0h1m2 0h2m1 0h7M48 94h80m1 0h2m3 0h1m7 0h1m4 0h1m1 0h4m3 0h1m61 0h1m1 0h3m19 0h2m1 0h1m26 0h1m6 0h9m1 0h22m14 0h1m5 0h9M47 95h81m1 0h4m17 0h7m84 0h6m31 0h34m20 0h7M48 96h80m1 0h6m15 0h6m69 0h1m12 0h3m1 0h7m26 0h1m3 0h22m1 0h10m20 0h2m1 0h4M47 97h56m1 0h31m18 0h2m34 0h1m46 0h2m3 0h4m1 0h3m25 0h2m1 0h3m1 0h19m2 0h5m1 0h4m15 0h1m2 0h1m4 0h5M45 98h5m1 0h86m99 0h1m1 0h1m1 0h5m1 0h6m25 0h1m1 0h1m1 0h31m20 0h2m3 0h2M45 99h2m5 0h85m6 0h1m20 0h1m56 0h2m15 0h3m2 0h10m19 0h1m6 0h7m1 0h24m21 0h2m4 0h1M42 100h4m8 0h55m1 0h28m26 0h1m74 0h9m1 0h3m21 0h1m8 0h29m22 0h1m3 0h1M41 101h5m4 0h3m1 0h84m25 0h1m67 0h1m7 0h1m1 0h5m1 0h5m17 0h2m2 0h2m1 0h3m3 0h30m26 0h1M41 102h5m6 0h1m1 0h86m97 0h9m1 0h2m1 0h3m21 0h1m2 0h1m4 0h14m2 0h1m1 0h9m30 0h2m47 0h1M41 103h5m8 0h89m95 0h1m3 0h12m21 0h1m6 0h11m1 0h1m6 0h6m23 0h1m4 0h6m42 0h11M41 104h6m8 0h3m1 0h83m100 0h11m19 0h1m1 0h4m4 0h2m1 0h19m1 0h1m27 0h9m39 0h14M41 105h3m1 0h3m7 0h88m4 0h1m10 0h1m84 0h10m2 0h1m13 0h1m2 0h7m6 0h4m1 0h13m13 0h2m15 0h10m36 0h19M40 106h3m2 0h1m1 0h1m5 0h8m1 0h43m1 0h9m2 0h27m2 0h2m10 0h2m84 0h1m1 0h4m1 0h3m18 0h7m9 0h8m1 0h3m2 0h1m2 0h3m1 0h5m16 0h2m2 0h10m30 0h26M40 107h4m3 0h1m7 0h61m1 0h28m102 0h5m1 0h2m10 0h1m5 0h6m1 0h1m11 0h6m1 0h1m1 0h1m2 0h6m2 0h5m15 0h7m2 0h5m29 0h28M40 108h2m1 0h1m10 0h52m1 0h38m81 0h1m20 0h10m11 0h1m1 0h5m1 0h1m1 0h1m1 0h1m9 0h2m7 0h10m1 0h5m16 0h6m2 0h6m26 0h31M40 109h2m12 0h66m1 0h23m14 0h1m67 0h1m23 0h7m11 0h7m1 0h4m1 0h1m10 0h1m8 0h15m14 0h1m1 0h14m16 0h1m6 0h34M39 110h2m15 0h54m1 0h34m106 0h5m1 0h1m6 0h2m2 0h14m3 0h1m10 0h1m4 0h16m14 0h16m15 0h2m4 0h36M39 111h2m16 0h64m1 0h23m106 0h5m1 0h1m11 0h12m11 0h1m8 0h8m1 0h8m14 0h1m1 0h3m1 0h11m13 0h3m2 0h27m1 0h10M42 112h2m15 0h2m1 0h4m1 0h53m2 0h21m1 0h2m72 0h1m34 0h1m4 0h2m9 0h7m1 0h2m4 0h2m7 0h1m9 0h16m17 0h2m2 0h10m12 0h44M42 113h1m16 0h62m1 0h13m1 0h6m3 0h2m107 0h1m3 0h1m11 0h11m2 0h4m15 0h15m19 0h13m12 0h45M56 114h1m4 0h2m1 0h1m1 0h67m1 0h13m107 0h1m16 0h10m7 0h1m13 0h8m1 0h6m13 0h1m6 0h13m11 0h46M62 115h71m1 0h5m1 0h3m1 0h7m123 0h1m1 0h6m4 0h1m7 0h1m7 0h15m19 0h14m10 0h48M63 116h10m1 0h48m1 0h11m7 0h1m4 0h5m106 0h1m16 0h1m1 0h4m1 0h1m4 0h1m17 0h1m1 0h7m1 0h2m18 0h2m2 0h12m9 0h48M64 117h4m1 0h4m4 0h42m1 0h12m14 0h4m126 0h6m26 0h5m24 0h14m8 0h47M59 118h1m15 0h1m4 0h3m1 0h7m1 0h39m14 0h5m129 0h3m26 0h6m20 0h1m2 0h15m7 0h46M81 119h10m1 0h30m3 0h2m1 0h1m7 0h2m8 0h5m128 0h1m29 0h3m26 0h15m5 0h46M62 120h1m20 0h39m6 0h1m6 0h1m11 0h5m157 0h1m1 0h1m28 0h13m5 0h44M81 121h1m4 0h34m27 0h5m2 0h1m8 0h1m147 0h1m28 0h14m3 0h44M86 122h31m1 0h2m3 0h1m15 0h3m3 0h3m1 0h3m2 0h3m6 0h1m176 0h14m2 0h19m1 0h24M86 123h4m1 0h29m3 0h1m20 0h3m1 0h1m2 0h9m180 0h14m2 0h43M87 124h35m21 0h6m2 0h11m178 0h35m1 0h21M85 125h9m1 0h25m21 0h4m1 0h2m3 0h14m177 0h34m4 0h16M85 126h5m1 0h5m1 0h21m23 0h19m1 0h3m178 0h31m9 0h14M82 127h1m5 0h8m1 0h22m2 0h2m17 0h3m1 0h15m1 0h5m177 0h30m11 0h12M88 128h5m1 0h1m3 0h16m1 0h1m5 0h1m18 0h3m1 0h15m2 0h4m144 0h1m33 0h22m1 0h6m9 0h1m1 0h12M89 129h3m7 0h9m1 0h3m1 0h1m1 0h1m24 0h3m3 0h20m178 0h28m9 0h1m2 0h11M105 130h4m1 0h3m3 0h1m25 0h1m3 0h3m1 0h11m2 0h3m177 0h1m3 0h5m2 0h10m2 0h2m2 0h7m5 0h12M91 131h1m15 0h1m1 0h1m36 0h21m97 0h1m80 0h1m2 0h4m3 0h8m4 0h1m4 0h21M146 132h19m184 0h1m4 0h1m19 0h19M93 133h2m18 0h2m27 0h1m4 0h19m182 0h2m25 0h17M101 134h1m46 0h17m3 0h1m166 0h2m37 0h8m3 0h5M148 135h18m142 0h1m65 0h15M148 136h2m1 0h13m191 0h1m18 0h7m1 0h5M150 137h12m171 0h1m24 0h4m3 0h5m2 0h13M148 138h1m1 0h3m2 0h7m196 0h3m1 0h11m1 0h1m1 0h9M155 139h7m193 0h20m2 0h7M150 140h1m5 0h1m3 0h2m190 0h23m3 0h3M352 141h11m1 0h3m1 0h2m1 0h4M161 142h1m190 0h10m1 0h4m1 0h5M154 143h2m195 0h23M351 144h22M351 145h5m1 0h15M350 146h14m1 0h5M350 147h13m3 0h3M320 148h1m30 0h11m4 0h1M312 149h1m3 0h1m2 0h2m30 0h2m4 0h3m1 0h1M137 150h1m3 0h2m150 0h1m25 0h2m1 0h1m35 0h2M141 151h2m150 0h5m3 0h1m14 0h5m37 0h1M293 152h3m15 0h6m2 0h2m36 0h3m2 0h2M131 153h5m2 0h1m4 0h1m149 0h3m18 0h6m38 0h2m1 0h3M128 154h1m1 0h15m150 0h1m17 0h6m36 0h1m1 0h7M126 155h1m3 0h15m154 0h1m3 0h1m7 0h1m3 0h1m5 0h1m32 0h10M124 156h1m4 0h2m1 0h13m44 0h1m109 0h1m1 0h1m53 0h9M124 157h1m4 0h8m1 0h7m2 0h1m41 0h1m143 0h2m18 0h1m1 0h10M129 158h18m182 0h3m1 0h3m15 0h15M126 159h1m1 0h20m181 0h4m2 0h2m16 0h13M127 160h20m181 0h5m2 0h1m17 0h13M127 161h14m1 0h4m6 0h1m178 0h2m3 0h1m17 0h13M127 162h7m1 0h6m1 0h4m7 0h2m9 0h2m160 0h1m4 0h1m22 0h13M130 163h12m1 0h3m18 0h2m129 0h1m5 0h1m51 0h7m2 0h2m2 0h2M131 164h2m2 0h8m10 0h1m10 0h2m166 0h1m1 0h1m19 0h2m1 0h3m1 0h2m3 0h1M131 165h2m1 0h6m24 0h1m2 0h4m166 0h1m12 0h6M135 166h1m2 0h1m4 0h1m16 0h2m3 0h2m1 0h3m178 0h6M153 167h1m3 0h1m2 0h1m2 0h4m1 0h2m3 0h1m174 0h6M155 168h1m2 0h1m1 0h2m2 0h6m3 0h2m173 0h6m14 0h4M156 169h8m1 0h6m2 0h2m173 0h7m3 0h4m1 0h1m1 0h8M136 170h1m19 0h8m1 0h6m1 0h3m173 0h9m1 0h14M154 171h11m2 0h6m175 0h16m1 0h7M152 172h1m1 0h19m147 0h1m27 0h23M153 173h1m1 0h18m175 0h22M155 174h5m1 0h12m1 0h1m173 0h20M155 175h19m51 0h1m122 0h19M157 176h15m175 0h20M157 177h5m2 0h8m175 0h19M156 178h1m2 0h5m1 0h8m139 0h1m35 0h17M159 179h1m1 0h5m2 0h6m175 0h15M161 180h4m3 0h2m1 0h2m154 0h1m21 0h14M161 181h2m1 0h1m3 0h1m1 0h2m154 0h2m24 0h1m2 0h2m2 0h4M166 182h1m1 0h3m156 0h1m31 0h3M166 183h3m1 0h1m189 0h1M133 185h3m32 0h2m160 0h1M134 186h2m12 0h1m9 0h1m10 0h1m159 0h4M127 187h1m1 0h1m2 0h1m8 0h3m2 0h3m179 0h6M126 188h4m1 0h4m5 0h4m2 0h6m174 0h8m1 0h1M126 189h3m2 0h5m6 0h2m1 0h7m174 0h7m1 0h2M125 190h5m3 0h10m2 0h8m80 0h1m75 0h3m13 0h11M125 191h6m3 0h6m1 0h3m2 0h8m136 0h1m16 0h5m13 0h5m1 0h2m2 0h1M124 192h9m1 0h4m1 0h3m4 0h8m153 0h5m13 0h11M123 193h19m6 0h6m13 0h1m62 0h1m1 0h3m73 0h6m11 0h9M123 194h16m1 0h2m8 0h1m79 0h5m52 0h1m19 0h7m13 0h7M122 195h16m2 0h1m87 0h1m1 0h6m2 0h1m68 0h7m15 0h3M121 196h13m1 0h1m92 0h7m71 0h1m3 0h4M121 197h13m1 0h4m88 0h7m6 0h1m66 0h2m1 0h4M119 198h14m2 0h1m1 0h2m1 0h1m3 0h1m11 0h1m70 0h6m8 0h2m65 0h6M119 199h12m3 0h2m91 0h5m3 0h1m72 0h6M118 200h12m1 0h3m2 0h2m44 0h2m44 0h2m1 0h1m2 0h1m73 0h3m1 0h1M118 201h16m41 0h1m6 0h1m52 0h2m71 0h5M118 202h14m42 0h1m2 0h2m5 0h1m43 0h1m80 0h5M117 203h15m4 0h2m38 0h2m7 0h3m23 0h1m16 0h1m4 0h1m2 0h1m73 0h5M117 204h14m45 0h2m1 0h4m1 0h4m40 0h1m4 0h1M116 205h15m46 0h12M114 206h11m51 0h1m1 0h5m1 0h3m1 0h2M113 207h12m7 0h1m42 0h10m1 0h3m1 0h1M112 208h13m53 0h7m2 0h4m11 0h2m23 0h1M106 209h18m19 0h1m30 0h1m1 0h7m2 0h1m1 0h1m1 0h2M105 210h19m3 0h1m48 0h7m2 0h6M103 211h18m17 0h2m36 0h5m2 0h6m5 0h1M103 212h18m54 0h15m105 0h1M103 213h16m56 0h1m1 0h14m85 0h2M103 214h16m23 0h1m11 0h1m4 0h1m16 0h1m1 0h10m1 0h3m83 0h3M101 215h18m29 0h2m2 0h5m1 0h3m12 0h15m1 0h1m82 0h5m2 0h1M100 216h19m21 0h1m1 0h1m4 0h4m2 0h9m12 0h6m1 0h10m81 0h5M100 217h14m1 0h3m3 0h1m16 0h5m2 0h8m1 0h4m1 0h3m5 0h2m3 0h1m1 0h17m32 0h1m50 0h3M98 218h19m4 0h1m17 0h14m1 0h6m1 0h3m8 0h1m2 0h1m1 0h14m5 0h1m72 0h1m6 0h1M98 219h20m15 0h1m5 0h26m12 0h11m1 0h2m3 0h1M98 220h20m16 0h2m2 0h27m12 0h1m1 0h10M98 221h19m20 0h29m11 0h3m2 0h8M98 222h19m15 0h1m2 0h4m1 0h25m13 0h14M99 223h5m1 0h10m1 0h1m2 0h1m12 0h1m1 0h31m9 0h2m1 0h14M99 224h18m15 0h33m15 0h9M100 225h17m15 0h34m14 0h8m5 0h1M99 226h18m13 0h35m15 0h2m1 0h5m18 0h1M99 227h18m13 0h35m20 0h3M99 228h12m1 0h5m13 0h18m2 0h16m19 0h2M99 229h18m13 0h4m1 0h29m21 0h2m28 0h1M99 230h17m15 0h4m1 0h29m13 0h1M99 231h16m16 0h33M105 232h8m16 0h20m1 0h14m1 0h1M106 233h7m17 0h1m2 0h15m1 0h1m1 0h15M107 234h4m19 0h1m2 0h14m2 0h14m24 0h2M110 235h1m20 0h31M132 236h26m2 0h1M111 237h1m20 0h26m2 0h1m2 0h1M114 238h1m17 0h27m1 0h2M134 239h25m2 0h3M132 240h5m1 0h26m1 0h2M133 241h1m1 0h29M134 242h31m2 0h3M118 243h1m15 0h5m1 0h25m2 0h3m13 0h2M134 244h31m1 0h4m1 0h2m3 0h1m3 0h8M136 245h29m1 0h3m1 0h3m7 0h9M136 246h32m8 0h1m1 0h13M136 247h34m5 0h1m2 0h9m1 0h3M133 248h1m1 0h30m1 0h4m9 0h12M133 249h1m4 0h31m10 0h12M138 250h4m1 0h24m1 0h1m10 0h11M139 251h1m1 0h27m11 0h11M139 252h1m1 0h24m16 0h8M141 253h1m2 0h13m2 0h1m1 0h2m18 0h2m1 0h4M141 254h1m3 0h12m23 0h7M136 255h1m5 0h1m5 0h3m1 0h1m3 0h2m23 0h5m4 0h3m12 0h1M150 256h1m6 0h1m2 0h2m19 0h3m5 0h4m9 0h4M144 257h1m7 0h2m35 0h4m9 0h1m1 0h1M130 258h1m10 0h10m1 0h2m48 0h2M130 259h5m1 0h1m2 0h15M128 260h9m1 0h8m1 0h7M128 261h8m3 0h15m3 0h2M127 262h9m6 0h11m4 0h1M127 263h3m2 0h3m6 0h12M126 264h10m6 0h10M125 265h10m9 0h7M125 266h10m13 0h3m21 0h5M125 267h9m36 0h7M125 268h9m34 0h8M126 269h8m33 0h9M126 270h8m32 0h8M126 271h8m31 0h8M126 272h6m32 0h8M128 273h3m25 0h3m5 0h8M129 274h1m23 0h7m5 0h7M152 275h8m6 0h5M151 276h8m7 0h5M149 277h9m8 0h5M149 278h8m9 0h6M148 279h1m1 0h7m9 0h6M148 280h8m10 0h6M147 281h9m10 0h6m5 0h3M147 282h8m12 0h5m4 0h5M146 283h7m14 0h4m6 0h2M147 284h4m18 0h2M148 285h1"/>
<path stroke="#fcbb86" d="M269 58h1M268 61h1M268 62h1M289 64h1M275 68h1M294 69h1M294 71h1M230 77h3m2 0h2m10 0h1M230 78h3m2 0h1m38 0h6m1 0h1M230 79h1m4 0h1m4 0h2m35 0h2M133 80h1m21 0h1m74 0h1m7 0h2m1 0h1m40 0h1m6 0h1M228 81h1m9 0h2m1 0h1m6 0h1m32 0h3m4 0h1m1 0h1M155 82h1m83 0h1m1 0h1m4 0h1m1 0h1m7 0h1m35 0h1M237 83h3m7 0h2m32 0h1M239 84h2m6 0h3m62 0h1M209 85h1m29 0h5m3 0h1m2 0h1m29 0h1m32 0h1M207 86h1m1 0h2m25 0h1m3 0h2m1 0h2m3 0h3m62 0h2M208 87h1m1 0h1m24 0h2m3 0h1m1 0h1m5 0h4m8 0h1M153 88h1m53 0h5m4 0h1m6 0h1m17 0h1m5 0h4m12 0h1M132 89h1m74 0h3m2 0h1m1 0h2m24 0h2m5 0h1m1 0h1m10 0h1m4 0h2M206 90h3m2 0h5m27 0h2m2 0h1m1 0h2m4 0h1m4 0h1m1 0h1m2 0h2m43 0h1M132 91h1m33 0h2m34 0h2m2 0h4m2 0h3m8 0h1m19 0h1m2 0h2m1 0h2m2 0h1m12 0h3m3 0h1M144 92h2m20 0h1m31 0h5m1 0h4m1 0h1m5 0h2m12 0h1m16 0h2m1 0h2m15 0h3m6 0h1M165 93h1m1 0h8m23 0h2m1 0h2m20 0h1m2 0h1m1 0h2m1 0h1m6 0h2m2 0h1m7 0h2m8 0h1m6 0h1m7 0h2M145 94h2m18 0h6m3 0h1m20 0h2m1 0h4m1 0h1m1 0h1m6 0h1m18 0h2m1 0h1m3 0h3m10 0h1m3 0h2m2 0h1m1 0h1m1 0h2m3 0h1M165 95h5m1 0h1m2 0h1m18 0h5m5 0h1m1 0h2m6 0h1m7 0h3m3 0h1m5 0h4m17 0h7m2 0h3m6 0h1m3 0h1m39 0h1m9 0h1M166 96h1m2 0h1m20 0h2m2 0h1m2 0h1m4 0h1m4 0h3m3 0h1m7 0h4m9 0h1m6 0h1m14 0h2m3 0h6m1 0h1m45 0h4m5 0h1m1 0h1M143 97h1m11 0h1m11 0h1m22 0h3m1 0h2m1 0h5m5 0h1m4 0h3m6 0h8m5 0h1m5 0h1m12 0h1m18 0h1m7 0h1m35 0h1m6 0h1M178 98h1m6 0h1m1 0h1m3 0h1m2 0h4m1 0h3m1 0h6m3 0h3m3 0h7m1 0h3m4 0h3m17 0h3m2 0h1m9 0h1m5 0h1m5 0h1M158 99h1m9 0h2m9 0h2m4 0h4m4 0h2m2 0h1m2 0h3m2 0h1m1 0h10m2 0h2m2 0h1m1 0h3m5 0h5m16 0h2m1 0h5m3 0h3m6 0h2m10 0h1M156 100h1m9 0h2m2 0h1m11 0h6m1 0h1m3 0h2m9 0h3m2 0h1m1 0h10m4 0h1m2 0h2m5 0h1m1 0h1m16 0h3m2 0h4m4 0h1m9 0h1m2 0h1M157 101h1m1 0h3m2 0h1m5 0h1m4 0h3m4 0h3m1 0h1m4 0h3m3 0h1m1 0h1m4 0h2m3 0h3m1 0h5m2 0h2m3 0h4m7 0h2m8 0h1m12 0h1m1 0h2m2 0h1m2 0h1m11 0h1m40 0h1m5 0h2m5 0h1m4 0h1M160 102h1m1 0h1m1 0h2m9 0h2m5 0h3m1 0h1m2 0h2m1 0h1m6 0h1m4 0h3m3 0h8m8 0h1m1 0h4m4 0h1m21 0h4m3 0h1m2 0h1m10 0h1m41 0h1m16 0h1M150 103h3m9 0h2m1 0h1m9 0h1m1 0h1m5 0h4m1 0h4m1 0h1m4 0h2m1 0h3m1 0h1m6 0h2m1 0h1m1 0h1m2 0h1m5 0h10m3 0h3m17 0h2m17 0h1m21 0h1m19 0h2M151 104h1m1 0h1m12 0h3m8 0h2m5 0h3m2 0h2m2 0h6m2 0h1m3 0h2m6 0h6m1 0h1m2 0h9m1 0h2m1 0h2m1 0h3m14 0h1m2 0h4m7 0h1m7 0h1m38 0h1m2 0h2M151 105h1m11 0h1m1 0h4m3 0h1m4 0h4m4 0h3m1 0h2m4 0h7m5 0h1m5 0h3m1 0h1m1 0h2m2 0h9m1 0h4m4 0h2m13 0h1m2 0h1m11 0h1m53 0h2m4 0h1M152 106h1m11 0h2m1 0h7m3 0h6m2 0h1m3 0h1m5 0h4m1 0h1m7 0h1m1 0h1m1 0h2m1 0h1m7 0h1m1 0h7m2 0h3m4 0h2m7 0h1m18 0h3m10 0h2m35 0h1m4 0h2M164 107h1m2 0h1m4 0h2m1 0h5m3 0h1m1 0h1m2 0h1m3 0h7m3 0h3m3 0h1m1 0h1m1 0h2m1 0h1m5 0h3m1 0h5m1 0h1m2 0h1m1 0h1m1 0h7m11 0h1m9 0h1m1 0h3m8 0h1m2 0h1M151 108h3m8 0h3m5 0h3m1 0h1m2 0h5m7 0h4m1 0h5m1 0h2m2 0h2m2 0h3m1 0h5m2 0h2m6 0h8m4 0h4m2 0h2m10 0h1m11 0h1m5 0h1m3 0h1m4 0h1m30 0h1m11 0h1M162 109h4m6 0h1m6 0h4m11 0h4m2 0h1m4 0h1m1 0h1m2 0h1m4 0h6m6 0h1m1 0h4m2 0h7m1 0h2m1 0h2m9 0h1m36 0h1m3 0h1M150 110h1m9 0h2m2 0h2m5 0h1m1 0h1m12 0h2m5 0h5m7 0h1m4 0h1m2 0h2m1 0h6m4 0h2m1 0h4m2 0h4m1 0h3m1 0h3m9 0h1m1 0h1m36 0h1m2 0h1m1 0h1M151 111h4m7 0h3m1 0h1m4 0h1m5 0h1m8 0h1m2 0h2m4 0h3m7 0h1m3 0h1m4 0h2m2 0h2m1 0h1m2 0h1m1 0h2m3 0h4m2 0h3m2 0h2m1 0h2m1 0h1m7 0h1m1 0h1m32 0h1m3 0h1m4 0h1m20 0h1m2 0h1M152 112h3m1 0h1m1 0h1m4 0h3m1 0h1m2 0h2m5 0h1m1 0h4m5 0h2m3 0h2m2 0h3m4 0h1m1 0h1m3 0h1m3 0h2m1 0h1m1 0h2m4 0h5m1 0h2m1 0h3m1 0h3m4 0h2m2 0h1m2 0h1m1 0h3m3 0h3m16 0h2m10 0h1m9 0h1m17 0h1m1 0h1M153 113h5m3 0h1m1 0h3m1 0h4m6 0h2m1 0h2m1 0h1m4 0h1m1 0h2m1 0h2m4 0h1m6 0h1m2 0h3m1 0h2m2 0h2m6 0h1m1 0h3m1 0h4m3 0h3m1 0h4m1 0h2m6 0h1m1 0h1m1 0h4m28 0h1m9 0h1m18 0h3M155 114h1m1 0h3m2 0h1m1 0h3m1 0h1m1 0h4m3 0h1m2 0h1m2 0h2m3 0h1m1 0h6m1 0h3m1 0h1m5 0h1m1 0h1m4 0h1m3 0h2m1 0h1m4 0h4m1 0h3m2 0h1m3 0h1m2 0h2m1 0h1m2 0h1m5 0h3m6 0h1m2 0h1m13 0h3m6 0h2m1 0h1m16 0h1m7 0h2m1 0h1m1 0h1M151 115h1m14 0h4m4 0h3m2 0h1m2 0h3m2 0h1m1 0h2m1 0h6m1 0h2m1 0h1m7 0h1m1 0h1m3 0h2m1 0h2m1 0h5m1 0h2m3 0h1m8 0h1m1 0h3m2 0h1m11 0h1m2 0h1m1 0h2m15 0h2m4 0h3m1 0h1m1 0h2m1 0h1m18 0h2m1 0h2m3 0h1m5 0h1m2 0h1M166 116h5m3 0h3m1 0h2m3 0h2m2 0h1m4 0h4m2 0h2m1 0h2m3 0h1m3 0h3m2 0h2m5 0h2m1 0h4m1 0h3m1 0h1m2 0h3m1 0h2m2 0h1m1 0h1m1 0h4m1 0h1m9 0h1m1 0h2m1 0h2m12 0h2m4 0h5m4 0h4m1 0h1m1 0h1m7 0h1m8 0h1m2 0h1m4 0h4M119 117h1m37 0h1m2 0h2m7 0h1m1 0h3m4 0h2m12 0h2m4 0h3m1 0h3m7 0h1m2 0h4m3 0h1m1 0h4m1 0h4m2 0h4m1 0h5m1 0h2m4 0h5m4 0h3m1 0h4m1 0h4m9 0h1m5 0h4m1 0h1m1 0h6m1 0h2m1 0h2m8 0h1m5 0h3m2 0h1m3 0h2M133 118h1m26 0h2m3 0h2m2 0h3m1 0h1m2 0h1m9 0h5m1 0h1m1 0h3m1 0h2m1 0h2m1 0h1m8 0h1m2 0h1m4 0h1m2 0h1m1 0h3m1 0h4m1 0h1m2 0h1m1 0h4m1 0h7m1 0h1m5 0h4m1 0h4m3 0h1m1 0h2m17 0h6m2 0h2m1 0h2m2 0h1m6 0h4m4 0h2m1 0h3m2 0h1M155 119h1m9 0h2m4 0h7m3 0h5m3 0h3m2 0h5m1 0h1m7 0h1m1 0h1m3 0h2m1 0h1m5 0h1m2 0h1m1 0h1m2 0h3m6 0h5m1 0h1m2 0h5m2 0h5m3 0h2m3 0h1m1 0h2m1 0h4m5 0h4m5 0h3m5 0h2m2 0h3m1 0h1m3 0h2m3 0h1m4 0h4m1 0h3m4 0h2M152 120h2m1 0h1m10 0h1m2 0h13m1 0h2m1 0h6m2 0h2m2 0h1m1 0h1m6 0h1m5 0h2m8 0h2m2 0h2m1 0h6m5 0h14m1 0h1m2 0h1m3 0h4m2 0h1m1 0h9m3 0h3m1 0h1m6 0h2m5 0h6m1 0h1m3 0h1m10 0h6m5 0h3M159 121h1m4 0h1m1 0h1m6 0h1m2 0h1m2 0h3m2 0h1m5 0h5m2 0h1m7 0h2m2 0h3m1 0h2m5 0h1m1 0h2m2 0h1m2 0h1m2 0h2m2 0h1m8 0h6m2 0h2m1 0h1m4 0h3m1 0h2m1 0h3m2 0h2m1 0h1m1 0h10m4 0h1m2 0h1m3 0h2m3 0h1m2 0h1m1 0h1m4 0h1m1 0h2m5 0h3m2 0h5m2 0h1M126 122h1m21 0h1m24 0h3m1 0h3m2 0h3m3 0h3m4 0h3m5 0h2m4 0h4m8 0h1m3 0h2m1 0h2m1 0h1m3 0h4m2 0h1m1 0h1m1 0h4m3 0h3m1 0h4m1 0h7m1 0h7m2 0h12m1 0h3m3 0h1m1 0h2m3 0h1m4 0h3m1 0h1m1 0h1m1 0h4m2 0h1m1 0h1m1 0h2m1 0h3m2 0h1m1 0h1M121 123h1m42 0h1m8 0h1m1 0h2m1 0h5m1 0h3m10 0h1m6 0h1m3 0h1m1 0h2m10 0h2m5 0h1m6 0h4m2 0h1m3 0h1m5 0h1m2 0h4m2 0h7m6 0h1m1 0h3m1 0h1m1 0h1m2 0h8m5 0h2m9 0h1m1 0h1m2 0h1m2 0h1m1 0h1m2 0h1m2 0h4m2 0h1m1 0h3M168 124h1m3 0h6m1 0h2m1 0h1m1 0h3m3 0h3m3 0h1m7 0h1m2 0h2m9 0h1m1 0h1m2 0h1m4 0h2m4 0h1m1 0h2m3 0h4m4 0h2m4 0h9m2 0h2m2 0h2m1 0h3m1 0h2m2 0h1m5 0h5m6 0h3m8 0h1m2 0h1m2 0h1m1 0h1m1 0h7m1 0h7m1 0h1M125 125h1m42 0h1m2 0h8m2 0h7m2 0h1m2 0h2m1 0h1m7 0h1m1 0h2m11 0h2m2 0h1m4 0h1m1 0h1m3 0h2m3 0h2m2 0h7m1 0h4m1 0h4m5 0h4m1 0h8m2 0h1m3 0h5m2 0h1m5 0h4m2 0h2m5 0h1m1 0h3m6 0h1m5 0h5m1 0h2m2 0h1M125 126h1m2 0h1m41 0h2m1 0h6m1 0h7m12 0h1m3 0h3m1 0h1m11 0h1m4 0h1m4 0h1m2 0h2m3 0h6m5 0h1m3 0h2m2 0h2m1 0h4m6 0h1m1 0h3m2 0h2m1 0h2m5 0h8m3 0h6m1 0h1m3 0h3m1 0h1m2 0h1m6 0h1m2 0h6m2 0h2M128 127h1m3 0h1m10 0h1m27 0h1m2 0h2m2 0h1m1 0h6m6 0h2m5 0h1m2 0h2m11 0h2m10 0h1m2 0h1m1 0h1m3 0h2m10 0h2m5 0h2m2 0h2m1 0h2m2 0h1m2 0h3m2 0h10m1 0h10m2 0h1m2 0h1m1 0h1m6 0h2m9 0h1m2 0h1m2 0h3m5 0h2m1 0h1M114 128h1m13 0h2m3 0h1m9 0h1m26 0h3m1 0h9m3 0h1m1 0h2m3 0h1m5 0h1m2 0h1m13 0h1m7 0h2m4 0h1m2 0h1m2 0h2m13 0h2m2 0h3m1 0h3m1 0h6m1 0h6m2 0h6m1 0h2m1 0h3m3 0h4m2 0h3m3 0h2m2 0h1m9 0h3m1 0h6m1 0h4M112 129h1m9 0h1m6 0h2m37 0h4m4 0h6m4 0h4m1 0h1m2 0h1m6 0h2m13 0h1m8 0h2m3 0h1m1 0h1m13 0h3m1 0h2m1 0h2m1 0h2m2 0h6m1 0h4m1 0h4m2 0h10m2 0h1m1 0h1m1 0h1m1 0h7m2 0h4m1 0h4m8 0h1m2 0h4M167 130h3m1 0h1m4 0h3m1 0h1m10 0h3m5 0h1m1 0h1m1 0h3m10 0h1m6 0h1m7 0h3m12 0h1m2 0h2m3 0h2m2 0h2m2 0h4m2 0h2m1 0h1m2 0h4m1 0h4m1 0h1m1 0h2m1 0h6m1 0h4m4 0h5m2 0h1m1 0h2m7 0h1m3 0h1m1 0h9M119 131h1m47 0h2m1 0h3m4 0h3m6 0h1m2 0h1m13 0h1m11 0h1m1 0h1m16 0h1m2 0h1m8 0h2m1 0h1m4 0h1m4 0h1m3 0h1m1 0h6m3 0h2m1 0h3m1 0h1m3 0h2m1 0h4m1 0h2m2 0h2m4 0h5m3 0h2m8 0h3m2 0h2m3 0h1m1 0h1M119 132h1m25 0h1m19 0h2m4 0h3m2 0h2m1 0h3m6 0h1m2 0h2m28 0h1m2 0h1m9 0h1m11 0h1m6 0h2m5 0h1m1 0h3m2 0h1m2 0h3m1 0h7m4 0h2m1 0h3m2 0h1m1 0h2m6 0h1m2 0h1m4 0h2m1 0h1m6 0h7m3 0h1m4 0h1m6 0h1m4 0h1M130 133h1m2 0h1m11 0h2m19 0h1m4 0h5m2 0h4m6 0h1m2 0h1m1 0h1m4 0h1m18 0h1m4 0h1m4 0h1m5 0h1m5 0h1m3 0h1m9 0h1m10 0h1m4 0h2m1 0h1m1 0h1m4 0h1m1 0h3m2 0h1m2 0h3m1 0h1m1 0h7m2 0h1m1 0h3m1 0h2m2 0h1m4 0h2m4 0h2m1 0h1m11 0h4m3 0h1M133 134h2m31 0h1m4 0h2m2 0h2m3 0h3m2 0h3m12 0h1m28 0h1m2 0h4m7 0h1m12 0h2m6 0h1m3 0h1m1 0h1m2 0h1m1 0h2m4 0h1m4 0h1m2 0h2m1 0h2m1 0h1m1 0h3m1 0h1m1 0h1m2 0h1m2 0h3m1 0h1m5 0h8m10 0h1m8 0h2M141 135h4m1 0h1m26 0h1m1 0h3m1 0h3m5 0h1m3 0h2m19 0h2m15 0h1m4 0h1m7 0h1m9 0h3m7 0h1m1 0h6m3 0h1m1 0h1m5 0h1m3 0h2m2 0h4m3 0h3m2 0h3m2 0h2m1 0h1m3 0h1m5 0h2m4 0h2M138 136h6m20 0h2m4 0h1m2 0h7m6 0h1m1 0h1m3 0h2m38 0h1m1 0h1m18 0h2m7 0h1m6 0h2m1 0h2m7 0h5m1 0h1m1 0h2m1 0h11m2 0h2m6 0h1m1 0h2m3 0h1m4 0h2m2 0h1M129 137h2m7 0h2m1 0h1m5 0h1m14 0h3m2 0h2m4 0h3m1 0h4m4 0h1m2 0h1m1 0h2m3 0h1m1 0h1m9 0h3m11 0h1m10 0h1m4 0h1m10 0h1m4 0h1m2 0h3m2 0h2m1 0h1m2 0h1m1 0h2m2 0h3m1 0h2m2 0h1m2 0h3m2 0h1m4 0h2m1 0h9m1 0h2m2 0h1m2 0h2m1 0h1m2 0h3m1 0h1m3 0h1m6 0h2M134 138h1m3 0h1m2 0h1m11 0h2m8 0h4m3 0h1m4 0h4m7 0h1m2 0h1m1 0h1m15 0h3m17 0h2m4 0h1m3 0h4m14 0h1m1 0h1m2 0h1m2 0h2m2 0h3m3 0h3m2 0h1m2 0h1m2 0h6m6 0h5m1 0h1m1 0h3m1 0h3m4 0h1m1 0h2m3 0h4m1 0h3m3 0h5m1 0h2m20 0h1M133 139h1m8 0h1m6 0h2m3 0h1m7 0h1m2 0h3m4 0h1m2 0h5m7 0h1m18 0h4m11 0h2m4 0h1m5 0h1m2 0h2m2 0h1m3 0h1m11 0h2m17 0h1m7 0h2m1 0h6m4 0h3m1 0h7m1 0h1m2 0h3m4 0h1m3 0h5m1 0h3m1 0h9M140 140h1m6 0h3m1 0h1m2 0h1m10 0h1m4 0h1m1 0h3m1 0h1m1 0h2m1 0h1m1 0h2m44 0h3m1 0h4m3 0h2m1 0h1m11 0h1m12 0h1m6 0h1m4 0h1m3 0h3m2 0h3m1 0h8m2 0h1m2 0h2m1 0h5m1 0h3m3 0h3m1 0h3m4 0h7M143 141h2m19 0h2m1 0h1m1 0h5m1 0h3m4 0h1m2 0h1m1 0h1m23 0h1m6 0h1m1 0h1m8 0h1m3 0h1m1 0h2m2 0h2m3 0h2m2 0h1m3 0h1m13 0h1m7 0h3m8 0h2m3 0h1m1 0h6m3 0h1m3 0h2m1 0h1m1 0h8m3 0h1m1 0h7m4 0h4m1 0h2m1 0h1M141 142h3m8 0h1m12 0h11m1 0h1m2 0h1m2 0h2m3 0h1m1 0h1m21 0h1m4 0h3m1 0h1m11 0h3m1 0h2m1 0h2m2 0h1m1 0h3m3 0h2m1 0h1m3 0h1m5 0h2m5 0h3m1 0h1m8 0h1m4 0h3m2 0h4m1 0h4m1 0h2m5 0h1m2 0h1m5 0h6m1 0h5m1 0h4m2 0h1M142 143h1m22 0h10m2 0h2m3 0h2m1 0h1m25 0h1m6 0h2m12 0h2m1 0h1m2 0h4m2 0h1m2 0h1m2 0h2m4 0h2m9 0h2m5 0h1m2 0h1m6 0h3m1 0h1m2 0h1m2 0h2m1 0h2m1 0h7m2 0h1m1 0h2m7 0h3m2 0h1m1 0h3m1 0h7m3 0h3M131 144h1m8 0h1m1 0h1m14 0h1m1 0h4m3 0h4m1 0h1m2 0h1m3 0h2m2 0h1m1 0h1m23 0h1m2 0h2m3 0h4m1 0h1m11 0h1m2 0h8m1 0h4m4 0h2m10 0h1m17 0h1m2 0h3m6 0h4m5 0h4m1 0h2m1 0h2m6 0h1m2 0h6m1 0h4m1 0h3m3 0h3M131 145h1m8 0h2m2 0h1m11 0h2m3 0h1m2 0h2m1 0h9m3 0h2m1 0h1m25 0h2m8 0h2m12 0h1m3 0h3m6 0h2m18 0h1m15 0h4m2 0h2m7 0h5m3 0h4m2 0h3m1 0h1m9 0h3m1 0h1m1 0h7m1 0h3m1 0h3M131 146h1m1 0h1m18 0h1m9 0h3m2 0h8m3 0h3m1 0h2m4 0h2m8 0h1m1 0h1m5 0h2m2 0h1m7 0h1m14 0h1m3 0h1m1 0h1m2 0h1m2 0h3m8 0h2m2 0h1m1 0h1m1 0h1m1 0h3m4 0h1m9 0h4m2 0h1m1 0h1m3 0h4m1 0h4m7 0h1m10 0h1m1 0h2m1 0h3m2 0h5m2 0h6m1 0h2M125 147h1m16 0h2m8 0h1m7 0h1m2 0h1m1 0h3m3 0h4m2 0h4m2 0h1m8 0h4m3 0h2m2 0h1m1 0h1m14 0h1m10 0h5m1 0h2m2 0h3m2 0h2m14 0h1m3 0h1m6 0h1m5 0h2m2 0h1m2 0h2m1 0h3m1 0h1m2 0h1m1 0h9m4 0h4m2 0h1m2 0h3m2 0h1m7 0h2m2 0h8m1 0h4M125 148h1m9 0h1m7 0h1m7 0h2m4 0h1m4 0h2m1 0h3m3 0h4m2 0h4m2 0h2m3 0h4m1 0h4m8 0h1m4 0h1m18 0h1m2 0h2m1 0h1m1 0h1m2 0h2m2 0h1m13 0h1m1 0h3m9 0h2m6 0h1m2 0h1m1 0h1m2 0h1m2 0h1m1 0h1m1 0h1m1 0h1m2 0h1m1 0h2m3 0h2m3 0h1m1 0h1m3 0h2m1 0h2m2 0h1m1 0h2m1 0h2m1 0h7m1 0h9M130 149h1m2 0h3m6 0h1m14 0h2m2 0h2m3 0h2m4 0h1m4 0h1m1 0h1m1 0h1m4 0h1m3 0h4m1 0h2m3 0h3m1 0h1m4 0h3m9 0h1m8 0h2m1 0h1m5 0h5m6 0h2m9 0h2m8 0h1m1 0h1m4 0h2m4 0h3m2 0h2m2 0h1m3 0h2m2 0h1m4 0h2m1 0h1m1 0h1m1 0h1m3 0h2m3 0h1m2 0h1m2 0h2m1 0h5m1 0h12M131 150h4m17 0h1m4 0h1m5 0h1m2 0h1m2 0h1m6 0h4m3 0h1m6 0h1m1 0h1m5 0h1m4 0h1m1 0h1m7 0h1m7 0h1m8 0h2m1 0h2m1 0h1m2 0h6m3 0h1m2 0h1m21 0h2m5 0h1m4 0h2m1 0h2m1 0h2m1 0h2m1 0h1m18 0h3m6 0h4m1 0h1m1 0h2m1 0h15M132 151h1m29 0h2m1 0h1m9 0h1m1 0h8m5 0h1m5 0h5m6 0h1m12 0h1m1 0h1m4 0h1m1 0h4m3 0h2m3 0h3m35 0h1m11 0h1m11 0h2m10 0h1m11 0h4m4 0h10m1 0h4m1 0h2M164 152h2m10 0h1m14 0h1m5 0h1m1 0h1m7 0h1m1 0h1m11 0h1m1 0h2m2 0h2m6 0h2m2 0h3m1 0h1m37 0h1m4 0h3m10 0h1m5 0h2m10 0h2m2 0h1m2 0h2m9 0h7m2 0h4m3 0h4M126 153h2m33 0h1m2 0h1m6 0h2m2 0h2m5 0h1m3 0h1m5 0h1m6 0h1m2 0h1m3 0h2m10 0h1m2 0h1m2 0h1m9 0h3m5 0h2m14 0h1m12 0h1m6 0h1m7 0h1m4 0h1m8 0h1m3 0h1m5 0h2m1 0h1m6 0h6m4 0h3m1 0h1m2 0h11m1 0h1m1 0h5m1 0h1M126 154h1m34 0h2m1 0h2m1 0h1m3 0h4m6 0h5m12 0h1m1 0h3m4 0h1m1 0h1m2 0h1m4 0h1m6 0h1m4 0h1m1 0h1m1 0h2m7 0h1m1 0h1m2 0h4m6 0h3m29 0h1m2 0h3m6 0h6m2 0h1m2 0h1m17 0h1m1 0h1m1 0h6m2 0h1m1 0h2m3 0h4M162 155h1m1 0h6m2 0h3m2 0h2m5 0h2m13 0h1m4 0h1m7 0h2m9 0h3m4 0h1m1 0h2m1 0h1m1 0h1m4 0h1m1 0h3m1 0h1m1 0h1m1 0h2m4 0h1m4 0h1m11 0h1m1 0h1m8 0h1m1 0h1m1 0h2m1 0h1m7 0h1m4 0h1m1 0h1m1 0h1m11 0h2m6 0h1m1 0h5m1 0h4m3 0h1m2 0h4M123 156h1m7 0h1m23 0h2m1 0h2m1 0h1m1 0h6m2 0h5m7 0h2m1 0h1m11 0h5m12 0h3m7 0h1m5 0h7m1 0h2m1 0h5m1 0h1m1 0h4m7 0h1m1 0h5m1 0h2m5 0h1m9 0h3m2 0h1m8 0h1m5 0h3m3 0h2m1 0h1m16 0h2m6 0h2m8 0h1M156 157h1m1 0h2m5 0h3m1 0h6m27 0h2m12 0h1m3 0h1m4 0h4m1 0h4m2 0h2m1 0h2m1 0h5m1 0h3m1 0h2m1 0h1m5 0h1m2 0h1m1 0h1m6 0h1m2 0h2m8 0h1m4 0h1m1 0h8m6 0h1m7 0h1m6 0h1m1 0h1m1 0h1m12 0h3m4 0h1m2 0h1M160 158h1m4 0h3m3 0h4m3 0h1m1 0h1m3 0h2m5 0h1m1 0h1m1 0h1m4 0h1m3 0h1m4 0h1m6 0h1m1 0h1m7 0h2m5 0h3m3 0h1m4 0h4m1 0h3m3 0h1m2 0h1m2 0h3m1 0h2m6 0h3m3 0h1m13 0h3m8 0h2m5 0h1m3 0h2m6 0h2m2 0h1m11 0h4m2 0h2m2 0h1M155 159h2m9 0h1m1 0h1m1 0h3m1 0h2m8 0h1m7 0h3m2 0h2m1 0h2m17 0h2m2 0h1m1 0h1m2 0h1m7 0h1m1 0h1m1 0h1m2 0h4m1 0h1m1 0h1m1 0h2m8 0h2m2 0h1m3 0h1m2 0h2m1 0h1m11 0h1m4 0h1m2 0h1m4 0h3m1 0h1m5 0h4m6 0h5m1 0h1m5 0h2m2 0h1m1 0h3m1 0h1m1 0h2M153 160h1m2 0h1m4 0h1m4 0h2m2 0h3m2 0h1m2 0h2m8 0h1m3 0h1m3 0h1m2 0h1m8 0h1m10 0h1m3 0h2m3 0h2m1 0h3m3 0h2m1 0h1m1 0h5m2 0h1m1 0h2m10 0h3m4 0h1m1 0h1m1 0h4m24 0h1m8 0h1m2 0h2m6 0h1m1 0h1m1 0h1m6 0h1m3 0h1m2 0h1m1 0h4M146 161h1m2 0h1m18 0h1m2 0h3m3 0h2m1 0h2m5 0h2m1 0h3m5 0h2m8 0h1m9 0h1m7 0h1m1 0h1m2 0h2m3 0h2m2 0h9m2 0h2m10 0h4m2 0h1m3 0h2m3 0h1m12 0h1m8 0h1m14 0h1m7 0h4m1 0h2m11 0h2M134 162h1m24 0h2m11 0h1m2 0h8m2 0h4m2 0h2m1 0h2m2 0h2m4 0h2m7 0h1m6 0h1m5 0h2m3 0h1m1 0h1m2 0h2m3 0h1m1 0h2m1 0h2m10 0h1m3 0h1m3 0h1m2 0h2m4 0h1m2 0h1m10 0h1m2 0h1m1 0h1m1 0h1m4 0h1m2 0h1m6 0h2m1 0h1m2 0h1m6 0h2m1 0h1m2 0h1m1 0h2m8 0h1M126 163h1m28 0h1m3 0h1m13 0h1m1 0h6m1 0h6m3 0h1m2 0h2m1 0h1m1 0h2m7 0h3m2 0h1m1 0h1m4 0h2m1 0h6m1 0h1m2 0h3m1 0h1m3 0h3m1 0h2m2 0h1m5 0h1m1 0h3m2 0h1m5 0h2m1 0h1m2 0h1m3 0h1m6 0h2m2 0h1m12 0h1m7 0h1m1 0h2m2 0h2m1 0h1m4 0h1m1 0h2m2 0h1m1 0h2m8 0h1M126 164h2m31 0h2m1 0h2m3 0h2m6 0h2m1 0h1m3 0h2m1 0h3m1 0h1m1 0h2m1 0h2m1 0h1m3 0h1m6 0h3m10 0h1m1 0h1m4 0h3m2 0h5m1 0h2m1 0h1m5 0h1m5 0h1m12 0h1m3 0h1m6 0h2m3 0h2m4 0h1m5 0h1m20 0h2m1 0h1m1 0h1m4 0h3m1 0h1m5 0h1m15 0h2m13 0h1M142 165h1m33 0h1m9 0h2m2 0h1m1 0h3m2 0h1m9 0h5m4 0h1m2 0h1m2 0h2m5 0h1m1 0h7m1 0h2m1 0h2m4 0h1m1 0h2m16 0h2m13 0h2m5 0h1m3 0h2m13 0h1m4 0h1m2 0h2m1 0h4m2 0h7M158 166h1m8 0h1m5 0h1m3 0h2m8 0h2m1 0h1m4 0h1m1 0h2m2 0h1m2 0h1m5 0h1m9 0h1m2 0h1m3 0h1m2 0h3m3 0h4m1 0h3m6 0h2m2 0h1m2 0h1m10 0h2m13 0h2m3 0h1m1 0h2m10 0h1m14 0h3m1 0h4m1 0h3m1 0h3M155 167h1m2 0h1m8 0h1m2 0h2m16 0h3m4 0h1m1 0h1m1 0h1m19 0h1m1 0h1m2 0h3m5 0h3m1 0h2m1 0h2m1 0h2m8 0h1m1 0h2m11 0h1m2 0h1m6 0h2m6 0h2m1 0h3m10 0h1m2 0h1m5 0h1m2 0h1m3 0h1m2 0h3m1 0h1m1 0h3m1 0h2M156 168h2m12 0h2m3 0h2m4 0h4m3 0h2m1 0h2m3 0h4m11 0h1m4 0h1m1 0h1m1 0h1m1 0h3m3 0h1m3 0h1m3 0h2m1 0h1m3 0h1m11 0h1m11 0h1m19 0h1m1 0h1m6 0h1m2 0h1m2 0h1m1 0h2m6 0h2m4 0h2m1 0h1m1 0h2m4 0h3M142 169h1m10 0h3m8 0h1m10 0h3m8 0h14m14 0h1m3 0h1m2 0h3m2 0h3m1 0h5m1 0h1m1 0h1m2 0h1m15 0h1m9 0h3m2 0h1m2 0h1m2 0h1m13 0h3m15 0h1m1 0h1m2 0h1m2 0h1m5 0h1m5 0h2M140 170h1m12 0h2m20 0h2m1 0h2m1 0h7m2 0h3m1 0h3m1 0h3m18 0h1m3 0h2m2 0h3m1 0h3m2 0h7m32 0h1m1 0h2m3 0h1m1 0h2m5 0h1m7 0h1m14 0h1m3 0h2m3 0h1m6 0h1M132 171h1m16 0h2m2 0h1m11 0h2m6 0h2m6 0h5m2 0h1m2 0h2m1 0h2m1 0h4m2 0h1m5 0h2m8 0h1m1 0h1m4 0h1m4 0h4m1 0h1m2 0h2m1 0h4m21 0h1m8 0h4m3 0h1m5 0h1m1 0h1m1 0h1m3 0h2m2 0h1m4 0h2m10 0h2m1 0h1m1 0h1m2 0h3M132 172h1m16 0h3m1 0h1m19 0h4m1 0h1m2 0h3m1 0h2m3 0h4m2 0h1m1 0h1m1 0h3m1 0h1m9 0h3m1 0h2m2 0h1m1 0h1m2 0h1m3 0h1m2 0h3m2 0h4m2 0h3m13 0h1m5 0h1m3 0h1m3 0h6m1 0h3m2 0h2m2 0h1m1 0h1m6 0h2m2 0h1m3 0h1m2 0h9m1 0h8M141 173h1m7 0h3m2 0h1m19 0h4m5 0h1m1 0h2m7 0h4m1 0h1m2 0h1m4 0h3m4 0h3m3 0h2m4 0h1m2 0h1m4 0h5m1 0h2m3 0h2m19 0h3m8 0h1m3 0h4m2 0h1m7 0h1m1 0h2m3 0h3m6 0h1m1 0h7m1 0h6m7 0h1M148 174h1m5 0h1m23 0h2m3 0h3m1 0h2m7 0h3m8 0h1m1 0h1m15 0h1m2 0h4m1 0h4m1 0h3m3 0h4m17 0h4m3 0h1m10 0h1m1 0h1m2 0h1m23 0h1m5 0h1m2 0h5m1 0h1m2 0h1m3 0h1M146 175h1m1 0h3m3 0h1m28 0h3m1 0h2m1 0h1m2 0h1m1 0h3m2 0h1m6 0h1m9 0h2m5 0h1m1 0h1m2 0h1m4 0h4m1 0h1m1 0h1m1 0h2m1 0h1m1 0h1m18 0h1m5 0h3m2 0h3m2 0h1m2 0h1m2 0h1m5 0h1m3 0h1m5 0h1m9 0h3m1 0h1m1 0h1m1 0h4m1 0h1m4 0h1M172 176h4m1 0h2m3 0h3m2 0h1m1 0h1m5 0h1m1 0h1m18 0h1m1 0h1m5 0h3m5 0h6m3 0h6m1 0h1m17 0h2m5 0h2m3 0h1m2 0h1m1 0h1m2 0h1m4 0h1m5 0h2m3 0h1m2 0h1m1 0h1m1 0h2m4 0h1m5 0h3m4 0h1M147 177h1m5 0h1m19 0h2m1 0h3m3 0h2m4 0h2m2 0h1m1 0h3m11 0h1m7 0h3m3 0h3m1 0h1m6 0h7m1 0h1m2 0h1m1 0h3m16 0h4m5 0h2m3 0h1m1 0h4m4 0h3m7 0h1m4 0h1m3 0h3m4 0h2m3 0h5m3 0h1m1 0h1M164 178h1m8 0h2m2 0h1m3 0h3m3 0h2m3 0h2m1 0h1m1 0h1m4 0h3m3 0h1m7 0h2m4 0h1m10 0h5m4 0h8m11 0h1m1 0h4m1 0h2m2 0h1m2 0h2m4 0h1m4 0h1m3 0h3m7 0h1m9 0h2m2 0h2m3 0h2m2 0h2m1 0h5M160 179h1m5 0h2m10 0h1m1 0h1m1 0h1m1 0h6m2 0h1m1 0h4m1 0h1m1 0h1m1 0h1m3 0h1m17 0h1m1 0h3m4 0h1m2 0h2m1 0h5m1 0h4m13 0h3m11 0h3m1 0h2m2 0h1m8 0h1m1 0h1m8 0h1m5 0h2m7 0h1m2 0h1m4 0h1m19 0h1M159 180h1m5 0h3m13 0h2m1 0h1m4 0h3m2 0h2m1 0h1m6 0h1m4 0h1m5 0h1m9 0h2m1 0h1m7 0h3m1 0h4m2 0h3m1 0h1m12 0h2m24 0h2m4 0h3m1 0h2m6 0h1m1 0h1m13 0h1m4 0h1M157 181h4m2 0h1m1 0h3m13 0h4m4 0h2m3 0h3m7 0h2m21 0h5m3 0h1m1 0h5m1 0h1m1 0h7m11 0h3m12 0h1m1 0h1m14 0h3m27 0h1M134 182h1m21 0h6m2 0h2m1 0h1m12 0h3m1 0h1m2 0h1m4 0h1m1 0h3m3 0h1m5 0h1m3 0h2m3 0h1m3 0h1m6 0h1m3 0h2m1 0h6m1 0h2m4 0h6m13 0h1m9 0h1m12 0h2m3 0h1m7 0h1m6 0h1M157 183h4m3 0h2m7 0h2m4 0h6m6 0h1m4 0h1m1 0h1m1 0h1m1 0h1m3 0h2m1 0h1m8 0h2m6 0h1m2 0h3m2 0h1m1 0h4m1 0h1m2 0h1m1 0h1m3 0h1m14 0h1m4 0h1m3 0h1m1 0h3m15 0h1m31 0h2M156 184h2m1 0h1m1 0h4m1 0h1m5 0h6m1 0h1m8 0h1m5 0h1m6 0h1m4 0h1m2 0h1m7 0h1m1 0h2m9 0h1m2 0h1m1 0h1m2 0h2m2 0h2m2 0h1m2 0h1m19 0h1m6 0h1m1 0h1m17 0h1m2 0h2m26 0h1M158 185h9m21 0h1m9 0h3m1 0h1m2 0h1m4 0h2m5 0h2m5 0h2m7 0h1m4 0h4m1 0h2m4 0h1m24 0h1m7 0h1m15 0h1M160 186h2m2 0h3m10 0h3m4 0h4m6 0h1m4 0h2m2 0h1m19 0h8m1 0h2m4 0h4m28 0h1m1 0h1m26 0h2M151 187h1m10 0h1m2 0h3m9 0h4m3 0h1m8 0h4m1 0h3m2 0h2m1 0h1m2 0h1m3 0h1m1 0h3m9 0h1m5 0h1m4 0h3m29 0h3m1 0h1m2 0h1m2 0h2m1 0h2m1 0h1m2 0h1m2 0h1m11 0h1m22 0h1M135 188h1m26 0h1m3 0h2m5 0h1m3 0h5m5 0h1m8 0h1m12 0h3m2 0h5m14 0h1m3 0h6m29 0h1m1 0h1m2 0h1m2 0h1m14 0h1m1 0h1m2 0h1M152 189h2m4 0h1m7 0h2m4 0h3m20 0h4m4 0h3m2 0h1m1 0h2m2 0h1m2 0h2m3 0h1m4 0h1m1 0h2m2 0h1m1 0h1m1 0h1m2 0h3m22 0h2m4 0h2m8 0h1m6 0h1m5 0h1m3 0h1m1 0h1m3 0h1M143 190h1m27 0h1m1 0h2m9 0h1m5 0h1m6 0h1m2 0h1m1 0h2m1 0h2m1 0h2m12 0h1m7 0h1m5 0h2m1 0h3m28 0h1m1 0h2m2 0h2m6 0h2m2 0h1m2 0h1m1 0h1m4 0h2m3 0h1m2 0h2M154 191h1m4 0h2m8 0h3m6 0h1m2 0h3m14 0h1m2 0h3m1 0h1m8 0h1m1 0h1m11 0h1m4 0h1m3 0h2m3 0h1m27 0h1m1 0h1m3 0h1m3 0h1m1 0h1m6 0h1m5 0h1m2 0h1m13 0h1M154 192h2m10 0h1m3 0h2m2 0h6m9 0h2m7 0h3m2 0h2m3 0h1m2 0h1m6 0h1m1 0h1m2 0h1m2 0h1m2 0h5m3 0h3m27 0h1m1 0h1m1 0h4m4 0h1m16 0h1m5 0h2m8 0h1M154 193h3m7 0h1m5 0h1m4 0h4m7 0h1m3 0h2m2 0h2m1 0h1m1 0h1m1 0h2m3 0h1m1 0h1m4 0h3m3 0h1m5 0h2m2 0h1m8 0h2m39 0h2m9 0h2m1 0h1m1 0h1m1 0h2m3 0h1m2 0h1m1 0h1m26 0h1M153 194h1m16 0h1m1 0h5m8 0h2m1 0h1m6 0h1m2 0h2m2 0h3m3 0h1m1 0h1m4 0h1m2 0h2m3 0h1m1 0h1m1 0h1m7 0h4m3 0h1m38 0h2m10 0h3m1 0h1M139 195h1m4 0h2m6 0h2m2 0h1m2 0h1m11 0h1m6 0h2m6 0h3m7 0h1m1 0h1m9 0h3m5 0h3m3 0h1m3 0h2m14 0h1m44 0h1m1 0h1m3 0h2m2 0h2m4 0h1m1 0h1M144 196h3m6 0h1m1 0h1m1 0h3m5 0h2m9 0h3m7 0h4m2 0h1m2 0h1m1 0h2m5 0h2m1 0h5m3 0h3m1 0h1m2 0h2m2 0h2m8 0h2m1 0h1m36 0h1m2 0h2m3 0h1m1 0h1m1 0h1m3 0h2m1 0h7m1 0h3m1 0h2M141 197h3m1 0h1m9 0h1m1 0h2m11 0h3m3 0h3m2 0h1m5 0h2m3 0h1m11 0h2m1 0h1m1 0h1m1 0h3m2 0h2m2 0h2m2 0h2m8 0h3m1 0h2m2 0h1m32 0h4m1 0h1m1 0h1m1 0h1m6 0h3m1 0h9m1 0h1M141 198h1m1 0h1m13 0h3m1 0h1m8 0h1m4 0h2m4 0h1m6 0h6m9 0h1m3 0h2m2 0h4m1 0h1m2 0h2m12 0h1m2 0h4m35 0h2m1 0h2m1 0h2m6 0h1m2 0h8m3 0h1m1 0h1M154 199h4m1 0h4m4 0h1m2 0h1m4 0h3m2 0h2m9 0h2m2 0h1m2 0h2m9 0h2m4 0h2m1 0h4m10 0h3m1 0h1m37 0h2m5 0h5m3 0h4m2 0h2m1 0h2m4 0h1M130 200h1m3 0h1m19 0h4m1 0h4m1 0h1m9 0h1m1 0h2m2 0h2m2 0h1m2 0h1m3 0h1m1 0h1m4 0h1m9 0h1m1 0h4m6 0h1m11 0h2m1 0h2m9 0h1m26 0h2m3 0h2m2 0h1m1 0h3m7 0h3m1 0h2m2 0h3M135 201h1m11 0h2m6 0h3m4 0h3m2 0h2m3 0h3m1 0h1m2 0h3m3 0h1m4 0h3m5 0h2m6 0h1m1 0h4m1 0h1m1 0h5m4 0h1m1 0h2m4 0h1m1 0h1m11 0h2m24 0h2m2 0h1m2 0h3m1 0h4m8 0h5m1 0h3M162 202h4m13 0h4m9 0h2m12 0h1m1 0h2m2 0h1m3 0h1m3 0h2m3 0h1m4 0h5m7 0h1m3 0h1m25 0h2m1 0h2m3 0h2m1 0h1m6 0h1m7 0h5m4 0h1M138 203h2m3 0h2m2 0h2m2 0h1m10 0h2m14 0h7m6 0h3m11 0h2m1 0h2m16 0h2m2 0h3m2 0h1m4 0h1m5 0h2m28 0h1m4 0h1m1 0h1m5 0h2m4 0h1m4 0h2m5 0h1M143 204h2m3 0h3m3 0h1m1 0h1m6 0h1m7 0h1m3 0h1m2 0h1m4 0h1m8 0h1m1 0h1m9 0h1m3 0h1m14 0h4m3 0h1m4 0h1m45 0h1m2 0h1m4 0h2m4 0h2m3 0h1m7 0h2M148 205h4m2 0h1m1 0h1m6 0h2m2 0h1m4 0h1m19 0h3m1 0h3m5 0h2m2 0h1m8 0h3m9 0h1m54 0h5m9 0h1m3 0h1M129 206h1m3 0h1m16 0h2m2 0h1m1 0h1m7 0h4m4 0h2m9 0h1m3 0h1m2 0h1m3 0h3m10 0h1m2 0h5m2 0h2m13 0h1m4 0h2m40 0h1m17 0h1M128 207h3m2 0h1m1 0h1m3 0h1m4 0h1m1 0h1m3 0h2m2 0h3m3 0h5m1 0h2m27 0h1m1 0h1m13 0h3m1 0h3m18 0h1m2 0h1M139 208h1m5 0h2m5 0h3m5 0h2m3 0h2m2 0h2m1 0h1m22 0h3m8 0h2m1 0h1m1 0h1m4 0h1m9 0h1m9 0h2m59 0h1M131 209h1m1 0h1m1 0h1m1 0h1m1 0h1m4 0h1m1 0h1m4 0h3m11 0h3m2 0h1m15 0h1m1 0h1m6 0h1m9 0h3m3 0h1m14 0h5m6 0h1m44 0h2m11 0h2M130 210h1m3 0h2m7 0h2m17 0h2m1 0h4m25 0h1m9 0h2m2 0h1m3 0h1m2 0h2m5 0h2m2 0h3m10 0h1m40 0h4m12 0h1m2 0h1M133 211h2m6 0h4m19 0h2m9 0h1m32 0h1m10 0h1m1 0h8m2 0h1m1 0h1m7 0h1m39 0h1m1 0h2M134 212h1m11 0h1m4 0h1m9 0h4m8 0h1m32 0h2m12 0h5m1 0h1m1 0h2m1 0h1m7 0h2m40 0h3m7 0h1M150 213h1m11 0h3m7 0h2m26 0h7m13 0h1m4 0h7m4 0h1m1 0h2m41 0h3M129 214h2m13 0h1m28 0h3m26 0h5m19 0h3m3 0h3m37 0h1m8 0h1M142 215h1m2 0h1m17 0h1m35 0h1m2 0h3m21 0h1m6 0h2M126 216h1m42 0h2m2 0h1m24 0h1m21 0h1m4 0h1m7 0h1m8 0h1M129 217h3m1 0h2m23 0h1m39 0h1m18 0h6m6 0h2m1 0h2m1 0h1m5 0h1M129 218h6m31 0h1m31 0h2m3 0h2m12 0h1m1 0h1m1 0h2m6 0h2m2 0h1M131 219h2m65 0h2m12 0h1m2 0h1m2 0h1m3 0h1m10 0h1m6 0h1M131 220h1m75 0h1m5 0h1m5 0h1m12 0h2M206 221h2m1 0h1m11 0h1m6 0h1m1 0h4m2 0h3M168 222h2m35 0h1m11 0h1m1 0h4m4 0h2m3 0h1m3 0h4M133 223h1m34 0h1m35 0h2m26 0h1m7 0h1M127 224h1m74 0h1m37 0h1M203 225h2m16 0h1m19 0h2M215 226h1m5 0h2m18 0h1M117 227h1m8 0h1M117 228h1m8 0h1m39 0h1m2 0h1M126 229h1m42 0h1M126 230h1M172 231h1M209 232h1M171 233h1M168 234h2m32 0h1m19 0h1M167 235h1M167 236h1"/>
<path stroke="#d52d22" d="M240 80h1M240 81h1M238 84h1M265 86h1M207 87h1m33 0h1M203 92h1M166 93h1m30 0h1m5 0h3M197 94h1m62 0h1m6 0h1m8 0h1M192 95h1M167 96h1m24 0h2m11 0h2m3 0h1m42 0h3M193 97h1m11 0h2m1 0h4m42 0h2M186 98h1m5 0h2m4 0h1m3 0h1m6 0h3m104 0h1M203 99h2m1 0h1M207 100h2m1 0h1M185 101h1m20 0h3m3 0h1M185 102h1m5 0h1m15 0h3m17 0h1m18 0h1M164 103h1m27 0h1m13 0h6m2 0h1m1 0h1M152 104h1m10 0h3m25 0h2m14 0h6m22 0h1M152 105h1m11 0h1m26 0h4m13 0h5M190 106h5m14 0h1M169 107h3m8 0h2m7 0h3m17 0h1m1 0h1m18 0h1m15 0h1M202 108h2m7 0h1M198 109h2m1 0h4m3 0h2m3 0h2m13 0h1m13 0h1M188 110h1m9 0h7m3 0h2m18 0h1m14 0h1M165 111h1m21 0h2m9 0h7m2 0h2m19 0h3m9 0h2m2 0h1m2 0h1M200 112h4m1 0h1m1 0h2m21 0h1m2 0h1m7 0h4m2 0h2m8 0h1m64 0h1M200 113h6m1 0h2m21 0h1m10 0h1m4 0h1m2 0h1m6 0h1M167 114h1m32 0h1m1 0h2m4 0h1m1 0h4m3 0h1m12 0h1m10 0h2m2 0h1m74 0h1M198 115h1m7 0h3m4 0h2m3 0h1m2 0h1m5 0h1m2 0h3m6 0h3m77 0h1m2 0h3M207 116h3m3 0h2m2 0h5m2 0h1m15 0h1m5 0h1m70 0h1m1 0h1m3 0h2m1 0h2M170 117h1m35 0h6m1 0h2m4 0h3m6 0h1m4 0h2m4 0h1m5 0h1m2 0h4m12 0h1m4 0h1m35 0h1m11 0h2m7 0h1M200 118h1m2 0h1m2 0h3m1 0h3m1 0h1m4 0h2m1 0h2m10 0h1m1 0h2m1 0h1m4 0h1m7 0h1m10 0h1m5 0h2m27 0h2m5 0h2m11 0h1m5 0h1M186 119h3m13 0h6m10 0h5m11 0h6m21 0h3m9 0h1m21 0h5m7 0h1m6 0h1m3 0h1M182 120h1m2 0h1m11 0h1m3 0h6m2 0h4m2 0h8m13 0h5m16 0h2m1 0h3m23 0h1m9 0h4m7 0h1m5 0h5M177 121h2m3 0h2m18 0h3m2 0h1m4 0h1m2 0h5m1 0h1m2 0h2m2 0h1m1 0h2m2 0h2m1 0h8m6 0h2m4 0h4m16 0h1m18 0h3m9 0h1m6 0h1M176 122h1m21 0h1m6 0h3m5 0h8m3 0h1m5 0h1m1 0h3m4 0h2m3 0h1m4 0h3m8 0h1m7 0h1m7 0h2m18 0h1m1 0h1m15 0h1m9 0h1M183 123h1m14 0h1m6 0h3m1 0h1m2 0h10m3 0h2m3 0h6m4 0h2m1 0h3m2 0h4m1 0h2m4 0h2m7 0h4m11 0h2m30 0h2m3 0h1m2 0h2m7 0h1M197 124h2m6 0h2m2 0h9m1 0h1m1 0h2m3 0h2m2 0h4m1 0h1m2 0h3m10 0h4m13 0h2m12 0h5m29 0h1M191 125h2m4 0h3m5 0h1m2 0h11m2 0h2m2 0h3m3 0h3m2 0h3m16 0h1m13 0h1m11 0h3m32 0h5M190 126h5m2 0h2m7 0h1m1 0h11m1 0h4m1 0h4m5 0h3m6 0h5m6 0h2m25 0h5m27 0h2m1 0h6M176 127h2m17 0h4m5 0h11m2 0h10m1 0h2m4 0h2m2 0h10m13 0h1m22 0h1m13 0h2m1 0h1m9 0h9m1 0h2M183 128h3m9 0h4m1 0h2m1 0h13m1 0h7m2 0h4m4 0h2m2 0h11m13 0h1m21 0h1m13 0h2m11 0h9m3 0h1M182 129h4m6 0h2m1 0h6m2 0h13m1 0h8m2 0h3m3 0h13m6 0h1m2 0h1m10 0h1m4 0h1m16 0h2m5 0h1m13 0h1m4 0h6m3 0h2M170 130h1m8 0h1m1 0h5m2 0h1m1 0h1m3 0h5m1 0h1m1 0h1m3 0h10m1 0h6m1 0h7m3 0h12m5 0h3m6 0h2m4 0h2m15 0h1m1 0h1m2 0h1m6 0h1m13 0h2m4 0h6m2 0h3M180 131h6m1 0h2m1 0h13m1 0h11m3 0h13m1 0h2m1 0h2m1 0h8m2 0h1m1 0h4m4 0h1m1 0h3m19 0h3m2 0h1m7 0h2m11 0h3m2 0h8M182 132h6m2 0h1m2 0h28m1 0h2m1 0h9m3 0h9m1 0h6m4 0h3m1 0h1m19 0h4m2 0h1m16 0h2m1 0h4m4 0h3M176 133h2m4 0h6m2 0h1m3 0h4m1 0h18m1 0h4m1 0h4m1 0h5m4 0h2m1 0h3m1 0h9m1 0h10m9 0h1m1 0h4m1 0h1m6 0h2m16 0h1m9 0h4m3 0h3M173 134h2m2 0h1m5 0h2m6 0h9m1 0h28m1 0h2m6 0h5m1 0h12m2 0h6m10 0h1m2 0h4m6 0h2m7 0h1m10 0h1m6 0h5M174 135h1m7 0h4m7 0h19m2 0h15m1 0h2m5 0h5m1 0h9m3 0h7m1 0h1m6 0h3m3 0h5m6 0h2m25 0h5M181 136h4m2 0h1m6 0h38m5 0h5m2 0h9m2 0h7m1 0h4m4 0h1m4 0h5m7 0h1m25 0h1m2 0h3M140 137h1m40 0h4m1 0h2m4 0h3m3 0h9m3 0h11m1 0h10m6 0h10m1 0h4m1 0h2m3 0h2m4 0h2m4 0h2m3 0h1m2 0h2m1 0h2m3 0h2m17 0h1m5 0h2m2 0h1m1 0h2m5 0h1M162 138h1m18 0h4m2 0h2m1 0h1m1 0h15m3 0h17m2 0h4m8 0h14m3 0h2m1 0h2m2 0h1m4 0h3m3 0h2m1 0h2m1 0h2m17 0h1m1 0h1m3 0h1m3 0h4m1 0h1M153 139h1m27 0h2m1 0h3m1 0h18m4 0h11m2 0h4m1 0h5m8 0h3m1 0h11m2 0h17m1 0h7m16 0h1m7 0h1m2 0h1m3 0h2m11 0h1M175 140h1m1 0h1m4 0h1m2 0h2m1 0h33m2 0h6m3 0h1m9 0h1m2 0h10m1 0h12m1 0h6m1 0h4m1 0h3m3 0h2m25 0h1m3 0h1m1 0h1m3 0h1M186 141h1m1 0h23m1 0h6m1 0h1m1 0h8m1 0h3m4 0h2m2 0h3m2 0h2m1 0h3m1 0h13m1 0h7m3 0h8m2 0h3m17 0h1m1 0h1m8 0h3m11 0h2M182 142h1m2 0h3m1 0h1m1 0h20m2 0h4m5 0h11m6 0h1m2 0h2m5 0h3m2 0h1m1 0h3m1 0h5m2 0h5m3 0h1m1 0h8m1 0h4m3 0h2m12 0h3m3 0h2m1 0h5m6 0h1m5 0h1M180 143h2m4 0h25m1 0h5m3 0h12m2 0h1m7 0h2m2 0h1m2 0h1m2 0h4m2 0h9m2 0h4m2 0h2m1 0h6m3 0h1m1 0h2m1 0h2m2 0h1m10 0h2m4 0h7m4 0h1m1 0h1M170 144h1m9 0h2m3 0h23m1 0h2m2 0h3m4 0h1m1 0h11m1 0h2m13 0h4m2 0h10m1 0h17m6 0h6m6 0h3m4 0h1m5 0h6m1 0h2m11 0h1M166 145h1m14 0h1m2 0h24m4 0h6m2 0h12m2 0h2m3 0h2m6 0h18m1 0h15m8 0h7m5 0h3m9 0h1m1 0h9m3 0h1M165 146h2m14 0h1m2 0h4m2 0h8m1 0h1m1 0h5m5 0h7m1 0h14m1 0h3m3 0h1m2 0h2m3 0h8m2 0h2m1 0h1m1 0h1m1 0h1m3 0h4m1 0h9m7 0h1m1 0h3m11 0h1m6 0h9M164 147h1m16 0h2m1 0h4m2 0h2m4 0h3m2 0h2m3 0h3m2 0h9m1 0h7m11 0h2m3 0h2m2 0h14m1 0h3m1 0h6m1 0h5m2 0h2m1 0h2m8 0h2m1 0h1m17 0h2m1 0h2M164 148h1m16 0h2m2 0h3m4 0h1m4 0h3m2 0h2m2 0h2m4 0h17m5 0h1m3 0h2m5 0h13m1 0h1m3 0h9m2 0h5m2 0h2m3 0h1m2 0h2m3 0h1m1 0h1m4 0h1m13 0h2m9 0h1M163 149h3m12 0h1m3 0h4m2 0h2m4 0h1m2 0h3m6 0h2m4 0h9m1 0h8m2 0h1m1 0h2m1 0h2m5 0h6m2 0h9m2 0h8m1 0h1m1 0h4m2 0h4m4 0h1m5 0h3m11 0h1m5 0h2m10 0h2m2 0h1M164 150h2m16 0h1m1 0h2m5 0h1m2 0h3m2 0h4m3 0h7m1 0h7m1 0h8m2 0h1m2 0h1m1 0h2m6 0h3m1 0h2m1 0h21m2 0h5m1 0h4m5 0h1m5 0h1m1 0h1m14 0h3m13 0h1M164 151h1m11 0h1m17 0h2m5 0h3m1 0h2m1 0h12m3 0h4m1 0h1m6 0h1m2 0h3m4 0h34m1 0h5m5 0h1m7 0h2m13 0h2M162 152h2m18 0h4m8 0h1m6 0h5m2 0h1m1 0h11m4 0h2m2 0h6m9 0h37m1 0h4m3 0h3m4 0h3m3 0h3M162 153h2m20 0h2m17 0h3m5 0h7m1 0h2m1 0h2m1 0h2m2 0h5m10 0h14m1 0h12m1 0h6m1 0h6m2 0h4m5 0h4m2 0h2m1 0h1m6 0h1m23 0h1M163 154h1m22 0h1m12 0h1m4 0h2m2 0h1m1 0h2m1 0h4m1 0h6m6 0h1m1 0h1m10 0h1m1 0h2m4 0h6m3 0h18m1 0h6m2 0h1m8 0h5m9 0h1m10 0h3m7 0h1M163 155h1m19 0h1m2 0h2m17 0h7m2 0h2m1 0h6m20 0h1m7 0h1m2 0h3m2 0h4m1 0h11m3 0h7m2 0h1m1 0h1m4 0h4m2 0h1m4 0h1m25 0h1M210 156h4m4 0h7m2 0h4m16 0h1m6 0h7m7 0h1m2 0h5m1 0h9m3 0h1m3 0h5m7 0h1M198 157h4m6 0h1m1 0h6m1 0h3m1 0h4m9 0h2m11 0h1m6 0h1m1 0h5m4 0h1m1 0h6m1 0h2m2 0h8m1 0h4m14 0h2m5 0h3m14 0h1M170 158h1m21 0h1m8 0h3m4 0h1m1 0h6m1 0h1m1 0h2m1 0h4m22 0h1m3 0h3m1 0h2m1 0h2m3 0h1m2 0h6m5 0h1m1 0h11m5 0h1m1 0h6m2 0h3m3 0h3m6 0h1M167 159h1m5 0h1m21 0h1m6 0h2m1 0h1m4 0h9m5 0h1m8 0h3m3 0h1m7 0h1m1 0h1m1 0h1m2 0h8m2 0h2m1 0h3m1 0h2m2 0h1m2 0h10m6 0h2m1 0h4m3 0h1m1 0h3m33 0h1M173 160h2m18 0h3m1 0h2m1 0h4m2 0h2m1 0h10m15 0h3m2 0h1m10 0h1m2 0h10m3 0h3m2 0h1m1 0h1m4 0h7m2 0h14m2 0h2m18 0h1m1 0h1M193 161h5m2 0h4m3 0h1m1 0h9m15 0h3m2 0h2m9 0h2m2 0h10m4 0h2m1 0h3m6 0h11m2 0h8m2 0h2m26 0h1M193 162h1m6 0h4m3 0h1m2 0h3m1 0h6m12 0h1m1 0h2m2 0h3m1 0h1m6 0h9m1 0h3m1 0h3m1 0h2m2 0h2m6 0h10m4 0h1m1 0h1m1 0h3m2 0h2m6 0h1m4 0h1m12 0h1M192 163h2m7 0h7m3 0h2m1 0h1m1 0h4m12 0h1m5 0h3m9 0h4m2 0h1m3 0h2m1 0h5m2 0h1m1 0h1m2 0h3m1 0h6m2 0h2m3 0h2m2 0h4m3 0h3m5 0h1m2 0h2m4 0h1m4 0h1M193 164h1m2 0h1m6 0h5m3 0h3m2 0h5m11 0h1m5 0h1m10 0h5m1 0h12m1 0h3m1 0h6m2 0h3m4 0h2m2 0h1m4 0h4m2 0h5m3 0h6m2 0h1m1 0h1m3 0h2m3 0h1M127 165h1m73 0h6m5 0h3m2 0h2m1 0h2m8 0h1m7 0h1m10 0h1m2 0h16m2 0h1m1 0h11m2 0h5m1 0h1m4 0h12m2 0h4m2 0h1m7 0h2M159 166h1m42 0h2m1 0h5m1 0h5m5 0h2m10 0h3m4 0h1m3 0h1m4 0h1m2 0h2m1 0h2m1 0h10m2 0h7m2 0h4m2 0h3m5 0h8m2 0h5m1 0h8m8 0h1m3 0h1M159 167h1m36 0h1m4 0h15m4 0h1m14 0h1m21 0h10m4 0h6m2 0h6m2 0h1m3 0h9m2 0h2m7 0h2m1 0h3m1 0h2m3 0h1m5 0h1M159 168h1m30 0h1m10 0h10m1 0h4m3 0h1m13 0h3m6 0h1m14 0h10m2 0h18m3 0h6m1 0h2m4 0h1m2 0h3m2 0h1m2 0h4M204 169h10m5 0h2m3 0h1m10 0h1m6 0h2m14 0h9m3 0h2m1 0h2m2 0h1m1 0h9m1 0h3m3 0h4m2 0h3m1 0h3m5 0h2m1 0h2m5 0h1M188 170h2m14 0h10m6 0h3m2 0h2m7 0h2m7 0h2m13 0h17m4 0h3m1 0h1m2 0h5m5 0h3m1 0h8m5 0h1m8 0h1M189 171h2m13 0h5m2 0h2m3 0h1m6 0h3m9 0h1m1 0h2m19 0h9m1 0h8m4 0h2m5 0h1m2 0h1m8 0h2m1 0h1m19 0h1M189 172h1m4 0h2m1 0h1m1 0h1m5 0h4m1 0h4m3 0h1m5 0h1m1 0h1m11 0h2m19 0h3m1 0h5m1 0h3m1 0h3m6 0h1m13 0h1m6 0h1m2 0h2M200 173h2m1 0h4m3 0h4m3 0h1m4 0h4m21 0h2m9 0h8m3 0h8m1 0h3m9 0h3m6 0h3m3 0h3m4 0h1M149 174h2m35 0h1m12 0h7m2 0h1m1 0h14m8 0h1m4 0h1m10 0h1m10 0h6m4 0h3m1 0h10m3 0h2m3 0h5m3 0h4m1 0h4m8 0h2m1 0h1M186 175h1m11 0h2m1 0h6m1 0h9m2 0h4m7 0h4m25 0h7m2 0h5m3 0h2m3 0h2m4 0h2m4 0h2m1 0h1m3 0h5m1 0h2m14 0h1M185 176h2m1 0h1m7 0h1m5 0h4m2 0h8m1 0h1m1 0h4m4 0h5m27 0h7m2 0h5m2 0h3m4 0h1m4 0h2m5 0h3m6 0h2m1 0h1m1 0h1M172 177h1m11 0h4m19 0h1m1 0h7m3 0h3m3 0h1m1 0h6m9 0h2m15 0h6m4 0h5m2 0h1m8 0h4m4 0h6m1 0h4m1 0h2M184 178h3m7 0h1m14 0h7m2 0h4m1 0h10m7 0h2m18 0h1m1 0h1m4 0h1m2 0h2m1 0h2m8 0h3m1 0h3m3 0h3m1 0h3m1 0h2m2 0h5M198 179h1m1 0h1m1 0h1m5 0h17m1 0h1m3 0h4m27 0h2m3 0h11m3 0h1m2 0h2m1 0h8m1 0h1m1 0h5m2 0h1m1 0h5M187 180h2m3 0h2m2 0h1m1 0h6m3 0h2m1 0h5m1 0h9m4 0h7m15 0h1m10 0h1m2 0h14m1 0h9m2 0h4m3 0h1m5 0h1M187 181h2m2 0h3m4 0h6m4 0h2m2 0h15m5 0h3m1 0h1m5 0h1m23 0h12m1 0h1m1 0h14m3 0h3M162 182h2m19 0h1m4 0h4m6 0h2m1 0h3m3 0h3m2 0h3m1 0h3m1 0h6m1 0h2m3 0h1m6 0h1m2 0h2m19 0h2m1 0h9m1 0h12m2 0h3m1 0h7m4 0h2M161 183h3m24 0h3m3 0h2m3 0h1m1 0h1m10 0h6m2 0h6m1 0h2m3 0h2m1 0h1m4 0h1m1 0h2m7 0h1m11 0h2m1 0h4m1 0h3m5 0h15m1 0h6m4 0h2M165 184h1m23 0h5m2 0h1m2 0h1m2 0h1m9 0h5m1 0h1m2 0h6m2 0h1m1 0h2m7 0h2m2 0h1m5 0h2m13 0h2m3 0h4m5 0h17m1 0h2M187 185h1m1 0h9m3 0h1m1 0h2m1 0h1m2 0h1m2 0h5m2 0h5m2 0h2m3 0h2m9 0h1m22 0h2m4 0h3m1 0h2m1 0h4m2 0h14M188 186h6m1 0h4m5 0h1m1 0h1m5 0h11m8 0h1m10 0h3m28 0h1m1 0h2m1 0h3m4 0h12M187 187h6m4 0h1m16 0h1m3 0h5m5 0h5m9 0h2m29 0h1m16 0h2m3 0h2m2 0h1M188 188h8m1 0h4m18 0h3m5 0h6m36 0h3m24 0h1m2 0h1M189 189h5m5 0h4m6 0h1m6 0h1m2 0h3m6 0h1m2 0h2m34 0h1m1 0h2m2 0h2m1 0h1m3 0h1m14 0h3m1 0h1M172 190h1m18 0h5m2 0h2m1 0h1m13 0h7m9 0h2m34 0h3m11 0h1m12 0h4m14 0h1M172 191h3m17 0h6m19 0h7m8 0h1m36 0h1m11 0h1m12 0h1M172 192h2m17 0h6m5 0h1m18 0h1m2 0h1m55 0h4m10 0h1M171 193h4m14 0h1m2 0h1m5 0h1m4 0h2m2 0h1m10 0h1m1 0h2m1 0h2m3 0h1m52 0h4m9 0h1m1 0h1M171 194h1m17 0h2m6 0h1m18 0h2m6 0h1m3 0h2m54 0h3m2 0h2m5 0h1m1 0h1M189 195h2m6 0h1m25 0h3m62 0h1m1 0h1m4 0h2M190 196h1m33 0h2m55 0h1m3 0h1m1 0h1m1 0h3M189 197h3m16 0h1m1 0h1m3 0h2m21 0h1m41 0h1m1 0h1m1 0h1m4 0h3m13 0h1M209 198h2m6 0h2m2 0h1m12 0h2m41 0h1m5 0h1m6 0h2m12 0h1M193 199h1m23 0h1m58 0h2M135 200h1m27 0h1m28 0h1m6 0h1m18 0h2m55 0h3m2 0h2M212 201h1m12 0h1m7 0h1m41 0h1M217 202h1m8 0h2m19 0h1M221 203h1m53 0h1m26 0h1M193 204h1m107 0h2M155 205h1m140 0h1m4 0h1M155 206h1m7 0h1m44 0h2M165 207h1m42 0h3M208 208h1m1 0h1m81 0h1M208 209h3m27 0h1m52 0h1m1 0h1M206 210h2m85 0h1m1 0h1m2 0h1M206 211h2m26 0h1m4 0h2m41 0h1m12 0h1M225 212h1m6 0h3m6 0h1M232 213h3m5 0h3M200 214h2m33 0h8M200 215h1m34 0h8M234 216h8M236 217h5m1 0h1M218 218h1m16 0h8M235 219h5m2 0h1M235 220h3m1 0h4M239 221h3M231 222h1m8 0h1M141 262h1"/>
</g>
<use href="#inn" fill="none" stroke="#262626" stroke-width="1.0" stroke-linejoin="round"/><use href="#ol" fill="none" stroke="#1c1c1c" stroke-width="1.25" stroke-linejoin="round"/><use href="#isl" fill="none" stroke="#1c1c1c" stroke-width="1.1" stroke-linejoin="round"/>
<use href="#spk"/>
<path d="M242.7 230.4L246.2 257.4" stroke="#555" stroke-width="0.5" fill="none"/><g font-family="'Liberation Serif','Noto Serif CJK SC',serif" font-size="7.45" font-weight="bold" fill="#111"><text x="90" y="100.2">肇庆市</text><text x="280" y="106.8">惠州市</text><text x="226" y="118.8">广州市</text><text x="252.5" y="152.8">东莞市</text><text x="159" y="159.3">佛山市</text><text x="290" y="181.5">深圳市</text><text x="217.5" y="195.3">中山市</text><text x="136" y="232.8">江门市</text><text x="202.8" y="228.8">珠海市</text><text x="305.2" y="217">香港特别行政区</text><text x="220.8" y="264.6">澳门特别行政区</text></g>
</g>
<text x="520" y="372.9" font-family="'Liberation Serif','Noto Serif CJK SC',serif" font-size="18.4" fill="#111" textLength="220.4" lengthAdjust="spacingAndGlyphs">粤港澳大湾区空间冲突格局</text><text x="546.4" y="395.6" font-family="Liberation Serif, serif" font-size="17.7" fill="#111" textLength="168.5" lengthAdjust="spacingAndGlyphs">(2000/2015/2020)</text><text x="185.6" y="309.4" font-family="Liberation Serif, serif" font-size="12.2" fill="#111" textLength="61.3" lengthAdjust="spacingAndGlyphs">(a) y=2000</text><text x="608.5" y="308.5" font-family="Liberation Serif, serif" font-size="12.2" fill="#111" textLength="61.3" lengthAdjust="spacingAndGlyphs">(b) y=2015</text><text x="176.8" y="606.5" font-family="Liberation Serif, serif" font-size="12.2" fill="#111" textLength="61.3" lengthAdjust="spacingAndGlyphs">(c) y=2020</text><text x="583.3" y="442.6" font-family="'Liberation Serif','Noto Serif CJK SC',serif" font-size="17.4" font-weight="bold" fill="#000" textLength="35.4" lengthAdjust="spacingAndGlyphs">图例</text><text x="584.6" y="467" font-family="'Liberation Serif','Noto Serif CJK SC',serif" font-size="12.2" fill="#111" textLength="98" lengthAdjust="spacingAndGlyphs">空间冲突指数级别</text><rect x="584.7" y="478.6" width="28.9" height="14.4" fill="#4472b8" stroke="#6e6e6e" stroke-width="0.9"/><text x="618.7" y="489.5" font-family="'Liberation Serif','Noto Serif CJK SC',serif" font-size="10.2" fill="#3a3a3a" textLength="41.1" lengthAdjust="spacingAndGlyphs">稳定可控</text><rect x="584.7" y="498.1" width="28.9" height="14.4" fill="#c2cfc1" stroke="#6e6e6e" stroke-width="0.9"/><text x="618.7" y="509" font-family="'Liberation Serif','Noto Serif CJK SC',serif" font-size="10.2" fill="#3a3a3a" textLength="41.1" lengthAdjust="spacingAndGlyphs">基本可控</text><rect x="584.7" y="517.7" width="28.9" height="14.4" fill="#fdba84" stroke="#6e6e6e" stroke-width="0.9"/><text x="618.7" y="528.6" font-family="'Liberation Serif','Noto Serif CJK SC',serif" font-size="10.2" fill="#3a3a3a" textLength="41.1" lengthAdjust="spacingAndGlyphs">基本失控</text><rect x="584.7" y="537.4" width="28.9" height="14.4" fill="#d52d22" stroke="#6e6e6e" stroke-width="0.9"/><text x="618.7" y="548.3" font-family="'Liberation Serif','Noto Serif CJK SC',serif" font-size="10.2" fill="#3a3a3a" textLength="41.1" lengthAdjust="spacingAndGlyphs">严重失控</text><g stroke="#111" stroke-width="0.5" fill="#fff"><path d="M811.7 360.8L814.1 374.3L809.3 374.3Z"/><path fill="#111" d="M811.7 360.8L814.1 374.3L811.7 374.3Z"/><path d="M834.2 383.3L820.7 385.7L820.7 380.9Z"/><path fill="#111" d="M834.2 383.3L820.7 385.7L820.7 383.3Z"/><path d="M811.7 405.8L809.3 392.3L814.1 392.3Z"/><path fill="#111" d="M811.7 405.8L809.3 392.3L811.7 392.3Z"/><path d="M789.2 383.3L802.7 380.9L802.7 385.7Z"/><path fill="#111" d="M789.2 383.3L802.7 380.9L802.7 383.3Z"/></g><circle cx="811.7" cy="383.3" r="11.1" fill="#fff" stroke="#111" stroke-width="1.5"/><text x="811.7" y="356.5" font-family="Liberation Sans, sans-serif" font-size="8.4" fill="#111" text-anchor="middle">N</text><text x="811.7" y="416.6" font-family="Liberation Sans, sans-serif" font-size="8.4" fill="#111" text-anchor="middle">S</text><text x="782.4" y="386.4" font-family="Liberation Sans, sans-serif" font-size="8.4" fill="#111" text-anchor="middle">W</text><text x="840.4" y="386.4" font-family="Liberation Sans, sans-serif" font-size="8.4" fill="#111" text-anchor="middle">E</text><rect x="529.5" y="592.9" width="177.8" height="5.1" fill="#fff" stroke="#000" stroke-width="0.8"/><rect x="529.5" y="592.9" width="11.1" height="5.1" fill="#000"/><rect x="551.7" y="592.9" width="11.1" height="5.1" fill="#000"/><rect x="573.9" y="592.9" width="44.5" height="5.1" fill="#000"/><rect x="662.8" y="592.9" width="44.5" height="5.1" fill="#000"/><text x="529.5" y="588.9" font-family="Liberation Sans, sans-serif" font-size="9.2" fill="#111" text-anchor="middle">0</text><text x="551.7" y="588.9" font-family="Liberation Sans, sans-serif" font-size="9.2" fill="#111" text-anchor="middle">25</text><text x="573.9" y="588.9" font-family="Liberation Sans, sans-serif" font-size="9.2" fill="#111" text-anchor="middle">50</text><text x="618.4" y="588.9" font-family="Liberation Sans, sans-serif" font-size="9.2" fill="#111" text-anchor="middle">100</text><text x="662.8" y="588.9" font-family="Liberation Sans, sans-serif" font-size="9.2" fill="#111" text-anchor="middle">150</text><text x="707.3" y="588.9" font-family="Liberation Sans, sans-serif" font-size="9.2" fill="#111" text-anchor="middle">200</text><text x="709.2" y="598.0" font-family="Liberation Sans, sans-serif" font-size="10" fill="#111">Kilometers</text>
</svg></body></html>
